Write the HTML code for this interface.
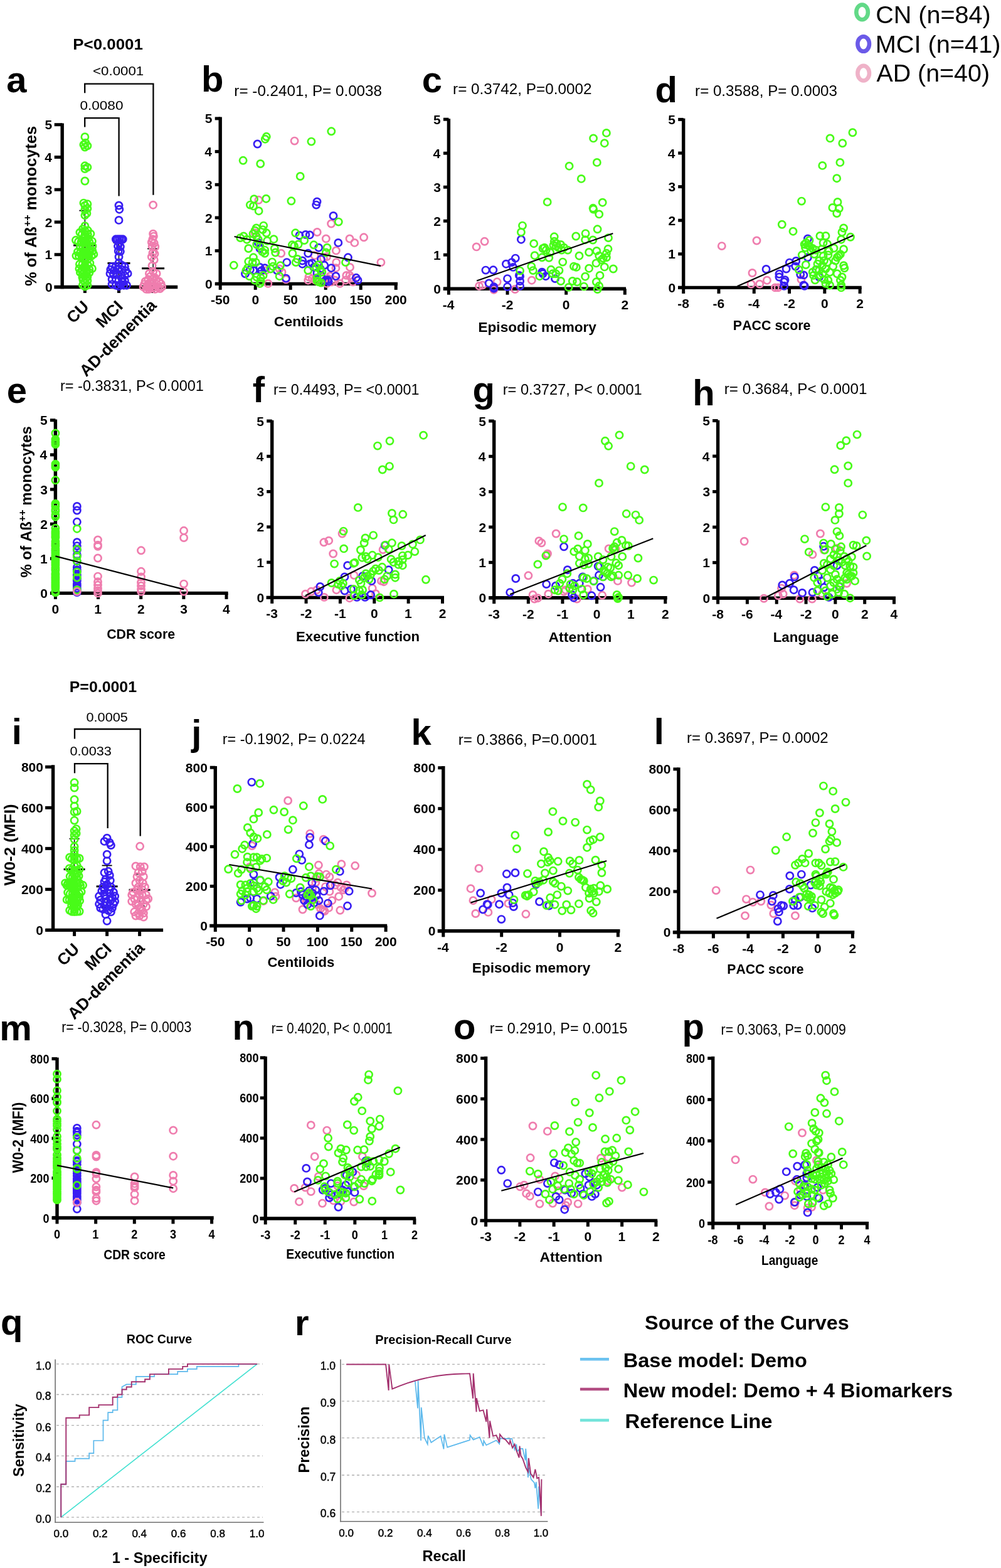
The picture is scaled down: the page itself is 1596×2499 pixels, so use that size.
<!DOCTYPE html>
<html><head><meta charset="utf-8"><style>
html,body{margin:0;padding:0;background:#fff;}
svg{display:block;font-family:"Liberation Sans",Arial,sans-serif;font-kerning:none;}
</style></head><body>
<svg width="1596" height="2499" viewBox="0 0 1596 2499">
<rect width="1596" height="2499" fill="#fff"/>
<line x1="351.20" y1="186.60" x2="351.20" y2="455.10" stroke="#000" stroke-width="5.40"/>
<line x1="343.00" y1="452.40" x2="634.00" y2="452.40" stroke="#000" stroke-width="5.40"/>
<line x1="351.20" y1="452.40" x2="351.20" y2="461.90" stroke="#000" stroke-width="5.00"/>
<text x="336.04" y="485.20" font-size="21.00" font-weight="bold" textLength="30.35" lengthAdjust="spacingAndGlyphs">-50</text>
<line x1="407.20" y1="452.40" x2="407.20" y2="461.90" stroke="#000" stroke-width="5.00"/>
<text x="401.38" y="485.20" font-size="21.00" font-weight="bold" textLength="11.68" lengthAdjust="spacingAndGlyphs">0</text>
<line x1="463.20" y1="452.40" x2="463.20" y2="461.90" stroke="#000" stroke-width="5.00"/>
<text x="451.63" y="485.20" font-size="21.00" font-weight="bold" textLength="23.36" lengthAdjust="spacingAndGlyphs">50</text>
<line x1="519.20" y1="452.40" x2="519.20" y2="461.90" stroke="#000" stroke-width="5.00"/>
<text x="501.45" y="485.20" font-size="21.00" font-weight="bold" textLength="35.04" lengthAdjust="spacingAndGlyphs">100</text>
<line x1="575.20" y1="452.40" x2="575.20" y2="461.90" stroke="#000" stroke-width="5.00"/>
<text x="557.45" y="485.20" font-size="21.00" font-weight="bold" textLength="35.04" lengthAdjust="spacingAndGlyphs">150</text>
<line x1="631.20" y1="452.40" x2="631.20" y2="461.90" stroke="#000" stroke-width="5.00"/>
<text x="613.75" y="485.20" font-size="21.00" font-weight="bold" textLength="35.04" lengthAdjust="spacingAndGlyphs">200</text>
<line x1="342.70" y1="452.40" x2="351.20" y2="452.40" stroke="#000" stroke-width="5.00"/>
<text x="327.08" y="459.92" font-size="21.00" font-weight="bold" textLength="11.68" lengthAdjust="spacingAndGlyphs">0</text>
<line x1="342.70" y1="399.70" x2="351.20" y2="399.70" stroke="#000" stroke-width="5.00"/>
<text x="326.81" y="407.22" font-size="21.00" font-weight="bold" textLength="11.68" lengthAdjust="spacingAndGlyphs">1</text>
<line x1="342.70" y1="347.00" x2="351.20" y2="347.00" stroke="#000" stroke-width="5.00"/>
<text x="327.06" y="354.52" font-size="21.00" font-weight="bold" textLength="11.68" lengthAdjust="spacingAndGlyphs">2</text>
<line x1="342.70" y1="294.30" x2="351.20" y2="294.30" stroke="#000" stroke-width="5.00"/>
<text x="326.98" y="301.82" font-size="21.00" font-weight="bold" textLength="11.68" lengthAdjust="spacingAndGlyphs">3</text>
<line x1="342.70" y1="241.60" x2="351.20" y2="241.60" stroke="#000" stroke-width="5.00"/>
<text x="326.33" y="249.12" font-size="21.00" font-weight="bold" textLength="11.68" lengthAdjust="spacingAndGlyphs">4</text>
<line x1="342.70" y1="188.90" x2="351.20" y2="188.90" stroke="#000" stroke-width="5.00"/>
<text x="326.81" y="196.42" font-size="21.00" font-weight="bold" textLength="11.68" lengthAdjust="spacingAndGlyphs">5</text>
<path d="M464.0 224.6a5.6 5.6 0 1 0 11.2 0a5.6 5.6 0 1 0 -11.2 0M406.8 318.8a5.6 5.6 0 1 0 11.2 0a5.6 5.6 0 1 0 -11.2 0M522.5 356.5a5.6 5.6 0 1 0 11.2 0a5.6 5.6 0 1 0 -11.2 0M500.1 370.0a5.6 5.6 0 1 0 11.2 0a5.6 5.6 0 1 0 -11.2 0M514.2 380.4a5.6 5.6 0 1 0 11.2 0a5.6 5.6 0 1 0 -11.2 0M551.9 380.4a5.6 5.6 0 1 0 11.2 0a5.6 5.6 0 1 0 -11.2 0M559.7 386.9a5.6 5.6 0 1 0 11.2 0a5.6 5.6 0 1 0 -11.2 0M574.5 378.3a5.6 5.6 0 1 0 11.2 0a5.6 5.6 0 1 0 -11.2 0M530.3 399.4a5.6 5.6 0 1 0 11.2 0a5.6 5.6 0 1 0 -11.2 0M442.6 403.8a5.6 5.6 0 1 0 11.2 0a5.6 5.6 0 1 0 -11.2 0M496.0 407.2a5.6 5.6 0 1 0 11.2 0a5.6 5.6 0 1 0 -11.2 0M515.5 409.0a5.6 5.6 0 1 0 11.2 0a5.6 5.6 0 1 0 -11.2 0M530.6 418.1a5.6 5.6 0 1 0 11.2 0a5.6 5.6 0 1 0 -11.2 0M552.4 425.9a5.6 5.6 0 1 0 11.2 0a5.6 5.6 0 1 0 -11.2 0M601.8 418.1a5.6 5.6 0 1 0 11.2 0a5.6 5.6 0 1 0 -11.2 0M443.9 433.7a5.6 5.6 0 1 0 11.2 0a5.6 5.6 0 1 0 -11.2 0M486.9 441.5a5.6 5.6 0 1 0 11.2 0a5.6 5.6 0 1 0 -11.2 0M492.1 444.1a5.6 5.6 0 1 0 11.2 0a5.6 5.6 0 1 0 -11.2 0M520.7 440.2a5.6 5.6 0 1 0 11.2 0a5.6 5.6 0 1 0 -11.2 0M546.7 438.9a5.6 5.6 0 1 0 11.2 0a5.6 5.6 0 1 0 -11.2 0M551.9 438.9a5.6 5.6 0 1 0 11.2 0a5.6 5.6 0 1 0 -11.2 0M421.8 451.9a5.6 5.6 0 1 0 11.2 0a5.6 5.6 0 1 0 -11.2 0M536.3 451.9a5.6 5.6 0 1 0 11.2 0a5.6 5.6 0 1 0 -11.2 0M515.5 451.9a5.6 5.6 0 1 0 11.2 0a5.6 5.6 0 1 0 -11.2 0M401.0 371.3a5.6 5.6 0 1 0 11.2 0a5.6 5.6 0 1 0 -11.2 0M485.6 446.7a5.6 5.6 0 1 0 11.2 0a5.6 5.6 0 1 0 -11.2 0M523.3 449.3a5.6 5.6 0 1 0 11.2 0a5.6 5.6 0 1 0 -11.2 0M545.4 446.7a5.6 5.6 0 1 0 11.2 0a5.6 5.6 0 1 0 -11.2 0M554.5 442.8a5.6 5.6 0 1 0 11.2 0a5.6 5.6 0 1 0 -11.2 0M497.3 446.7a5.6 5.6 0 1 0 11.2 0a5.6 5.6 0 1 0 -11.2 0M505.1 441.5a5.6 5.6 0 1 0 11.2 0a5.6 5.6 0 1 0 -11.2 0M518.1 444.1a5.6 5.6 0 1 0 11.2 0a5.6 5.6 0 1 0 -11.2 0M528.5 446.7a5.6 5.6 0 1 0 11.2 0a5.6 5.6 0 1 0 -11.2 0M450.4 445.4a5.6 5.6 0 1 0 11.2 0a5.6 5.6 0 1 0 -11.2 0M557.1 449.3a5.6 5.6 0 1 0 11.2 0a5.6 5.6 0 1 0 -11.2 0M440.0 428.5a5.6 5.6 0 1 0 11.2 0a5.6 5.6 0 1 0 -11.2 0M417.9 431.1a5.6 5.6 0 1 0 11.2 0a5.6 5.6 0 1 0 -11.2 0M510.3 411.6a5.6 5.6 0 1 0 11.2 0a5.6 5.6 0 1 0 -11.2 0M529.8 427.2a5.6 5.6 0 1 0 11.2 0a5.6 5.6 0 1 0 -11.2 0" fill="none" stroke="#ef7dae" stroke-width="2.70"/>
<path d="M404.9 229.5a5.6 5.6 0 1 0 11.2 0a5.6 5.6 0 1 0 -11.2 0M499.9 321.4a5.6 5.6 0 1 0 11.2 0a5.6 5.6 0 1 0 -11.2 0M498.6 326.6a5.6 5.6 0 1 0 11.2 0a5.6 5.6 0 1 0 -11.2 0M525.9 344.0a5.6 5.6 0 1 0 11.2 0a5.6 5.6 0 1 0 -11.2 0M533.7 386.9a5.6 5.6 0 1 0 11.2 0a5.6 5.6 0 1 0 -11.2 0M471.8 375.2a5.6 5.6 0 1 0 11.2 0a5.6 5.6 0 1 0 -11.2 0M481.7 373.9a5.6 5.6 0 1 0 11.2 0a5.6 5.6 0 1 0 -11.2 0M488.2 374.4a5.6 5.6 0 1 0 11.2 0a5.6 5.6 0 1 0 -11.2 0M502.5 394.7a5.6 5.6 0 1 0 11.2 0a5.6 5.6 0 1 0 -11.2 0M485.6 403.8a5.6 5.6 0 1 0 11.2 0a5.6 5.6 0 1 0 -11.2 0M506.4 412.9a5.6 5.6 0 1 0 11.2 0a5.6 5.6 0 1 0 -11.2 0M549.3 410.3a5.6 5.6 0 1 0 11.2 0a5.6 5.6 0 1 0 -11.2 0M451.7 418.1a5.6 5.6 0 1 0 11.2 0a5.6 5.6 0 1 0 -11.2 0M476.5 420.7a5.6 5.6 0 1 0 11.2 0a5.6 5.6 0 1 0 -11.2 0M488.2 420.7a5.6 5.6 0 1 0 11.2 0a5.6 5.6 0 1 0 -11.2 0M492.1 419.4a5.6 5.6 0 1 0 11.2 0a5.6 5.6 0 1 0 -11.2 0M511.6 422.8a5.6 5.6 0 1 0 11.2 0a5.6 5.6 0 1 0 -11.2 0M522.5 427.2a5.6 5.6 0 1 0 11.2 0a5.6 5.6 0 1 0 -11.2 0M408.8 425.9a5.6 5.6 0 1 0 11.2 0a5.6 5.6 0 1 0 -11.2 0M416.6 427.2a5.6 5.6 0 1 0 11.2 0a5.6 5.6 0 1 0 -11.2 0M398.4 431.1a5.6 5.6 0 1 0 11.2 0a5.6 5.6 0 1 0 -11.2 0M385.4 436.3a5.6 5.6 0 1 0 11.2 0a5.6 5.6 0 1 0 -11.2 0M411.4 431.1a5.6 5.6 0 1 0 11.2 0a5.6 5.6 0 1 0 -11.2 0M436.1 431.1a5.6 5.6 0 1 0 11.2 0a5.6 5.6 0 1 0 -11.2 0M450.4 443.6a5.6 5.6 0 1 0 11.2 0a5.6 5.6 0 1 0 -11.2 0M529.8 440.2a5.6 5.6 0 1 0 11.2 0a5.6 5.6 0 1 0 -11.2 0M562.3 442.8a5.6 5.6 0 1 0 11.2 0a5.6 5.6 0 1 0 -11.2 0M564.9 446.7a5.6 5.6 0 1 0 11.2 0a5.6 5.6 0 1 0 -11.2 0M512.9 447.5a5.6 5.6 0 1 0 11.2 0a5.6 5.6 0 1 0 -11.2 0M518.1 448.8a5.6 5.6 0 1 0 11.2 0a5.6 5.6 0 1 0 -11.2 0M406.2 386.9a5.6 5.6 0 1 0 11.2 0a5.6 5.6 0 1 0 -11.2 0M408.8 396.0a5.6 5.6 0 1 0 11.2 0a5.6 5.6 0 1 0 -11.2 0M499.9 435.0a5.6 5.6 0 1 0 11.2 0a5.6 5.6 0 1 0 -11.2 0M505.1 428.5a5.6 5.6 0 1 0 11.2 0a5.6 5.6 0 1 0 -11.2 0M516.8 446.2a5.6 5.6 0 1 0 11.2 0a5.6 5.6 0 1 0 -11.2 0M506.4 438.9a5.6 5.6 0 1 0 11.2 0a5.6 5.6 0 1 0 -11.2 0M410.1 432.4a5.6 5.6 0 1 0 11.2 0a5.6 5.6 0 1 0 -11.2 0M393.2 429.8a5.6 5.6 0 1 0 11.2 0a5.6 5.6 0 1 0 -11.2 0M476.5 415.5a5.6 5.6 0 1 0 11.2 0a5.6 5.6 0 1 0 -11.2 0M494.7 425.9a5.6 5.6 0 1 0 11.2 0a5.6 5.6 0 1 0 -11.2 0" fill="none" stroke="#381ef2" stroke-width="2.70"/>
<path d="M522.7 209.3a5.6 5.6 0 1 0 11.2 0a5.6 5.6 0 1 0 -11.2 0M417.2 221.7a5.6 5.6 0 1 0 11.2 0a5.6 5.6 0 1 0 -11.2 0M419.2 217.8a5.6 5.6 0 1 0 11.2 0a5.6 5.6 0 1 0 -11.2 0M490.8 225.6a5.6 5.6 0 1 0 11.2 0a5.6 5.6 0 1 0 -11.2 0M382.0 255.8a5.6 5.6 0 1 0 11.2 0a5.6 5.6 0 1 0 -11.2 0M409.6 261.0a5.6 5.6 0 1 0 11.2 0a5.6 5.6 0 1 0 -11.2 0M473.1 281.0a5.6 5.6 0 1 0 11.2 0a5.6 5.6 0 1 0 -11.2 0M399.5 317.2a5.6 5.6 0 1 0 11.2 0a5.6 5.6 0 1 0 -11.2 0M418.7 316.7a5.6 5.6 0 1 0 11.2 0a5.6 5.6 0 1 0 -11.2 0M458.8 320.3a5.6 5.6 0 1 0 11.2 0a5.6 5.6 0 1 0 -11.2 0M393.2 326.6a5.6 5.6 0 1 0 11.2 0a5.6 5.6 0 1 0 -11.2 0M398.4 328.4a5.6 5.6 0 1 0 11.2 0a5.6 5.6 0 1 0 -11.2 0M407.0 336.2a5.6 5.6 0 1 0 11.2 0a5.6 5.6 0 1 0 -11.2 0M534.2 353.6a5.6 5.6 0 1 0 11.2 0a5.6 5.6 0 1 0 -11.2 0M403.1 363.5a5.6 5.6 0 1 0 11.2 0a5.6 5.6 0 1 0 -11.2 0M414.6 359.6a5.6 5.6 0 1 0 11.2 0a5.6 5.6 0 1 0 -11.2 0M413.3 366.1a5.6 5.6 0 1 0 11.2 0a5.6 5.6 0 1 0 -11.2 0M419.2 371.3a5.6 5.6 0 1 0 11.2 0a5.6 5.6 0 1 0 -11.2 0M397.9 372.6a5.6 5.6 0 1 0 11.2 0a5.6 5.6 0 1 0 -11.2 0M403.1 376.5a5.6 5.6 0 1 0 11.2 0a5.6 5.6 0 1 0 -11.2 0M382.8 376.5a5.6 5.6 0 1 0 11.2 0a5.6 5.6 0 1 0 -11.2 0M377.6 379.1a5.6 5.6 0 1 0 11.2 0a5.6 5.6 0 1 0 -11.2 0M388.0 381.7a5.6 5.6 0 1 0 11.2 0a5.6 5.6 0 1 0 -11.2 0M465.5 371.3a5.6 5.6 0 1 0 11.2 0a5.6 5.6 0 1 0 -11.2 0M430.9 381.2a5.6 5.6 0 1 0 11.2 0a5.6 5.6 0 1 0 -11.2 0M420.5 383.8a5.6 5.6 0 1 0 11.2 0a5.6 5.6 0 1 0 -11.2 0M479.6 383.0a5.6 5.6 0 1 0 11.2 0a5.6 5.6 0 1 0 -11.2 0M470.0 389.5a5.6 5.6 0 1 0 11.2 0a5.6 5.6 0 1 0 -11.2 0M460.3 390.3a5.6 5.6 0 1 0 11.2 0a5.6 5.6 0 1 0 -11.2 0M463.5 392.1a5.6 5.6 0 1 0 11.2 0a5.6 5.6 0 1 0 -11.2 0M494.7 390.3a5.6 5.6 0 1 0 11.2 0a5.6 5.6 0 1 0 -11.2 0M516.0 394.7a5.6 5.6 0 1 0 11.2 0a5.6 5.6 0 1 0 -11.2 0M514.2 402.5a5.6 5.6 0 1 0 11.2 0a5.6 5.6 0 1 0 -11.2 0M403.6 389.5a5.6 5.6 0 1 0 11.2 0a5.6 5.6 0 1 0 -11.2 0M408.8 392.1a5.6 5.6 0 1 0 11.2 0a5.6 5.6 0 1 0 -11.2 0M390.6 396.0a5.6 5.6 0 1 0 11.2 0a5.6 5.6 0 1 0 -11.2 0M416.6 398.6a5.6 5.6 0 1 0 11.2 0a5.6 5.6 0 1 0 -11.2 0M432.2 396.0a5.6 5.6 0 1 0 11.2 0a5.6 5.6 0 1 0 -11.2 0M433.5 402.5a5.6 5.6 0 1 0 11.2 0a5.6 5.6 0 1 0 -11.2 0M416.6 403.8a5.6 5.6 0 1 0 11.2 0a5.6 5.6 0 1 0 -11.2 0M460.8 403.8a5.6 5.6 0 1 0 11.2 0a5.6 5.6 0 1 0 -11.2 0M398.4 410.3a5.6 5.6 0 1 0 11.2 0a5.6 5.6 0 1 0 -11.2 0M390.6 416.8a5.6 5.6 0 1 0 11.2 0a5.6 5.6 0 1 0 -11.2 0M397.1 418.1a5.6 5.6 0 1 0 11.2 0a5.6 5.6 0 1 0 -11.2 0M402.3 418.1a5.6 5.6 0 1 0 11.2 0a5.6 5.6 0 1 0 -11.2 0M367.2 422.8a5.6 5.6 0 1 0 11.2 0a5.6 5.6 0 1 0 -11.2 0M428.3 417.6a5.6 5.6 0 1 0 11.2 0a5.6 5.6 0 1 0 -11.2 0M429.6 424.6a5.6 5.6 0 1 0 11.2 0a5.6 5.6 0 1 0 -11.2 0M441.3 423.3a5.6 5.6 0 1 0 11.2 0a5.6 5.6 0 1 0 -11.2 0M468.7 412.9a5.6 5.6 0 1 0 11.2 0a5.6 5.6 0 1 0 -11.2 0M466.1 418.1a5.6 5.6 0 1 0 11.2 0a5.6 5.6 0 1 0 -11.2 0M545.4 418.1a5.6 5.6 0 1 0 11.2 0a5.6 5.6 0 1 0 -11.2 0M389.3 427.2a5.6 5.6 0 1 0 11.2 0a5.6 5.6 0 1 0 -11.2 0M386.7 431.1a5.6 5.6 0 1 0 11.2 0a5.6 5.6 0 1 0 -11.2 0M425.7 428.5a5.6 5.6 0 1 0 11.2 0a5.6 5.6 0 1 0 -11.2 0M485.6 431.1a5.6 5.6 0 1 0 11.2 0a5.6 5.6 0 1 0 -11.2 0M498.6 425.9a5.6 5.6 0 1 0 11.2 0a5.6 5.6 0 1 0 -11.2 0M502.5 422.0a5.6 5.6 0 1 0 11.2 0a5.6 5.6 0 1 0 -11.2 0M505.1 429.8a5.6 5.6 0 1 0 11.2 0a5.6 5.6 0 1 0 -11.2 0M507.7 433.7a5.6 5.6 0 1 0 11.2 0a5.6 5.6 0 1 0 -11.2 0M391.9 440.2a5.6 5.6 0 1 0 11.2 0a5.6 5.6 0 1 0 -11.2 0M403.6 441.5a5.6 5.6 0 1 0 11.2 0a5.6 5.6 0 1 0 -11.2 0M410.1 442.8a5.6 5.6 0 1 0 11.2 0a5.6 5.6 0 1 0 -11.2 0M440.0 440.2a5.6 5.6 0 1 0 11.2 0a5.6 5.6 0 1 0 -11.2 0M400.5 446.7a5.6 5.6 0 1 0 11.2 0a5.6 5.6 0 1 0 -11.2 0M410.1 448.0a5.6 5.6 0 1 0 11.2 0a5.6 5.6 0 1 0 -11.2 0M408.8 451.9a5.6 5.6 0 1 0 11.2 0a5.6 5.6 0 1 0 -11.2 0M499.9 447.5a5.6 5.6 0 1 0 11.2 0a5.6 5.6 0 1 0 -11.2 0M502.5 449.3a5.6 5.6 0 1 0 11.2 0a5.6 5.6 0 1 0 -11.2 0M506.4 450.6a5.6 5.6 0 1 0 11.2 0a5.6 5.6 0 1 0 -11.2 0M406.2 381.7a5.6 5.6 0 1 0 11.2 0a5.6 5.6 0 1 0 -11.2 0M412.7 401.2a5.6 5.6 0 1 0 11.2 0a5.6 5.6 0 1 0 -11.2 0M401.0 367.4a5.6 5.6 0 1 0 11.2 0a5.6 5.6 0 1 0 -11.2 0M499.9 442.8a5.6 5.6 0 1 0 11.2 0a5.6 5.6 0 1 0 -11.2 0M414.0 438.9a5.6 5.6 0 1 0 11.2 0a5.6 5.6 0 1 0 -11.2 0" fill="none" stroke="#48fb18" stroke-width="2.70"/>
<line x1="373.60" y1="377.00" x2="606.90" y2="423.80" stroke="#000" stroke-width="2.20"/>
<text x="373.39" y="153.00" font-size="23.50" font-weight="normal" textLength="235.66" lengthAdjust="spacingAndGlyphs" fill="#000">r= -0.2401, P= 0.0038</text>
<text x="436.86" y="519.50" font-size="22.50" font-weight="bold" textLength="110.68" lengthAdjust="spacingAndGlyphs" fill="#000">Centiloids</text>
<line x1="715.40" y1="189.20" x2="715.40" y2="462.90" stroke="#000" stroke-width="5.40"/>
<line x1="706.80" y1="460.20" x2="998.00" y2="460.20" stroke="#000" stroke-width="5.40"/>
<line x1="715.40" y1="460.20" x2="715.40" y2="469.70" stroke="#000" stroke-width="5.00"/>
<text x="705.71" y="493.00" font-size="21.00" font-weight="bold" textLength="18.67" lengthAdjust="spacingAndGlyphs">-4</text>
<line x1="809.03" y1="460.20" x2="809.03" y2="469.70" stroke="#000" stroke-width="5.00"/>
<text x="799.71" y="493.00" font-size="21.00" font-weight="bold" textLength="18.67" lengthAdjust="spacingAndGlyphs">-2</text>
<line x1="902.67" y1="460.20" x2="902.67" y2="469.70" stroke="#000" stroke-width="5.00"/>
<text x="896.84" y="493.00" font-size="21.00" font-weight="bold" textLength="11.68" lengthAdjust="spacingAndGlyphs">0</text>
<line x1="996.30" y1="460.20" x2="996.30" y2="469.70" stroke="#000" stroke-width="5.00"/>
<text x="990.52" y="493.00" font-size="21.00" font-weight="bold" textLength="11.68" lengthAdjust="spacingAndGlyphs">2</text>
<line x1="706.90" y1="460.20" x2="715.40" y2="460.20" stroke="#000" stroke-width="5.00"/>
<text x="691.28" y="467.72" font-size="21.00" font-weight="bold" textLength="11.68" lengthAdjust="spacingAndGlyphs">0</text>
<line x1="706.90" y1="406.20" x2="715.40" y2="406.20" stroke="#000" stroke-width="5.00"/>
<text x="691.01" y="413.72" font-size="21.00" font-weight="bold" textLength="11.68" lengthAdjust="spacingAndGlyphs">1</text>
<line x1="706.90" y1="352.20" x2="715.40" y2="352.20" stroke="#000" stroke-width="5.00"/>
<text x="691.26" y="359.72" font-size="21.00" font-weight="bold" textLength="11.68" lengthAdjust="spacingAndGlyphs">2</text>
<line x1="706.90" y1="298.20" x2="715.40" y2="298.20" stroke="#000" stroke-width="5.00"/>
<text x="691.18" y="305.72" font-size="21.00" font-weight="bold" textLength="11.68" lengthAdjust="spacingAndGlyphs">3</text>
<line x1="706.90" y1="244.20" x2="715.40" y2="244.20" stroke="#000" stroke-width="5.00"/>
<text x="690.53" y="251.72" font-size="21.00" font-weight="bold" textLength="11.68" lengthAdjust="spacingAndGlyphs">4</text>
<line x1="706.90" y1="190.20" x2="715.40" y2="190.20" stroke="#000" stroke-width="5.00"/>
<text x="691.01" y="197.72" font-size="21.00" font-weight="bold" textLength="11.68" lengthAdjust="spacingAndGlyphs">5</text>
<path d="M754.0 393.4a5.6 5.6 0 1 0 11.2 0a5.6 5.6 0 1 0 -11.2 0M767.0 384.8a5.6 5.6 0 1 0 11.2 0a5.6 5.6 0 1 0 -11.2 0M787.0 449.3a5.6 5.6 0 1 0 11.2 0a5.6 5.6 0 1 0 -11.2 0M842.2 446.7a5.6 5.6 0 1 0 11.2 0a5.6 5.6 0 1 0 -11.2 0M758.4 455.8a5.6 5.6 0 1 0 11.2 0a5.6 5.6 0 1 0 -11.2 0M763.6 454.5a5.6 5.6 0 1 0 11.2 0a5.6 5.6 0 1 0 -11.2 0M781.8 461.8a5.6 5.6 0 1 0 11.2 0a5.6 5.6 0 1 0 -11.2 0M815.6 461.0a5.6 5.6 0 1 0 11.2 0a5.6 5.6 0 1 0 -11.2 0" fill="none" stroke="#ef7dae" stroke-width="2.70"/>
<path d="M825.3 381.7a5.6 5.6 0 1 0 11.2 0a5.6 5.6 0 1 0 -11.2 0M816.2 411.6a5.6 5.6 0 1 0 11.2 0a5.6 5.6 0 1 0 -11.2 0M801.3 420.7a5.6 5.6 0 1 0 11.2 0a5.6 5.6 0 1 0 -11.2 0M810.4 418.1a5.6 5.6 0 1 0 11.2 0a5.6 5.6 0 1 0 -11.2 0M812.5 425.9a5.6 5.6 0 1 0 11.2 0a5.6 5.6 0 1 0 -11.2 0M768.8 430.6a5.6 5.6 0 1 0 11.2 0a5.6 5.6 0 1 0 -11.2 0M780.8 430.3a5.6 5.6 0 1 0 11.2 0a5.6 5.6 0 1 0 -11.2 0M822.2 438.9a5.6 5.6 0 1 0 11.2 0a5.6 5.6 0 1 0 -11.2 0M823.5 440.2a5.6 5.6 0 1 0 11.2 0a5.6 5.6 0 1 0 -11.2 0M858.6 433.7a5.6 5.6 0 1 0 11.2 0a5.6 5.6 0 1 0 -11.2 0M859.9 436.3a5.6 5.6 0 1 0 11.2 0a5.6 5.6 0 1 0 -11.2 0M864.5 440.2a5.6 5.6 0 1 0 11.2 0a5.6 5.6 0 1 0 -11.2 0M823.5 448.0a5.6 5.6 0 1 0 11.2 0a5.6 5.6 0 1 0 -11.2 0M803.4 444.1a5.6 5.6 0 1 0 11.2 0a5.6 5.6 0 1 0 -11.2 0M774.0 451.4a5.6 5.6 0 1 0 11.2 0a5.6 5.6 0 1 0 -11.2 0M781.8 457.1a5.6 5.6 0 1 0 11.2 0a5.6 5.6 0 1 0 -11.2 0M803.4 457.1a5.6 5.6 0 1 0 11.2 0a5.6 5.6 0 1 0 -11.2 0M823.5 455.8a5.6 5.6 0 1 0 11.2 0a5.6 5.6 0 1 0 -11.2 0M879.4 444.1a5.6 5.6 0 1 0 11.2 0a5.6 5.6 0 1 0 -11.2 0M781.8 459.7a5.6 5.6 0 1 0 11.2 0a5.6 5.6 0 1 0 -11.2 0" fill="none" stroke="#381ef2" stroke-width="2.70"/>
<path d="M961.3 211.9a5.6 5.6 0 1 0 11.2 0a5.6 5.6 0 1 0 -11.2 0M940.5 220.4a5.6 5.6 0 1 0 11.2 0a5.6 5.6 0 1 0 -11.2 0M958.2 228.2a5.6 5.6 0 1 0 11.2 0a5.6 5.6 0 1 0 -11.2 0M902.0 264.7a5.6 5.6 0 1 0 11.2 0a5.6 5.6 0 1 0 -11.2 0M946.2 258.9a5.6 5.6 0 1 0 11.2 0a5.6 5.6 0 1 0 -11.2 0M921.2 284.9a5.6 5.6 0 1 0 11.2 0a5.6 5.6 0 1 0 -11.2 0M867.1 321.9a5.6 5.6 0 1 0 11.2 0a5.6 5.6 0 1 0 -11.2 0M955.1 322.7a5.6 5.6 0 1 0 11.2 0a5.6 5.6 0 1 0 -11.2 0M940.0 331.8a5.6 5.6 0 1 0 11.2 0a5.6 5.6 0 1 0 -11.2 0M940.5 333.6a5.6 5.6 0 1 0 11.2 0a5.6 5.6 0 1 0 -11.2 0M949.6 341.4a5.6 5.6 0 1 0 11.2 0a5.6 5.6 0 1 0 -11.2 0M827.4 359.6a5.6 5.6 0 1 0 11.2 0a5.6 5.6 0 1 0 -11.2 0M825.3 370.0a5.6 5.6 0 1 0 11.2 0a5.6 5.6 0 1 0 -11.2 0M947.0 365.3a5.6 5.6 0 1 0 11.2 0a5.6 5.6 0 1 0 -11.2 0M878.1 377.3a5.6 5.6 0 1 0 11.2 0a5.6 5.6 0 1 0 -11.2 0M912.7 376.5a5.6 5.6 0 1 0 11.2 0a5.6 5.6 0 1 0 -11.2 0M928.0 372.1a5.6 5.6 0 1 0 11.2 0a5.6 5.6 0 1 0 -11.2 0M964.4 379.1a5.6 5.6 0 1 0 11.2 0a5.6 5.6 0 1 0 -11.2 0M845.6 388.2a5.6 5.6 0 1 0 11.2 0a5.6 5.6 0 1 0 -11.2 0M927.5 382.2a5.6 5.6 0 1 0 11.2 0a5.6 5.6 0 1 0 -11.2 0M939.7 382.5a5.6 5.6 0 1 0 11.2 0a5.6 5.6 0 1 0 -11.2 0M878.1 384.8a5.6 5.6 0 1 0 11.2 0a5.6 5.6 0 1 0 -11.2 0M882.0 388.2a5.6 5.6 0 1 0 11.2 0a5.6 5.6 0 1 0 -11.2 0M888.5 390.0a5.6 5.6 0 1 0 11.2 0a5.6 5.6 0 1 0 -11.2 0M876.8 390.8a5.6 5.6 0 1 0 11.2 0a5.6 5.6 0 1 0 -11.2 0M862.5 394.7a5.6 5.6 0 1 0 11.2 0a5.6 5.6 0 1 0 -11.2 0M859.9 396.0a5.6 5.6 0 1 0 11.2 0a5.6 5.6 0 1 0 -11.2 0M865.1 398.6a5.6 5.6 0 1 0 11.2 0a5.6 5.6 0 1 0 -11.2 0M884.6 394.7a5.6 5.6 0 1 0 11.2 0a5.6 5.6 0 1 0 -11.2 0M893.7 394.7a5.6 5.6 0 1 0 11.2 0a5.6 5.6 0 1 0 -11.2 0M899.7 398.6a5.6 5.6 0 1 0 11.2 0a5.6 5.6 0 1 0 -11.2 0M871.6 402.5a5.6 5.6 0 1 0 11.2 0a5.6 5.6 0 1 0 -11.2 0M945.7 399.9a5.6 5.6 0 1 0 11.2 0a5.6 5.6 0 1 0 -11.2 0M963.9 396.8a5.6 5.6 0 1 0 11.2 0a5.6 5.6 0 1 0 -11.2 0M961.3 403.8a5.6 5.6 0 1 0 11.2 0a5.6 5.6 0 1 0 -11.2 0M846.9 407.2a5.6 5.6 0 1 0 11.2 0a5.6 5.6 0 1 0 -11.2 0M917.9 407.7a5.6 5.6 0 1 0 11.2 0a5.6 5.6 0 1 0 -11.2 0M933.5 402.0a5.6 5.6 0 1 0 11.2 0a5.6 5.6 0 1 0 -11.2 0M949.6 407.7a5.6 5.6 0 1 0 11.2 0a5.6 5.6 0 1 0 -11.2 0M956.1 411.6a5.6 5.6 0 1 0 11.2 0a5.6 5.6 0 1 0 -11.2 0M961.3 410.3a5.6 5.6 0 1 0 11.2 0a5.6 5.6 0 1 0 -11.2 0M858.6 410.3a5.6 5.6 0 1 0 11.2 0a5.6 5.6 0 1 0 -11.2 0M869.7 410.8a5.6 5.6 0 1 0 11.2 0a5.6 5.6 0 1 0 -11.2 0M891.6 417.6a5.6 5.6 0 1 0 11.2 0a5.6 5.6 0 1 0 -11.2 0M944.9 419.4a5.6 5.6 0 1 0 11.2 0a5.6 5.6 0 1 0 -11.2 0M958.2 425.4a5.6 5.6 0 1 0 11.2 0a5.6 5.6 0 1 0 -11.2 0M841.7 424.6a5.6 5.6 0 1 0 11.2 0a5.6 5.6 0 1 0 -11.2 0M844.3 431.1a5.6 5.6 0 1 0 11.2 0a5.6 5.6 0 1 0 -11.2 0M823.5 431.6a5.6 5.6 0 1 0 11.2 0a5.6 5.6 0 1 0 -11.2 0M872.9 429.8a5.6 5.6 0 1 0 11.2 0a5.6 5.6 0 1 0 -11.2 0M885.9 431.1a5.6 5.6 0 1 0 11.2 0a5.6 5.6 0 1 0 -11.2 0M909.3 424.6a5.6 5.6 0 1 0 11.2 0a5.6 5.6 0 1 0 -11.2 0M913.2 425.9a5.6 5.6 0 1 0 11.2 0a5.6 5.6 0 1 0 -11.2 0M933.5 427.7a5.6 5.6 0 1 0 11.2 0a5.6 5.6 0 1 0 -11.2 0M972.2 428.5a5.6 5.6 0 1 0 11.2 0a5.6 5.6 0 1 0 -11.2 0M880.7 436.3a5.6 5.6 0 1 0 11.2 0a5.6 5.6 0 1 0 -11.2 0M875.5 436.3a5.6 5.6 0 1 0 11.2 0a5.6 5.6 0 1 0 -11.2 0M854.7 440.2a5.6 5.6 0 1 0 11.2 0a5.6 5.6 0 1 0 -11.2 0M927.5 440.7a5.6 5.6 0 1 0 11.2 0a5.6 5.6 0 1 0 -11.2 0M950.9 438.9a5.6 5.6 0 1 0 11.2 0a5.6 5.6 0 1 0 -11.2 0M888.5 448.0a5.6 5.6 0 1 0 11.2 0a5.6 5.6 0 1 0 -11.2 0M907.2 448.0a5.6 5.6 0 1 0 11.2 0a5.6 5.6 0 1 0 -11.2 0M914.5 449.3a5.6 5.6 0 1 0 11.2 0a5.6 5.6 0 1 0 -11.2 0M945.2 449.3a5.6 5.6 0 1 0 11.2 0a5.6 5.6 0 1 0 -11.2 0M901.0 457.9a5.6 5.6 0 1 0 11.2 0a5.6 5.6 0 1 0 -11.2 0M925.4 456.6a5.6 5.6 0 1 0 11.2 0a5.6 5.6 0 1 0 -11.2 0M949.6 455.8a5.6 5.6 0 1 0 11.2 0a5.6 5.6 0 1 0 -11.2 0M947.0 461.0a5.6 5.6 0 1 0 11.2 0a5.6 5.6 0 1 0 -11.2 0M880.7 392.1a5.6 5.6 0 1 0 11.2 0a5.6 5.6 0 1 0 -11.2 0M889.8 398.6a5.6 5.6 0 1 0 11.2 0a5.6 5.6 0 1 0 -11.2 0M953.5 414.2a5.6 5.6 0 1 0 11.2 0a5.6 5.6 0 1 0 -11.2 0" fill="none" stroke="#48fb18" stroke-width="2.70"/>
<line x1="760.10" y1="447.50" x2="977.30" y2="372.00" stroke="#000" stroke-width="2.20"/>
<text x="722.09" y="149.70" font-size="23.50" font-weight="normal" textLength="221.33" lengthAdjust="spacingAndGlyphs" fill="#000">r= 0.3742, P=0.0002</text>
<text x="762.49" y="528.60" font-size="22.50" font-weight="bold" textLength="188.43" lengthAdjust="spacingAndGlyphs" fill="#000">Episodic memory</text>
<line x1="1089.70" y1="188.70" x2="1089.70" y2="461.10" stroke="#000" stroke-width="5.40"/>
<line x1="1081.00" y1="458.40" x2="1373.70" y2="458.40" stroke="#000" stroke-width="5.40"/>
<line x1="1089.70" y1="458.40" x2="1089.70" y2="467.90" stroke="#000" stroke-width="5.00"/>
<text x="1080.28" y="491.20" font-size="21.00" font-weight="bold" textLength="18.67" lengthAdjust="spacingAndGlyphs">-8</text>
<line x1="1145.98" y1="458.40" x2="1145.98" y2="467.90" stroke="#000" stroke-width="5.00"/>
<text x="1136.61" y="491.20" font-size="21.00" font-weight="bold" textLength="18.67" lengthAdjust="spacingAndGlyphs">-6</text>
<line x1="1202.26" y1="458.40" x2="1202.26" y2="467.90" stroke="#000" stroke-width="5.00"/>
<text x="1192.57" y="491.20" font-size="21.00" font-weight="bold" textLength="18.67" lengthAdjust="spacingAndGlyphs">-4</text>
<line x1="1258.54" y1="458.40" x2="1258.54" y2="467.90" stroke="#000" stroke-width="5.00"/>
<text x="1249.21" y="491.20" font-size="21.00" font-weight="bold" textLength="18.67" lengthAdjust="spacingAndGlyphs">-2</text>
<line x1="1314.82" y1="458.40" x2="1314.82" y2="467.90" stroke="#000" stroke-width="5.00"/>
<text x="1309.00" y="491.20" font-size="21.00" font-weight="bold" textLength="11.68" lengthAdjust="spacingAndGlyphs">0</text>
<line x1="1371.10" y1="458.40" x2="1371.10" y2="467.90" stroke="#000" stroke-width="5.00"/>
<text x="1365.32" y="491.20" font-size="21.00" font-weight="bold" textLength="11.68" lengthAdjust="spacingAndGlyphs">2</text>
<line x1="1081.20" y1="458.40" x2="1089.70" y2="458.40" stroke="#000" stroke-width="5.00"/>
<text x="1065.58" y="465.92" font-size="21.00" font-weight="bold" textLength="11.68" lengthAdjust="spacingAndGlyphs">0</text>
<line x1="1081.20" y1="404.80" x2="1089.70" y2="404.80" stroke="#000" stroke-width="5.00"/>
<text x="1065.31" y="412.32" font-size="21.00" font-weight="bold" textLength="11.68" lengthAdjust="spacingAndGlyphs">1</text>
<line x1="1081.20" y1="351.20" x2="1089.70" y2="351.20" stroke="#000" stroke-width="5.00"/>
<text x="1065.56" y="358.72" font-size="21.00" font-weight="bold" textLength="11.68" lengthAdjust="spacingAndGlyphs">2</text>
<line x1="1081.20" y1="297.60" x2="1089.70" y2="297.60" stroke="#000" stroke-width="5.00"/>
<text x="1065.48" y="305.12" font-size="21.00" font-weight="bold" textLength="11.68" lengthAdjust="spacingAndGlyphs">3</text>
<line x1="1081.20" y1="244.00" x2="1089.70" y2="244.00" stroke="#000" stroke-width="5.00"/>
<text x="1064.83" y="251.52" font-size="21.00" font-weight="bold" textLength="11.68" lengthAdjust="spacingAndGlyphs">4</text>
<line x1="1081.20" y1="190.40" x2="1089.70" y2="190.40" stroke="#000" stroke-width="5.00"/>
<text x="1065.31" y="197.92" font-size="21.00" font-weight="bold" textLength="11.68" lengthAdjust="spacingAndGlyphs">5</text>
<path d="M1145.2 392.1a5.6 5.6 0 1 0 11.2 0a5.6 5.6 0 1 0 -11.2 0M1200.9 383.5a5.6 5.6 0 1 0 11.2 0a5.6 5.6 0 1 0 -11.2 0M1193.9 435.0a5.6 5.6 0 1 0 11.2 0a5.6 5.6 0 1 0 -11.2 0M1217.3 446.7a5.6 5.6 0 1 0 11.2 0a5.6 5.6 0 1 0 -11.2 0M1205.6 452.7a5.6 5.6 0 1 0 11.2 0a5.6 5.6 0 1 0 -11.2 0M1192.0 452.7a5.6 5.6 0 1 0 11.2 0a5.6 5.6 0 1 0 -11.2 0M1234.9 458.4a5.6 5.6 0 1 0 11.2 0a5.6 5.6 0 1 0 -11.2 0M1230.3 458.4a5.6 5.6 0 1 0 11.2 0a5.6 5.6 0 1 0 -11.2 0M1271.9 445.4a5.6 5.6 0 1 0 11.2 0a5.6 5.6 0 1 0 -11.2 0" fill="none" stroke="#ef7dae" stroke-width="2.70"/>
<path d="M1282.3 380.4a5.6 5.6 0 1 0 11.2 0a5.6 5.6 0 1 0 -11.2 0M1282.3 410.3a5.6 5.6 0 1 0 11.2 0a5.6 5.6 0 1 0 -11.2 0M1263.6 416.0a5.6 5.6 0 1 0 11.2 0a5.6 5.6 0 1 0 -11.2 0M1253.2 418.6a5.6 5.6 0 1 0 11.2 0a5.6 5.6 0 1 0 -11.2 0M1262.8 424.6a5.6 5.6 0 1 0 11.2 0a5.6 5.6 0 1 0 -11.2 0M1216.0 429.0a5.6 5.6 0 1 0 11.2 0a5.6 5.6 0 1 0 -11.2 0M1248.0 428.5a5.6 5.6 0 1 0 11.2 0a5.6 5.6 0 1 0 -11.2 0M1236.8 436.8a5.6 5.6 0 1 0 11.2 0a5.6 5.6 0 1 0 -11.2 0M1236.8 441.5a5.6 5.6 0 1 0 11.2 0a5.6 5.6 0 1 0 -11.2 0M1245.9 446.2a5.6 5.6 0 1 0 11.2 0a5.6 5.6 0 1 0 -11.2 0M1244.6 449.3a5.6 5.6 0 1 0 11.2 0a5.6 5.6 0 1 0 -11.2 0M1270.6 437.6a5.6 5.6 0 1 0 11.2 0a5.6 5.6 0 1 0 -11.2 0M1275.8 438.4a5.6 5.6 0 1 0 11.2 0a5.6 5.6 0 1 0 -11.2 0M1295.8 429.8a5.6 5.6 0 1 0 11.2 0a5.6 5.6 0 1 0 -11.2 0M1300.5 441.5a5.6 5.6 0 1 0 11.2 0a5.6 5.6 0 1 0 -11.2 0M1244.6 455.8a5.6 5.6 0 1 0 11.2 0a5.6 5.6 0 1 0 -11.2 0M1275.8 454.5a5.6 5.6 0 1 0 11.2 0a5.6 5.6 0 1 0 -11.2 0M1277.1 455.8a5.6 5.6 0 1 0 11.2 0a5.6 5.6 0 1 0 -11.2 0" fill="none" stroke="#381ef2" stroke-width="2.70"/>
<path d="M1353.8 211.3a5.6 5.6 0 1 0 11.2 0a5.6 5.6 0 1 0 -11.2 0M1317.9 220.4a5.6 5.6 0 1 0 11.2 0a5.6 5.6 0 1 0 -11.2 0M1337.7 228.2a5.6 5.6 0 1 0 11.2 0a5.6 5.6 0 1 0 -11.2 0M1305.7 263.9a5.6 5.6 0 1 0 11.2 0a5.6 5.6 0 1 0 -11.2 0M1333.8 258.9a5.6 5.6 0 1 0 11.2 0a5.6 5.6 0 1 0 -11.2 0M1328.6 284.2a5.6 5.6 0 1 0 11.2 0a5.6 5.6 0 1 0 -11.2 0M1272.4 320.6a5.6 5.6 0 1 0 11.2 0a5.6 5.6 0 1 0 -11.2 0M1329.9 321.9a5.6 5.6 0 1 0 11.2 0a5.6 5.6 0 1 0 -11.2 0M1321.8 331.0a5.6 5.6 0 1 0 11.2 0a5.6 5.6 0 1 0 -11.2 0M1332.2 332.3a5.6 5.6 0 1 0 11.2 0a5.6 5.6 0 1 0 -11.2 0M1328.6 340.1a5.6 5.6 0 1 0 11.2 0a5.6 5.6 0 1 0 -11.2 0M1241.2 357.8a5.6 5.6 0 1 0 11.2 0a5.6 5.6 0 1 0 -11.2 0M1258.9 368.7a5.6 5.6 0 1 0 11.2 0a5.6 5.6 0 1 0 -11.2 0M1339.5 363.5a5.6 5.6 0 1 0 11.2 0a5.6 5.6 0 1 0 -11.2 0M1336.9 370.0a5.6 5.6 0 1 0 11.2 0a5.6 5.6 0 1 0 -11.2 0M1301.8 376.0a5.6 5.6 0 1 0 11.2 0a5.6 5.6 0 1 0 -11.2 0M1310.9 376.0a5.6 5.6 0 1 0 11.2 0a5.6 5.6 0 1 0 -11.2 0M1350.4 377.8a5.6 5.6 0 1 0 11.2 0a5.6 5.6 0 1 0 -11.2 0M1335.6 381.7a5.6 5.6 0 1 0 11.2 0a5.6 5.6 0 1 0 -11.2 0M1284.9 383.0a5.6 5.6 0 1 0 11.2 0a5.6 5.6 0 1 0 -11.2 0M1279.7 386.9a5.6 5.6 0 1 0 11.2 0a5.6 5.6 0 1 0 -11.2 0M1277.1 389.5a5.6 5.6 0 1 0 11.2 0a5.6 5.6 0 1 0 -11.2 0M1282.3 390.8a5.6 5.6 0 1 0 11.2 0a5.6 5.6 0 1 0 -11.2 0M1290.1 396.0a5.6 5.6 0 1 0 11.2 0a5.6 5.6 0 1 0 -11.2 0M1278.4 394.7a5.6 5.6 0 1 0 11.2 0a5.6 5.6 0 1 0 -11.2 0M1307.0 386.9a5.6 5.6 0 1 0 11.2 0a5.6 5.6 0 1 0 -11.2 0M1313.5 389.0a5.6 5.6 0 1 0 11.2 0a5.6 5.6 0 1 0 -11.2 0M1323.9 395.5a5.6 5.6 0 1 0 11.2 0a5.6 5.6 0 1 0 -11.2 0M1339.5 397.3a5.6 5.6 0 1 0 11.2 0a5.6 5.6 0 1 0 -11.2 0M1304.4 397.3a5.6 5.6 0 1 0 11.2 0a5.6 5.6 0 1 0 -11.2 0M1295.3 398.6a5.6 5.6 0 1 0 11.2 0a5.6 5.6 0 1 0 -11.2 0M1273.2 406.4a5.6 5.6 0 1 0 11.2 0a5.6 5.6 0 1 0 -11.2 0M1292.7 405.1a5.6 5.6 0 1 0 11.2 0a5.6 5.6 0 1 0 -11.2 0M1314.8 406.4a5.6 5.6 0 1 0 11.2 0a5.6 5.6 0 1 0 -11.2 0M1307.0 408.2a5.6 5.6 0 1 0 11.2 0a5.6 5.6 0 1 0 -11.2 0M1331.7 407.7a5.6 5.6 0 1 0 11.2 0a5.6 5.6 0 1 0 -11.2 0M1334.3 405.1a5.6 5.6 0 1 0 11.2 0a5.6 5.6 0 1 0 -11.2 0M1329.1 410.3a5.6 5.6 0 1 0 11.2 0a5.6 5.6 0 1 0 -11.2 0M1300.5 415.5a5.6 5.6 0 1 0 11.2 0a5.6 5.6 0 1 0 -11.2 0M1313.5 418.1a5.6 5.6 0 1 0 11.2 0a5.6 5.6 0 1 0 -11.2 0M1279.2 422.0a5.6 5.6 0 1 0 11.2 0a5.6 5.6 0 1 0 -11.2 0M1305.7 423.3a5.6 5.6 0 1 0 11.2 0a5.6 5.6 0 1 0 -11.2 0M1322.6 424.6a5.6 5.6 0 1 0 11.2 0a5.6 5.6 0 1 0 -11.2 0M1339.5 423.3a5.6 5.6 0 1 0 11.2 0a5.6 5.6 0 1 0 -11.2 0M1340.8 427.2a5.6 5.6 0 1 0 11.2 0a5.6 5.6 0 1 0 -11.2 0M1268.0 429.8a5.6 5.6 0 1 0 11.2 0a5.6 5.6 0 1 0 -11.2 0M1295.3 429.8a5.6 5.6 0 1 0 11.2 0a5.6 5.6 0 1 0 -11.2 0M1310.9 428.5a5.6 5.6 0 1 0 11.2 0a5.6 5.6 0 1 0 -11.2 0M1290.1 433.7a5.6 5.6 0 1 0 11.2 0a5.6 5.6 0 1 0 -11.2 0M1300.5 431.1a5.6 5.6 0 1 0 11.2 0a5.6 5.6 0 1 0 -11.2 0M1317.4 433.7a5.6 5.6 0 1 0 11.2 0a5.6 5.6 0 1 0 -11.2 0M1329.1 436.3a5.6 5.6 0 1 0 11.2 0a5.6 5.6 0 1 0 -11.2 0M1294.0 446.2a5.6 5.6 0 1 0 11.2 0a5.6 5.6 0 1 0 -11.2 0M1308.3 445.4a5.6 5.6 0 1 0 11.2 0a5.6 5.6 0 1 0 -11.2 0M1314.8 446.7a5.6 5.6 0 1 0 11.2 0a5.6 5.6 0 1 0 -11.2 0M1334.3 446.7a5.6 5.6 0 1 0 11.2 0a5.6 5.6 0 1 0 -11.2 0M1317.4 454.5a5.6 5.6 0 1 0 11.2 0a5.6 5.6 0 1 0 -11.2 0M1335.6 454.5a5.6 5.6 0 1 0 11.2 0a5.6 5.6 0 1 0 -11.2 0M1335.6 458.4a5.6 5.6 0 1 0 11.2 0a5.6 5.6 0 1 0 -11.2 0M1300.5 438.9a5.6 5.6 0 1 0 11.2 0a5.6 5.6 0 1 0 -11.2 0M1287.5 399.9a5.6 5.6 0 1 0 11.2 0a5.6 5.6 0 1 0 -11.2 0M1284.9 392.1a5.6 5.6 0 1 0 11.2 0a5.6 5.6 0 1 0 -11.2 0M1308.3 415.5a5.6 5.6 0 1 0 11.2 0a5.6 5.6 0 1 0 -11.2 0M1316.1 399.9a5.6 5.6 0 1 0 11.2 0a5.6 5.6 0 1 0 -11.2 0M1297.9 420.7a5.6 5.6 0 1 0 11.2 0a5.6 5.6 0 1 0 -11.2 0M1326.5 415.5a5.6 5.6 0 1 0 11.2 0a5.6 5.6 0 1 0 -11.2 0M1305.7 436.3a5.6 5.6 0 1 0 11.2 0a5.6 5.6 0 1 0 -11.2 0M1336.9 441.5a5.6 5.6 0 1 0 11.2 0a5.6 5.6 0 1 0 -11.2 0M1310.9 451.9a5.6 5.6 0 1 0 11.2 0a5.6 5.6 0 1 0 -11.2 0M1291.4 438.9a5.6 5.6 0 1 0 11.2 0a5.6 5.6 0 1 0 -11.2 0" fill="none" stroke="#48fb18" stroke-width="2.70"/>
<line x1="1175.50" y1="456.30" x2="1360.20" y2="375.20" stroke="#000" stroke-width="2.20"/>
<text x="1108.10" y="153.30" font-size="23.50" font-weight="normal" textLength="226.86" lengthAdjust="spacingAndGlyphs" fill="#000">r= 0.3588, P= 0.0003</text>
<text x="1168.87" y="526.00" font-size="22.50" font-weight="bold" textLength="123.66" lengthAdjust="spacingAndGlyphs" fill="#000">PACC score</text>
<line x1="433.70" y1="669.70" x2="433.70" y2="955.10" stroke="#000" stroke-width="5.40"/>
<line x1="424.60" y1="952.40" x2="708.00" y2="952.40" stroke="#000" stroke-width="5.40"/>
<line x1="433.70" y1="952.40" x2="433.70" y2="961.90" stroke="#000" stroke-width="5.00"/>
<text x="424.33" y="985.20" font-size="21.00" font-weight="bold" textLength="18.67" lengthAdjust="spacingAndGlyphs">-3</text>
<line x1="488.06" y1="952.40" x2="488.06" y2="961.90" stroke="#000" stroke-width="5.00"/>
<text x="478.73" y="985.20" font-size="21.00" font-weight="bold" textLength="18.67" lengthAdjust="spacingAndGlyphs">-2</text>
<line x1="542.42" y1="952.40" x2="542.42" y2="961.90" stroke="#000" stroke-width="5.00"/>
<text x="532.97" y="985.20" font-size="21.00" font-weight="bold" textLength="18.67" lengthAdjust="spacingAndGlyphs">-1</text>
<line x1="596.78" y1="952.40" x2="596.78" y2="961.90" stroke="#000" stroke-width="5.00"/>
<text x="590.96" y="985.20" font-size="21.00" font-weight="bold" textLength="11.68" lengthAdjust="spacingAndGlyphs">0</text>
<line x1="651.14" y1="952.40" x2="651.14" y2="961.90" stroke="#000" stroke-width="5.00"/>
<text x="644.93" y="985.20" font-size="21.00" font-weight="bold" textLength="11.68" lengthAdjust="spacingAndGlyphs">1</text>
<line x1="705.50" y1="952.40" x2="705.50" y2="961.90" stroke="#000" stroke-width="5.00"/>
<text x="699.72" y="985.20" font-size="21.00" font-weight="bold" textLength="11.68" lengthAdjust="spacingAndGlyphs">2</text>
<line x1="425.20" y1="952.40" x2="433.70" y2="952.40" stroke="#000" stroke-width="5.00"/>
<text x="409.58" y="959.92" font-size="21.00" font-weight="bold" textLength="11.68" lengthAdjust="spacingAndGlyphs">0</text>
<line x1="425.20" y1="896.12" x2="433.70" y2="896.12" stroke="#000" stroke-width="5.00"/>
<text x="409.31" y="903.64" font-size="21.00" font-weight="bold" textLength="11.68" lengthAdjust="spacingAndGlyphs">1</text>
<line x1="425.20" y1="839.84" x2="433.70" y2="839.84" stroke="#000" stroke-width="5.00"/>
<text x="409.56" y="847.36" font-size="21.00" font-weight="bold" textLength="11.68" lengthAdjust="spacingAndGlyphs">2</text>
<line x1="425.20" y1="783.56" x2="433.70" y2="783.56" stroke="#000" stroke-width="5.00"/>
<text x="409.48" y="791.08" font-size="21.00" font-weight="bold" textLength="11.68" lengthAdjust="spacingAndGlyphs">3</text>
<line x1="425.20" y1="727.28" x2="433.70" y2="727.28" stroke="#000" stroke-width="5.00"/>
<text x="408.83" y="734.80" font-size="21.00" font-weight="bold" textLength="11.68" lengthAdjust="spacingAndGlyphs">4</text>
<line x1="425.20" y1="671.00" x2="433.70" y2="671.00" stroke="#000" stroke-width="5.00"/>
<text x="409.31" y="678.52" font-size="21.00" font-weight="bold" textLength="11.68" lengthAdjust="spacingAndGlyphs">5</text>
<path d="M540.0 850.5a5.6 5.6 0 1 0 11.2 0a5.6 5.6 0 1 0 -11.2 0M510.8 864.3a5.6 5.6 0 1 0 11.2 0a5.6 5.6 0 1 0 -11.2 0M518.6 861.7a5.6 5.6 0 1 0 11.2 0a5.6 5.6 0 1 0 -11.2 0M525.6 882.5a5.6 5.6 0 1 0 11.2 0a5.6 5.6 0 1 0 -11.2 0M605.0 876.0a5.6 5.6 0 1 0 11.2 0a5.6 5.6 0 1 0 -11.2 0M558.9 916.8a5.6 5.6 0 1 0 11.2 0a5.6 5.6 0 1 0 -11.2 0M530.8 940.2a5.6 5.6 0 1 0 11.2 0a5.6 5.6 0 1 0 -11.2 0M499.6 940.2a5.6 5.6 0 1 0 11.2 0a5.6 5.6 0 1 0 -11.2 0M490.5 942.8a5.6 5.6 0 1 0 11.2 0a5.6 5.6 0 1 0 -11.2 0M481.4 946.7a5.6 5.6 0 1 0 11.2 0a5.6 5.6 0 1 0 -11.2 0M511.3 951.9a5.6 5.6 0 1 0 11.2 0a5.6 5.6 0 1 0 -11.2 0M551.7 953.2a5.6 5.6 0 1 0 11.2 0a5.6 5.6 0 1 0 -11.2 0M588.1 937.6a5.6 5.6 0 1 0 11.2 0a5.6 5.6 0 1 0 -11.2 0M593.3 946.2a5.6 5.6 0 1 0 11.2 0a5.6 5.6 0 1 0 -11.2 0M606.3 927.2a5.6 5.6 0 1 0 11.2 0a5.6 5.6 0 1 0 -11.2 0M602.4 925.9a5.6 5.6 0 1 0 11.2 0a5.6 5.6 0 1 0 -11.2 0" fill="none" stroke="#ef7dae" stroke-width="2.70"/>
<path d="M608.1 869.2a5.6 5.6 0 1 0 11.2 0a5.6 5.6 0 1 0 -11.2 0M548.5 901.2a5.6 5.6 0 1 0 11.2 0a5.6 5.6 0 1 0 -11.2 0M614.1 908.2a5.6 5.6 0 1 0 11.2 0a5.6 5.6 0 1 0 -11.2 0M543.9 919.4a5.6 5.6 0 1 0 11.2 0a5.6 5.6 0 1 0 -11.2 0M572.5 918.1a5.6 5.6 0 1 0 11.2 0a5.6 5.6 0 1 0 -11.2 0M586.8 925.9a5.6 5.6 0 1 0 11.2 0a5.6 5.6 0 1 0 -11.2 0M504.8 935.0a5.6 5.6 0 1 0 11.2 0a5.6 5.6 0 1 0 -11.2 0M502.2 944.1a5.6 5.6 0 1 0 11.2 0a5.6 5.6 0 1 0 -11.2 0M543.9 941.5a5.6 5.6 0 1 0 11.2 0a5.6 5.6 0 1 0 -11.2 0M554.3 938.9a5.6 5.6 0 1 0 11.2 0a5.6 5.6 0 1 0 -11.2 0M585.5 948.0a5.6 5.6 0 1 0 11.2 0a5.6 5.6 0 1 0 -11.2 0M576.4 951.9a5.6 5.6 0 1 0 11.2 0a5.6 5.6 0 1 0 -11.2 0M563.4 951.9a5.6 5.6 0 1 0 11.2 0a5.6 5.6 0 1 0 -11.2 0" fill="none" stroke="#381ef2" stroke-width="2.70"/>
<path d="M669.5 693.7a5.6 5.6 0 1 0 11.2 0a5.6 5.6 0 1 0 -11.2 0M615.9 702.8a5.6 5.6 0 1 0 11.2 0a5.6 5.6 0 1 0 -11.2 0M596.4 710.6a5.6 5.6 0 1 0 11.2 0a5.6 5.6 0 1 0 -11.2 0M615.4 743.1a5.6 5.6 0 1 0 11.2 0a5.6 5.6 0 1 0 -11.2 0M604.2 748.5a5.6 5.6 0 1 0 11.2 0a5.6 5.6 0 1 0 -11.2 0M565.2 808.9a5.6 5.6 0 1 0 11.2 0a5.6 5.6 0 1 0 -11.2 0M619.3 818.0a5.6 5.6 0 1 0 11.2 0a5.6 5.6 0 1 0 -11.2 0M621.9 828.4a5.6 5.6 0 1 0 11.2 0a5.6 5.6 0 1 0 -11.2 0M636.7 819.8a5.6 5.6 0 1 0 11.2 0a5.6 5.6 0 1 0 -11.2 0M542.0 846.6a5.6 5.6 0 1 0 11.2 0a5.6 5.6 0 1 0 -11.2 0M589.6 853.1a5.6 5.6 0 1 0 11.2 0a5.6 5.6 0 1 0 -11.2 0M576.9 857.5a5.6 5.6 0 1 0 11.2 0a5.6 5.6 0 1 0 -11.2 0M575.1 865.3a5.6 5.6 0 1 0 11.2 0a5.6 5.6 0 1 0 -11.2 0M664.3 860.4a5.6 5.6 0 1 0 11.2 0a5.6 5.6 0 1 0 -11.2 0M652.3 867.4a5.6 5.6 0 1 0 11.2 0a5.6 5.6 0 1 0 -11.2 0M619.3 865.3a5.6 5.6 0 1 0 11.2 0a5.6 5.6 0 1 0 -11.2 0M608.9 868.7a5.6 5.6 0 1 0 11.2 0a5.6 5.6 0 1 0 -11.2 0M634.9 870.0a5.6 5.6 0 1 0 11.2 0a5.6 5.6 0 1 0 -11.2 0M542.6 874.4a5.6 5.6 0 1 0 11.2 0a5.6 5.6 0 1 0 -11.2 0M569.3 876.5a5.6 5.6 0 1 0 11.2 0a5.6 5.6 0 1 0 -11.2 0M655.7 879.1a5.6 5.6 0 1 0 11.2 0a5.6 5.6 0 1 0 -11.2 0M644.8 884.8a5.6 5.6 0 1 0 11.2 0a5.6 5.6 0 1 0 -11.2 0M636.2 885.6a5.6 5.6 0 1 0 11.2 0a5.6 5.6 0 1 0 -11.2 0M588.1 884.8a5.6 5.6 0 1 0 11.2 0a5.6 5.6 0 1 0 -11.2 0M597.2 888.2a5.6 5.6 0 1 0 11.2 0a5.6 5.6 0 1 0 -11.2 0M571.7 888.7a5.6 5.6 0 1 0 11.2 0a5.6 5.6 0 1 0 -11.2 0M580.3 890.8a5.6 5.6 0 1 0 11.2 0a5.6 5.6 0 1 0 -11.2 0M618.0 891.3a5.6 5.6 0 1 0 11.2 0a5.6 5.6 0 1 0 -11.2 0M621.9 896.0a5.6 5.6 0 1 0 11.2 0a5.6 5.6 0 1 0 -11.2 0M629.7 899.9a5.6 5.6 0 1 0 11.2 0a5.6 5.6 0 1 0 -11.2 0M636.2 892.1a5.6 5.6 0 1 0 11.2 0a5.6 5.6 0 1 0 -11.2 0M636.2 901.2a5.6 5.6 0 1 0 11.2 0a5.6 5.6 0 1 0 -11.2 0M527.5 898.6a5.6 5.6 0 1 0 11.2 0a5.6 5.6 0 1 0 -11.2 0M560.0 896.8a5.6 5.6 0 1 0 11.2 0a5.6 5.6 0 1 0 -11.2 0M558.2 897.8a5.6 5.6 0 1 0 11.2 0a5.6 5.6 0 1 0 -11.2 0M603.7 903.8a5.6 5.6 0 1 0 11.2 0a5.6 5.6 0 1 0 -11.2 0M593.3 906.4a5.6 5.6 0 1 0 11.2 0a5.6 5.6 0 1 0 -11.2 0M598.5 909.0a5.6 5.6 0 1 0 11.2 0a5.6 5.6 0 1 0 -11.2 0M589.4 910.3a5.6 5.6 0 1 0 11.2 0a5.6 5.6 0 1 0 -11.2 0M577.7 914.2a5.6 5.6 0 1 0 11.2 0a5.6 5.6 0 1 0 -11.2 0M624.5 915.5a5.6 5.6 0 1 0 11.2 0a5.6 5.6 0 1 0 -11.2 0M624.5 920.7a5.6 5.6 0 1 0 11.2 0a5.6 5.6 0 1 0 -11.2 0M611.5 918.1a5.6 5.6 0 1 0 11.2 0a5.6 5.6 0 1 0 -11.2 0M607.6 923.3a5.6 5.6 0 1 0 11.2 0a5.6 5.6 0 1 0 -11.2 0M580.3 918.1a5.6 5.6 0 1 0 11.2 0a5.6 5.6 0 1 0 -11.2 0M575.1 920.7a5.6 5.6 0 1 0 11.2 0a5.6 5.6 0 1 0 -11.2 0M567.3 924.6a5.6 5.6 0 1 0 11.2 0a5.6 5.6 0 1 0 -11.2 0M582.9 923.3a5.6 5.6 0 1 0 11.2 0a5.6 5.6 0 1 0 -11.2 0M523.0 929.0a5.6 5.6 0 1 0 11.2 0a5.6 5.6 0 1 0 -11.2 0M536.1 925.9a5.6 5.6 0 1 0 11.2 0a5.6 5.6 0 1 0 -11.2 0M533.5 931.1a5.6 5.6 0 1 0 11.2 0a5.6 5.6 0 1 0 -11.2 0M538.7 933.7a5.6 5.6 0 1 0 11.2 0a5.6 5.6 0 1 0 -11.2 0M569.9 929.8a5.6 5.6 0 1 0 11.2 0a5.6 5.6 0 1 0 -11.2 0M558.2 938.9a5.6 5.6 0 1 0 11.2 0a5.6 5.6 0 1 0 -11.2 0M572.5 940.2a5.6 5.6 0 1 0 11.2 0a5.6 5.6 0 1 0 -11.2 0M567.3 941.5a5.6 5.6 0 1 0 11.2 0a5.6 5.6 0 1 0 -11.2 0M673.4 923.8a5.6 5.6 0 1 0 11.2 0a5.6 5.6 0 1 0 -11.2 0M622.4 946.7a5.6 5.6 0 1 0 11.2 0a5.6 5.6 0 1 0 -11.2 0M558.9 949.3a5.6 5.6 0 1 0 11.2 0a5.6 5.6 0 1 0 -11.2 0M571.2 948.0a5.6 5.6 0 1 0 11.2 0a5.6 5.6 0 1 0 -11.2 0M599.8 952.4a5.6 5.6 0 1 0 11.2 0a5.6 5.6 0 1 0 -11.2 0M629.7 894.7a5.6 5.6 0 1 0 11.2 0a5.6 5.6 0 1 0 -11.2 0M585.5 915.5a5.6 5.6 0 1 0 11.2 0a5.6 5.6 0 1 0 -11.2 0M541.3 929.8a5.6 5.6 0 1 0 11.2 0a5.6 5.6 0 1 0 -11.2 0M614.1 875.2a5.6 5.6 0 1 0 11.2 0a5.6 5.6 0 1 0 -11.2 0M577.7 886.9a5.6 5.6 0 1 0 11.2 0a5.6 5.6 0 1 0 -11.2 0" fill="none" stroke="#48fb18" stroke-width="2.70"/>
<line x1="487.00" y1="949.30" x2="678.70" y2="853.00" stroke="#000" stroke-width="2.20"/>
<text x="436.05" y="628.90" font-size="23.50" font-weight="normal" textLength="232.38" lengthAdjust="spacingAndGlyphs" fill="#000">r= 0.4493, P= &lt;0.0001</text>
<text x="472.02" y="1022.00" font-size="22.50" font-weight="bold" textLength="197.16" lengthAdjust="spacingAndGlyphs" fill="#000">Executive function</text>
<line x1="787.70" y1="669.70" x2="787.70" y2="955.40" stroke="#000" stroke-width="5.40"/>
<line x1="779.40" y1="952.70" x2="1063.70" y2="952.70" stroke="#000" stroke-width="5.40"/>
<line x1="787.70" y1="952.70" x2="787.70" y2="962.20" stroke="#000" stroke-width="5.00"/>
<text x="778.33" y="985.50" font-size="21.00" font-weight="bold" textLength="18.67" lengthAdjust="spacingAndGlyphs">-3</text>
<line x1="842.32" y1="952.70" x2="842.32" y2="962.20" stroke="#000" stroke-width="5.00"/>
<text x="832.99" y="985.50" font-size="21.00" font-weight="bold" textLength="18.67" lengthAdjust="spacingAndGlyphs">-2</text>
<line x1="896.94" y1="952.70" x2="896.94" y2="962.20" stroke="#000" stroke-width="5.00"/>
<text x="887.49" y="985.50" font-size="21.00" font-weight="bold" textLength="18.67" lengthAdjust="spacingAndGlyphs">-1</text>
<line x1="951.56" y1="952.70" x2="951.56" y2="962.20" stroke="#000" stroke-width="5.00"/>
<text x="945.74" y="985.50" font-size="21.00" font-weight="bold" textLength="11.68" lengthAdjust="spacingAndGlyphs">0</text>
<line x1="1006.18" y1="952.70" x2="1006.18" y2="962.20" stroke="#000" stroke-width="5.00"/>
<text x="999.97" y="985.50" font-size="21.00" font-weight="bold" textLength="11.68" lengthAdjust="spacingAndGlyphs">1</text>
<line x1="1060.80" y1="952.70" x2="1060.80" y2="962.20" stroke="#000" stroke-width="5.00"/>
<text x="1055.02" y="985.50" font-size="21.00" font-weight="bold" textLength="11.68" lengthAdjust="spacingAndGlyphs">2</text>
<line x1="779.20" y1="952.70" x2="787.70" y2="952.70" stroke="#000" stroke-width="5.00"/>
<text x="763.58" y="960.22" font-size="21.00" font-weight="bold" textLength="11.68" lengthAdjust="spacingAndGlyphs">0</text>
<line x1="779.20" y1="896.36" x2="787.70" y2="896.36" stroke="#000" stroke-width="5.00"/>
<text x="763.31" y="903.88" font-size="21.00" font-weight="bold" textLength="11.68" lengthAdjust="spacingAndGlyphs">1</text>
<line x1="779.20" y1="840.02" x2="787.70" y2="840.02" stroke="#000" stroke-width="5.00"/>
<text x="763.56" y="847.54" font-size="21.00" font-weight="bold" textLength="11.68" lengthAdjust="spacingAndGlyphs">2</text>
<line x1="779.20" y1="783.68" x2="787.70" y2="783.68" stroke="#000" stroke-width="5.00"/>
<text x="763.48" y="791.20" font-size="21.00" font-weight="bold" textLength="11.68" lengthAdjust="spacingAndGlyphs">3</text>
<line x1="779.20" y1="727.34" x2="787.70" y2="727.34" stroke="#000" stroke-width="5.00"/>
<text x="762.83" y="734.86" font-size="21.00" font-weight="bold" textLength="11.68" lengthAdjust="spacingAndGlyphs">4</text>
<line x1="779.20" y1="671.00" x2="787.70" y2="671.00" stroke="#000" stroke-width="5.00"/>
<text x="763.31" y="678.52" font-size="21.00" font-weight="bold" textLength="11.68" lengthAdjust="spacingAndGlyphs">5</text>
<path d="M881.0 850.5a5.6 5.6 0 1 0 11.2 0a5.6 5.6 0 1 0 -11.2 0M853.7 862.2a5.6 5.6 0 1 0 11.2 0a5.6 5.6 0 1 0 -11.2 0M857.8 865.3a5.6 5.6 0 1 0 11.2 0a5.6 5.6 0 1 0 -11.2 0M867.4 882.5a5.6 5.6 0 1 0 11.2 0a5.6 5.6 0 1 0 -11.2 0M866.1 884.3a5.6 5.6 0 1 0 11.2 0a5.6 5.6 0 1 0 -11.2 0M836.8 917.3a5.6 5.6 0 1 0 11.2 0a5.6 5.6 0 1 0 -11.2 0M965.0 874.4a5.6 5.6 0 1 0 11.2 0a5.6 5.6 0 1 0 -11.2 0M979.3 925.9a5.6 5.6 0 1 0 11.2 0a5.6 5.6 0 1 0 -11.2 0M1001.4 928.5a5.6 5.6 0 1 0 11.2 0a5.6 5.6 0 1 0 -11.2 0M931.2 938.9a5.6 5.6 0 1 0 11.2 0a5.6 5.6 0 1 0 -11.2 0M896.1 940.2a5.6 5.6 0 1 0 11.2 0a5.6 5.6 0 1 0 -11.2 0M893.5 942.8a5.6 5.6 0 1 0 11.2 0a5.6 5.6 0 1 0 -11.2 0M844.0 948.0a5.6 5.6 0 1 0 11.2 0a5.6 5.6 0 1 0 -11.2 0M851.8 953.2a5.6 5.6 0 1 0 11.2 0a5.6 5.6 0 1 0 -11.2 0M868.7 946.7a5.6 5.6 0 1 0 11.2 0a5.6 5.6 0 1 0 -11.2 0M846.6 954.5a5.6 5.6 0 1 0 11.2 0a5.6 5.6 0 1 0 -11.2 0M914.3 954.5a5.6 5.6 0 1 0 11.2 0a5.6 5.6 0 1 0 -11.2 0M954.6 948.8a5.6 5.6 0 1 0 11.2 0a5.6 5.6 0 1 0 -11.2 0M976.2 875.2a5.6 5.6 0 1 0 11.2 0a5.6 5.6 0 1 0 -11.2 0" fill="none" stroke="#ef7dae" stroke-width="2.70"/>
<path d="M893.5 871.3a5.6 5.6 0 1 0 11.2 0a5.6 5.6 0 1 0 -11.2 0M816.7 922.0a5.6 5.6 0 1 0 11.2 0a5.6 5.6 0 1 0 -11.2 0M807.6 944.1a5.6 5.6 0 1 0 11.2 0a5.6 5.6 0 1 0 -11.2 0M865.6 931.1a5.6 5.6 0 1 0 11.2 0a5.6 5.6 0 1 0 -11.2 0M899.2 908.2a5.6 5.6 0 1 0 11.2 0a5.6 5.6 0 1 0 -11.2 0M923.4 919.4a5.6 5.6 0 1 0 11.2 0a5.6 5.6 0 1 0 -11.2 0M948.1 902.5a5.6 5.6 0 1 0 11.2 0a5.6 5.6 0 1 0 -11.2 0M949.4 916.8a5.6 5.6 0 1 0 11.2 0a5.6 5.6 0 1 0 -11.2 0M941.0 925.9a5.6 5.6 0 1 0 11.2 0a5.6 5.6 0 1 0 -11.2 0M952.0 935.8a5.6 5.6 0 1 0 11.2 0a5.6 5.6 0 1 0 -11.2 0M955.9 919.4a5.6 5.6 0 1 0 11.2 0a5.6 5.6 0 1 0 -11.2 0M880.4 933.7a5.6 5.6 0 1 0 11.2 0a5.6 5.6 0 1 0 -11.2 0M907.8 929.8a5.6 5.6 0 1 0 11.2 0a5.6 5.6 0 1 0 -11.2 0M918.2 929.8a5.6 5.6 0 1 0 11.2 0a5.6 5.6 0 1 0 -11.2 0M906.5 948.0a5.6 5.6 0 1 0 11.2 0a5.6 5.6 0 1 0 -11.2 0M937.7 949.3a5.6 5.6 0 1 0 11.2 0a5.6 5.6 0 1 0 -11.2 0M909.1 952.7a5.6 5.6 0 1 0 11.2 0a5.6 5.6 0 1 0 -11.2 0" fill="none" stroke="#381ef2" stroke-width="2.70"/>
<path d="M981.9 693.4a5.6 5.6 0 1 0 11.2 0a5.6 5.6 0 1 0 -11.2 0M959.3 702.8a5.6 5.6 0 1 0 11.2 0a5.6 5.6 0 1 0 -11.2 0M964.5 710.8a5.6 5.6 0 1 0 11.2 0a5.6 5.6 0 1 0 -11.2 0M1000.1 743.1a5.6 5.6 0 1 0 11.2 0a5.6 5.6 0 1 0 -11.2 0M1022.2 748.5a5.6 5.6 0 1 0 11.2 0a5.6 5.6 0 1 0 -11.2 0M949.4 769.9a5.6 5.6 0 1 0 11.2 0a5.6 5.6 0 1 0 -11.2 0M891.4 808.1a5.6 5.6 0 1 0 11.2 0a5.6 5.6 0 1 0 -11.2 0M924.1 809.4a5.6 5.6 0 1 0 11.2 0a5.6 5.6 0 1 0 -11.2 0M993.1 818.8a5.6 5.6 0 1 0 11.2 0a5.6 5.6 0 1 0 -11.2 0M1007.9 820.6a5.6 5.6 0 1 0 11.2 0a5.6 5.6 0 1 0 -11.2 0M1013.6 828.9a5.6 5.6 0 1 0 11.2 0a5.6 5.6 0 1 0 -11.2 0M974.1 847.1a5.6 5.6 0 1 0 11.2 0a5.6 5.6 0 1 0 -11.2 0M916.9 853.9a5.6 5.6 0 1 0 11.2 0a5.6 5.6 0 1 0 -11.2 0M893.5 859.1a5.6 5.6 0 1 0 11.2 0a5.6 5.6 0 1 0 -11.2 0M931.2 866.9a5.6 5.6 0 1 0 11.2 0a5.6 5.6 0 1 0 -11.2 0M985.8 860.9a5.6 5.6 0 1 0 11.2 0a5.6 5.6 0 1 0 -11.2 0M978.0 864.8a5.6 5.6 0 1 0 11.2 0a5.6 5.6 0 1 0 -11.2 0M992.3 869.2a5.6 5.6 0 1 0 11.2 0a5.6 5.6 0 1 0 -11.2 0M996.2 870.0a5.6 5.6 0 1 0 11.2 0a5.6 5.6 0 1 0 -11.2 0M974.1 871.3a5.6 5.6 0 1 0 11.2 0a5.6 5.6 0 1 0 -11.2 0M915.6 874.7a5.6 5.6 0 1 0 11.2 0a5.6 5.6 0 1 0 -11.2 0M927.3 877.3a5.6 5.6 0 1 0 11.2 0a5.6 5.6 0 1 0 -11.2 0M909.6 879.1a5.6 5.6 0 1 0 11.2 0a5.6 5.6 0 1 0 -11.2 0M918.2 886.4a5.6 5.6 0 1 0 11.2 0a5.6 5.6 0 1 0 -11.2 0M948.1 886.9a5.6 5.6 0 1 0 11.2 0a5.6 5.6 0 1 0 -11.2 0M968.9 886.9a5.6 5.6 0 1 0 11.2 0a5.6 5.6 0 1 0 -11.2 0M986.6 886.9a5.6 5.6 0 1 0 11.2 0a5.6 5.6 0 1 0 -11.2 0M1011.8 889.5a5.6 5.6 0 1 0 11.2 0a5.6 5.6 0 1 0 -11.2 0M864.8 885.6a5.6 5.6 0 1 0 11.2 0a5.6 5.6 0 1 0 -11.2 0M927.3 890.8a5.6 5.6 0 1 0 11.2 0a5.6 5.6 0 1 0 -11.2 0M932.5 889.5a5.6 5.6 0 1 0 11.2 0a5.6 5.6 0 1 0 -11.2 0M955.9 892.1a5.6 5.6 0 1 0 11.2 0a5.6 5.6 0 1 0 -11.2 0M918.2 897.8a5.6 5.6 0 1 0 11.2 0a5.6 5.6 0 1 0 -11.2 0M925.4 900.4a5.6 5.6 0 1 0 11.2 0a5.6 5.6 0 1 0 -11.2 0M932.5 898.6a5.6 5.6 0 1 0 11.2 0a5.6 5.6 0 1 0 -11.2 0M976.7 897.3a5.6 5.6 0 1 0 11.2 0a5.6 5.6 0 1 0 -11.2 0M980.6 901.2a5.6 5.6 0 1 0 11.2 0a5.6 5.6 0 1 0 -11.2 0M950.7 902.5a5.6 5.6 0 1 0 11.2 0a5.6 5.6 0 1 0 -11.2 0M963.7 903.8a5.6 5.6 0 1 0 11.2 0a5.6 5.6 0 1 0 -11.2 0M967.6 905.1a5.6 5.6 0 1 0 11.2 0a5.6 5.6 0 1 0 -11.2 0M957.2 909.0a5.6 5.6 0 1 0 11.2 0a5.6 5.6 0 1 0 -11.2 0M959.8 911.6a5.6 5.6 0 1 0 11.2 0a5.6 5.6 0 1 0 -11.2 0M898.7 914.2a5.6 5.6 0 1 0 11.2 0a5.6 5.6 0 1 0 -11.2 0M962.4 914.2a5.6 5.6 0 1 0 11.2 0a5.6 5.6 0 1 0 -11.2 0M980.6 916.8a5.6 5.6 0 1 0 11.2 0a5.6 5.6 0 1 0 -11.2 0M995.7 916.8a5.6 5.6 0 1 0 11.2 0a5.6 5.6 0 1 0 -11.2 0M1010.5 922.0a5.6 5.6 0 1 0 11.2 0a5.6 5.6 0 1 0 -11.2 0M1036.5 924.6a5.6 5.6 0 1 0 11.2 0a5.6 5.6 0 1 0 -11.2 0M971.5 917.6a5.6 5.6 0 1 0 11.2 0a5.6 5.6 0 1 0 -11.2 0M968.9 919.4a5.6 5.6 0 1 0 11.2 0a5.6 5.6 0 1 0 -11.2 0M955.9 919.4a5.6 5.6 0 1 0 11.2 0a5.6 5.6 0 1 0 -11.2 0M929.9 922.0a5.6 5.6 0 1 0 11.2 0a5.6 5.6 0 1 0 -11.2 0M924.7 920.7a5.6 5.6 0 1 0 11.2 0a5.6 5.6 0 1 0 -11.2 0M890.8 923.3a5.6 5.6 0 1 0 11.2 0a5.6 5.6 0 1 0 -11.2 0M886.9 929.8a5.6 5.6 0 1 0 11.2 0a5.6 5.6 0 1 0 -11.2 0M903.9 931.1a5.6 5.6 0 1 0 11.2 0a5.6 5.6 0 1 0 -11.2 0M910.4 933.7a5.6 5.6 0 1 0 11.2 0a5.6 5.6 0 1 0 -11.2 0M902.6 937.6a5.6 5.6 0 1 0 11.2 0a5.6 5.6 0 1 0 -11.2 0M907.8 940.2a5.6 5.6 0 1 0 11.2 0a5.6 5.6 0 1 0 -11.2 0M879.1 940.2a5.6 5.6 0 1 0 11.2 0a5.6 5.6 0 1 0 -11.2 0M884.3 941.5a5.6 5.6 0 1 0 11.2 0a5.6 5.6 0 1 0 -11.2 0M922.1 938.9a5.6 5.6 0 1 0 11.2 0a5.6 5.6 0 1 0 -11.2 0M924.7 948.0a5.6 5.6 0 1 0 11.2 0a5.6 5.6 0 1 0 -11.2 0M941.0 926.4a5.6 5.6 0 1 0 11.2 0a5.6 5.6 0 1 0 -11.2 0M978.0 948.0a5.6 5.6 0 1 0 11.2 0a5.6 5.6 0 1 0 -11.2 0M980.6 951.9a5.6 5.6 0 1 0 11.2 0a5.6 5.6 0 1 0 -11.2 0M979.3 954.0a5.6 5.6 0 1 0 11.2 0a5.6 5.6 0 1 0 -11.2 0M851.8 899.4a5.6 5.6 0 1 0 11.2 0a5.6 5.6 0 1 0 -11.2 0M974.1 876.5a5.6 5.6 0 1 0 11.2 0a5.6 5.6 0 1 0 -11.2 0M971.5 873.9a5.6 5.6 0 1 0 11.2 0a5.6 5.6 0 1 0 -11.2 0" fill="none" stroke="#48fb18" stroke-width="2.70"/>
<line x1="813.20" y1="947.20" x2="1041.30" y2="858.30" stroke="#000" stroke-width="2.20"/>
<text x="801.73" y="629.40" font-size="23.50" font-weight="normal" textLength="222.02" lengthAdjust="spacingAndGlyphs" fill="#000">r= 0.3727, P&lt; 0.0001</text>
<text x="874.53" y="1023.40" font-size="22.50" font-weight="bold" textLength="100.90" lengthAdjust="spacingAndGlyphs" fill="#000">Attention</text>
<line x1="1144.60" y1="669.70" x2="1144.60" y2="955.90" stroke="#000" stroke-width="5.40"/>
<line x1="1135.50" y1="953.20" x2="1428.00" y2="953.20" stroke="#000" stroke-width="5.40"/>
<line x1="1144.60" y1="953.20" x2="1144.60" y2="962.70" stroke="#000" stroke-width="5.00"/>
<text x="1135.18" y="986.00" font-size="21.00" font-weight="bold" textLength="18.67" lengthAdjust="spacingAndGlyphs">-8</text>
<line x1="1191.42" y1="953.20" x2="1191.42" y2="962.70" stroke="#000" stroke-width="5.00"/>
<text x="1182.05" y="986.00" font-size="21.00" font-weight="bold" textLength="18.67" lengthAdjust="spacingAndGlyphs">-6</text>
<line x1="1238.23" y1="953.20" x2="1238.23" y2="962.70" stroke="#000" stroke-width="5.00"/>
<text x="1228.54" y="986.00" font-size="21.00" font-weight="bold" textLength="18.67" lengthAdjust="spacingAndGlyphs">-4</text>
<line x1="1285.05" y1="953.20" x2="1285.05" y2="962.70" stroke="#000" stroke-width="5.00"/>
<text x="1275.72" y="986.00" font-size="21.00" font-weight="bold" textLength="18.67" lengthAdjust="spacingAndGlyphs">-2</text>
<line x1="1331.87" y1="953.20" x2="1331.87" y2="962.70" stroke="#000" stroke-width="5.00"/>
<text x="1326.04" y="986.00" font-size="21.00" font-weight="bold" textLength="11.68" lengthAdjust="spacingAndGlyphs">0</text>
<line x1="1378.68" y1="953.20" x2="1378.68" y2="962.70" stroke="#000" stroke-width="5.00"/>
<text x="1372.90" y="986.00" font-size="21.00" font-weight="bold" textLength="11.68" lengthAdjust="spacingAndGlyphs">2</text>
<line x1="1425.50" y1="953.20" x2="1425.50" y2="962.70" stroke="#000" stroke-width="5.00"/>
<text x="1419.56" y="986.00" font-size="21.00" font-weight="bold" textLength="11.68" lengthAdjust="spacingAndGlyphs">4</text>
<line x1="1136.10" y1="953.20" x2="1144.60" y2="953.20" stroke="#000" stroke-width="5.00"/>
<text x="1120.48" y="960.72" font-size="21.00" font-weight="bold" textLength="11.68" lengthAdjust="spacingAndGlyphs">0</text>
<line x1="1136.10" y1="896.66" x2="1144.60" y2="896.66" stroke="#000" stroke-width="5.00"/>
<text x="1120.21" y="904.18" font-size="21.00" font-weight="bold" textLength="11.68" lengthAdjust="spacingAndGlyphs">1</text>
<line x1="1136.10" y1="840.12" x2="1144.60" y2="840.12" stroke="#000" stroke-width="5.00"/>
<text x="1120.46" y="847.64" font-size="21.00" font-weight="bold" textLength="11.68" lengthAdjust="spacingAndGlyphs">2</text>
<line x1="1136.10" y1="783.58" x2="1144.60" y2="783.58" stroke="#000" stroke-width="5.00"/>
<text x="1120.38" y="791.10" font-size="21.00" font-weight="bold" textLength="11.68" lengthAdjust="spacingAndGlyphs">3</text>
<line x1="1136.10" y1="727.04" x2="1144.60" y2="727.04" stroke="#000" stroke-width="5.00"/>
<text x="1119.73" y="734.56" font-size="21.00" font-weight="bold" textLength="11.68" lengthAdjust="spacingAndGlyphs">4</text>
<line x1="1136.10" y1="670.50" x2="1144.60" y2="670.50" stroke="#000" stroke-width="5.00"/>
<text x="1120.21" y="678.02" font-size="21.00" font-weight="bold" textLength="11.68" lengthAdjust="spacingAndGlyphs">5</text>
<path d="M1181.1 862.7a5.6 5.6 0 1 0 11.2 0a5.6 5.6 0 1 0 -11.2 0M1302.3 850.5a5.6 5.6 0 1 0 11.2 0a5.6 5.6 0 1 0 -11.2 0M1289.9 883.8a5.6 5.6 0 1 0 11.2 0a5.6 5.6 0 1 0 -11.2 0M1260.7 916.8a5.6 5.6 0 1 0 11.2 0a5.6 5.6 0 1 0 -11.2 0M1240.4 937.6a5.6 5.6 0 1 0 11.2 0a5.6 5.6 0 1 0 -11.2 0M1243.0 946.7a5.6 5.6 0 1 0 11.2 0a5.6 5.6 0 1 0 -11.2 0M1235.2 949.3a5.6 5.6 0 1 0 11.2 0a5.6 5.6 0 1 0 -11.2 0M1212.4 953.7a5.6 5.6 0 1 0 11.2 0a5.6 5.6 0 1 0 -11.2 0M1269.6 954.5a5.6 5.6 0 1 0 11.2 0a5.6 5.6 0 1 0 -11.2 0M1289.3 954.5a5.6 5.6 0 1 0 11.2 0a5.6 5.6 0 1 0 -11.2 0M1344.5 929.8a5.6 5.6 0 1 0 11.2 0a5.6 5.6 0 1 0 -11.2 0M1328.9 873.9a5.6 5.6 0 1 0 11.2 0a5.6 5.6 0 1 0 -11.2 0M1308.1 876.5a5.6 5.6 0 1 0 11.2 0a5.6 5.6 0 1 0 -11.2 0M1305.5 946.7a5.6 5.6 0 1 0 11.2 0a5.6 5.6 0 1 0 -11.2 0" fill="none" stroke="#ef7dae" stroke-width="2.70"/>
<path d="M1307.5 870.8a5.6 5.6 0 1 0 11.2 0a5.6 5.6 0 1 0 -11.2 0M1293.2 909.0a5.6 5.6 0 1 0 11.2 0a5.6 5.6 0 1 0 -11.2 0M1299.0 918.1a5.6 5.6 0 1 0 11.2 0a5.6 5.6 0 1 0 -11.2 0M1304.2 925.9a5.6 5.6 0 1 0 11.2 0a5.6 5.6 0 1 0 -11.2 0M1261.3 919.4a5.6 5.6 0 1 0 11.2 0a5.6 5.6 0 1 0 -11.2 0M1253.5 929.8a5.6 5.6 0 1 0 11.2 0a5.6 5.6 0 1 0 -11.2 0M1241.7 932.4a5.6 5.6 0 1 0 11.2 0a5.6 5.6 0 1 0 -11.2 0M1260.0 940.2a5.6 5.6 0 1 0 11.2 0a5.6 5.6 0 1 0 -11.2 0M1273.5 944.9a5.6 5.6 0 1 0 11.2 0a5.6 5.6 0 1 0 -11.2 0M1289.9 944.1a5.6 5.6 0 1 0 11.2 0a5.6 5.6 0 1 0 -11.2 0M1308.1 936.3a5.6 5.6 0 1 0 11.2 0a5.6 5.6 0 1 0 -11.2 0M1332.8 935.0a5.6 5.6 0 1 0 11.2 0a5.6 5.6 0 1 0 -11.2 0M1328.9 901.2a5.6 5.6 0 1 0 11.2 0a5.6 5.6 0 1 0 -11.2 0M1315.9 951.9a5.6 5.6 0 1 0 11.2 0a5.6 5.6 0 1 0 -11.2 0" fill="none" stroke="#381ef2" stroke-width="2.70"/>
<path d="M1360.9 692.6a5.6 5.6 0 1 0 11.2 0a5.6 5.6 0 1 0 -11.2 0M1343.7 702.2a5.6 5.6 0 1 0 11.2 0a5.6 5.6 0 1 0 -11.2 0M1334.6 710.0a5.6 5.6 0 1 0 11.2 0a5.6 5.6 0 1 0 -11.2 0M1325.0 748.3a5.6 5.6 0 1 0 11.2 0a5.6 5.6 0 1 0 -11.2 0M1346.6 742.5a5.6 5.6 0 1 0 11.2 0a5.6 5.6 0 1 0 -11.2 0M1346.6 769.9a5.6 5.6 0 1 0 11.2 0a5.6 5.6 0 1 0 -11.2 0M1310.7 808.1a5.6 5.6 0 1 0 11.2 0a5.6 5.6 0 1 0 -11.2 0M1332.3 808.9a5.6 5.6 0 1 0 11.2 0a5.6 5.6 0 1 0 -11.2 0M1332.3 818.8a5.6 5.6 0 1 0 11.2 0a5.6 5.6 0 1 0 -11.2 0M1325.8 828.9a5.6 5.6 0 1 0 11.2 0a5.6 5.6 0 1 0 -11.2 0M1369.7 820.6a5.6 5.6 0 1 0 11.2 0a5.6 5.6 0 1 0 -11.2 0M1328.9 847.1a5.6 5.6 0 1 0 11.2 0a5.6 5.6 0 1 0 -11.2 0M1332.8 853.9a5.6 5.6 0 1 0 11.2 0a5.6 5.6 0 1 0 -11.2 0M1277.4 859.1a5.6 5.6 0 1 0 11.2 0a5.6 5.6 0 1 0 -11.2 0M1375.7 861.4a5.6 5.6 0 1 0 11.2 0a5.6 5.6 0 1 0 -11.2 0M1307.5 865.6a5.6 5.6 0 1 0 11.2 0a5.6 5.6 0 1 0 -11.2 0M1319.3 866.9a5.6 5.6 0 1 0 11.2 0a5.6 5.6 0 1 0 -11.2 0M1354.9 868.7a5.6 5.6 0 1 0 11.2 0a5.6 5.6 0 1 0 -11.2 0M1360.1 870.0a5.6 5.6 0 1 0 11.2 0a5.6 5.6 0 1 0 -11.2 0M1335.4 871.3a5.6 5.6 0 1 0 11.2 0a5.6 5.6 0 1 0 -11.2 0M1284.1 879.9a5.6 5.6 0 1 0 11.2 0a5.6 5.6 0 1 0 -11.2 0M1309.4 876.5a5.6 5.6 0 1 0 11.2 0a5.6 5.6 0 1 0 -11.2 0M1326.3 875.2a5.6 5.6 0 1 0 11.2 0a5.6 5.6 0 1 0 -11.2 0M1334.1 877.8a5.6 5.6 0 1 0 11.2 0a5.6 5.6 0 1 0 -11.2 0M1376.5 886.4a5.6 5.6 0 1 0 11.2 0a5.6 5.6 0 1 0 -11.2 0M1352.3 887.4a5.6 5.6 0 1 0 11.2 0a5.6 5.6 0 1 0 -11.2 0M1323.7 884.3a5.6 5.6 0 1 0 11.2 0a5.6 5.6 0 1 0 -11.2 0M1328.9 886.9a5.6 5.6 0 1 0 11.2 0a5.6 5.6 0 1 0 -11.2 0M1318.5 890.8a5.6 5.6 0 1 0 11.2 0a5.6 5.6 0 1 0 -11.2 0M1340.6 886.9a5.6 5.6 0 1 0 11.2 0a5.6 5.6 0 1 0 -11.2 0M1344.5 890.8a5.6 5.6 0 1 0 11.2 0a5.6 5.6 0 1 0 -11.2 0M1331.5 893.4a5.6 5.6 0 1 0 11.2 0a5.6 5.6 0 1 0 -11.2 0M1336.7 896.0a5.6 5.6 0 1 0 11.2 0a5.6 5.6 0 1 0 -11.2 0M1347.1 894.7a5.6 5.6 0 1 0 11.2 0a5.6 5.6 0 1 0 -11.2 0M1308.1 897.8a5.6 5.6 0 1 0 11.2 0a5.6 5.6 0 1 0 -11.2 0M1313.3 899.9a5.6 5.6 0 1 0 11.2 0a5.6 5.6 0 1 0 -11.2 0M1323.7 901.2a5.6 5.6 0 1 0 11.2 0a5.6 5.6 0 1 0 -11.2 0M1354.9 903.8a5.6 5.6 0 1 0 11.2 0a5.6 5.6 0 1 0 -11.2 0M1349.7 902.5a5.6 5.6 0 1 0 11.2 0a5.6 5.6 0 1 0 -11.2 0M1341.9 901.2a5.6 5.6 0 1 0 11.2 0a5.6 5.6 0 1 0 -11.2 0M1305.5 909.0a5.6 5.6 0 1 0 11.2 0a5.6 5.6 0 1 0 -11.2 0M1318.5 907.7a5.6 5.6 0 1 0 11.2 0a5.6 5.6 0 1 0 -11.2 0M1326.3 915.5a5.6 5.6 0 1 0 11.2 0a5.6 5.6 0 1 0 -11.2 0M1344.5 912.9a5.6 5.6 0 1 0 11.2 0a5.6 5.6 0 1 0 -11.2 0M1347.1 915.5a5.6 5.6 0 1 0 11.2 0a5.6 5.6 0 1 0 -11.2 0M1349.7 918.1a5.6 5.6 0 1 0 11.2 0a5.6 5.6 0 1 0 -11.2 0M1341.9 920.7a5.6 5.6 0 1 0 11.2 0a5.6 5.6 0 1 0 -11.2 0M1352.3 918.1a5.6 5.6 0 1 0 11.2 0a5.6 5.6 0 1 0 -11.2 0M1357.5 925.9a5.6 5.6 0 1 0 11.2 0a5.6 5.6 0 1 0 -11.2 0M1313.3 920.7a5.6 5.6 0 1 0 11.2 0a5.6 5.6 0 1 0 -11.2 0M1328.9 923.3a5.6 5.6 0 1 0 11.2 0a5.6 5.6 0 1 0 -11.2 0M1292.5 920.7a5.6 5.6 0 1 0 11.2 0a5.6 5.6 0 1 0 -11.2 0M1297.7 928.5a5.6 5.6 0 1 0 11.2 0a5.6 5.6 0 1 0 -11.2 0M1323.7 928.5a5.6 5.6 0 1 0 11.2 0a5.6 5.6 0 1 0 -11.2 0M1334.1 929.8a5.6 5.6 0 1 0 11.2 0a5.6 5.6 0 1 0 -11.2 0M1297.7 941.5a5.6 5.6 0 1 0 11.2 0a5.6 5.6 0 1 0 -11.2 0M1328.9 938.9a5.6 5.6 0 1 0 11.2 0a5.6 5.6 0 1 0 -11.2 0M1334.1 935.0a5.6 5.6 0 1 0 11.2 0a5.6 5.6 0 1 0 -11.2 0M1340.6 946.7a5.6 5.6 0 1 0 11.2 0a5.6 5.6 0 1 0 -11.2 0M1349.7 953.2a5.6 5.6 0 1 0 11.2 0a5.6 5.6 0 1 0 -11.2 0M1313.3 950.6a5.6 5.6 0 1 0 11.2 0a5.6 5.6 0 1 0 -11.2 0M1331.5 944.1a5.6 5.6 0 1 0 11.2 0a5.6 5.6 0 1 0 -11.2 0M1318.5 933.7a5.6 5.6 0 1 0 11.2 0a5.6 5.6 0 1 0 -11.2 0M1344.5 923.3a5.6 5.6 0 1 0 11.2 0a5.6 5.6 0 1 0 -11.2 0M1310.7 941.5a5.6 5.6 0 1 0 11.2 0a5.6 5.6 0 1 0 -11.2 0M1321.1 946.7a5.6 5.6 0 1 0 11.2 0a5.6 5.6 0 1 0 -11.2 0M1354.9 912.9a5.6 5.6 0 1 0 11.2 0a5.6 5.6 0 1 0 -11.2 0" fill="none" stroke="#48fb18" stroke-width="2.70"/>
<line x1="1221.30" y1="951.90" x2="1381.30" y2="869.20" stroke="#000" stroke-width="2.20"/>
<text x="1154.69" y="628.10" font-size="23.50" font-weight="normal" textLength="227.79" lengthAdjust="spacingAndGlyphs" fill="#000">r= 0.3684, P&lt; 0.0001</text>
<text x="1232.82" y="1023.40" font-size="22.50" font-weight="bold" textLength="104.54" lengthAdjust="spacingAndGlyphs" fill="#000">Language</text>
<line x1="343.30" y1="1221.10" x2="343.30" y2="1478.20" stroke="#000" stroke-width="5.40"/>
<line x1="334.20" y1="1475.50" x2="617.20" y2="1475.50" stroke="#000" stroke-width="5.40"/>
<line x1="343.30" y1="1475.50" x2="343.30" y2="1485.00" stroke="#000" stroke-width="5.00"/>
<text x="328.14" y="1508.30" font-size="21.00" font-weight="bold" textLength="30.35" lengthAdjust="spacingAndGlyphs">-50</text>
<line x1="397.66" y1="1475.50" x2="397.66" y2="1485.00" stroke="#000" stroke-width="5.00"/>
<text x="391.84" y="1508.30" font-size="21.00" font-weight="bold" textLength="11.68" lengthAdjust="spacingAndGlyphs">0</text>
<line x1="452.02" y1="1475.50" x2="452.02" y2="1485.00" stroke="#000" stroke-width="5.00"/>
<text x="440.45" y="1508.30" font-size="21.00" font-weight="bold" textLength="23.36" lengthAdjust="spacingAndGlyphs">50</text>
<line x1="506.38" y1="1475.50" x2="506.38" y2="1485.00" stroke="#000" stroke-width="5.00"/>
<text x="488.63" y="1508.30" font-size="21.00" font-weight="bold" textLength="35.04" lengthAdjust="spacingAndGlyphs">100</text>
<line x1="560.74" y1="1475.50" x2="560.74" y2="1485.00" stroke="#000" stroke-width="5.00"/>
<text x="542.99" y="1508.30" font-size="21.00" font-weight="bold" textLength="35.04" lengthAdjust="spacingAndGlyphs">150</text>
<line x1="615.10" y1="1475.50" x2="615.10" y2="1485.00" stroke="#000" stroke-width="5.00"/>
<text x="597.65" y="1508.30" font-size="21.00" font-weight="bold" textLength="35.04" lengthAdjust="spacingAndGlyphs">200</text>
<line x1="334.80" y1="1475.50" x2="343.30" y2="1475.50" stroke="#000" stroke-width="5.00"/>
<text x="319.18" y="1483.02" font-size="21.00" font-weight="bold" textLength="11.68" lengthAdjust="spacingAndGlyphs">0</text>
<line x1="334.80" y1="1412.42" x2="343.30" y2="1412.42" stroke="#000" stroke-width="5.00"/>
<text x="295.82" y="1419.94" font-size="21.00" font-weight="bold" textLength="35.04" lengthAdjust="spacingAndGlyphs">200</text>
<line x1="334.80" y1="1349.35" x2="343.30" y2="1349.35" stroke="#000" stroke-width="5.00"/>
<text x="295.82" y="1356.87" font-size="21.00" font-weight="bold" textLength="35.04" lengthAdjust="spacingAndGlyphs">400</text>
<line x1="334.80" y1="1286.28" x2="343.30" y2="1286.28" stroke="#000" stroke-width="5.00"/>
<text x="295.82" y="1293.79" font-size="21.00" font-weight="bold" textLength="35.04" lengthAdjust="spacingAndGlyphs">600</text>
<line x1="334.80" y1="1223.20" x2="343.30" y2="1223.20" stroke="#000" stroke-width="5.00"/>
<text x="295.82" y="1230.72" font-size="21.00" font-weight="bold" textLength="35.04" lengthAdjust="spacingAndGlyphs">800</text>
<path d="M453.5 1276.0a5.6 5.6 0 1 0 11.2 0a5.6 5.6 0 1 0 -11.2 0M488.6 1328.6a5.6 5.6 0 1 0 11.2 0a5.6 5.6 0 1 0 -11.2 0M510.1 1337.7a5.6 5.6 0 1 0 11.2 0a5.6 5.6 0 1 0 -11.2 0M396.2 1348.1a5.6 5.6 0 1 0 11.2 0a5.6 5.6 0 1 0 -11.2 0M502.3 1378.8a5.6 5.6 0 1 0 11.2 0a5.6 5.6 0 1 0 -11.2 0M538.8 1377.2a5.6 5.6 0 1 0 11.2 0a5.6 5.6 0 1 0 -11.2 0M560.6 1379.8a5.6 5.6 0 1 0 11.2 0a5.6 5.6 0 1 0 -11.2 0M514.6 1393.6a5.6 5.6 0 1 0 11.2 0a5.6 5.6 0 1 0 -11.2 0M519.8 1397.5a5.6 5.6 0 1 0 11.2 0a5.6 5.6 0 1 0 -11.2 0M502.9 1392.3a5.6 5.6 0 1 0 11.2 0a5.6 5.6 0 1 0 -11.2 0M532.8 1406.6a5.6 5.6 0 1 0 11.2 0a5.6 5.6 0 1 0 -11.2 0M547.1 1410.5a5.6 5.6 0 1 0 11.2 0a5.6 5.6 0 1 0 -11.2 0M538.0 1414.4a5.6 5.6 0 1 0 11.2 0a5.6 5.6 0 1 0 -11.2 0M541.9 1418.3a5.6 5.6 0 1 0 11.2 0a5.6 5.6 0 1 0 -11.2 0M519.8 1420.9a5.6 5.6 0 1 0 11.2 0a5.6 5.6 0 1 0 -11.2 0M497.7 1406.6a5.6 5.6 0 1 0 11.2 0a5.6 5.6 0 1 0 -11.2 0M432.6 1422.2a5.6 5.6 0 1 0 11.2 0a5.6 5.6 0 1 0 -11.2 0M433.9 1428.7a5.6 5.6 0 1 0 11.2 0a5.6 5.6 0 1 0 -11.2 0M534.6 1428.7a5.6 5.6 0 1 0 11.2 0a5.6 5.6 0 1 0 -11.2 0M523.7 1435.2a5.6 5.6 0 1 0 11.2 0a5.6 5.6 0 1 0 -11.2 0M587.4 1423.5a5.6 5.6 0 1 0 11.2 0a5.6 5.6 0 1 0 -11.2 0M476.9 1449.5a5.6 5.6 0 1 0 11.2 0a5.6 5.6 0 1 0 -11.2 0M536.7 1450.8a5.6 5.6 0 1 0 11.2 0a5.6 5.6 0 1 0 -11.2 0M505.5 1448.2a5.6 5.6 0 1 0 11.2 0a5.6 5.6 0 1 0 -11.2 0M512.0 1452.1a5.6 5.6 0 1 0 11.2 0a5.6 5.6 0 1 0 -11.2 0M509.4 1450.8a5.6 5.6 0 1 0 11.2 0a5.6 5.6 0 1 0 -11.2 0M414.4 1436.0a5.6 5.6 0 1 0 11.2 0a5.6 5.6 0 1 0 -11.2 0M482.1 1432.6a5.6 5.6 0 1 0 11.2 0a5.6 5.6 0 1 0 -11.2 0M489.9 1435.2a5.6 5.6 0 1 0 11.2 0a5.6 5.6 0 1 0 -11.2 0M392.3 1381.9a5.6 5.6 0 1 0 11.2 0a5.6 5.6 0 1 0 -11.2 0M492.5 1415.7a5.6 5.6 0 1 0 11.2 0a5.6 5.6 0 1 0 -11.2 0M482.1 1439.1a5.6 5.6 0 1 0 11.2 0a5.6 5.6 0 1 0 -11.2 0M544.5 1415.7a5.6 5.6 0 1 0 11.2 0a5.6 5.6 0 1 0 -11.2 0M518.5 1446.9a5.6 5.6 0 1 0 11.2 0a5.6 5.6 0 1 0 -11.2 0M487.3 1427.4a5.6 5.6 0 1 0 11.2 0a5.6 5.6 0 1 0 -11.2 0M500.3 1441.7a5.6 5.6 0 1 0 11.2 0a5.6 5.6 0 1 0 -11.2 0M513.3 1413.1a5.6 5.6 0 1 0 11.2 0a5.6 5.6 0 1 0 -11.2 0M528.9 1410.5a5.6 5.6 0 1 0 11.2 0a5.6 5.6 0 1 0 -11.2 0M466.5 1431.3a5.6 5.6 0 1 0 11.2 0a5.6 5.6 0 1 0 -11.2 0M497.7 1400.1a5.6 5.6 0 1 0 11.2 0a5.6 5.6 0 1 0 -11.2 0" fill="none" stroke="#ef7dae" stroke-width="2.70"/>
<path d="M395.7 1246.6a5.6 5.6 0 1 0 11.2 0a5.6 5.6 0 1 0 -11.2 0M488.6 1334.5a5.6 5.6 0 1 0 11.2 0a5.6 5.6 0 1 0 -11.2 0M487.3 1346.2a5.6 5.6 0 1 0 11.2 0a5.6 5.6 0 1 0 -11.2 0M513.3 1340.3a5.6 5.6 0 1 0 11.2 0a5.6 5.6 0 1 0 -11.2 0M397.5 1344.7a5.6 5.6 0 1 0 11.2 0a5.6 5.6 0 1 0 -11.2 0M471.7 1361.1a5.6 5.6 0 1 0 11.2 0a5.6 5.6 0 1 0 -11.2 0M475.6 1370.9a5.6 5.6 0 1 0 11.2 0a5.6 5.6 0 1 0 -11.2 0M461.3 1385.8a5.6 5.6 0 1 0 11.2 0a5.6 5.6 0 1 0 -11.2 0M398.8 1393.6a5.6 5.6 0 1 0 11.2 0a5.6 5.6 0 1 0 -11.2 0M536.2 1388.9a5.6 5.6 0 1 0 11.2 0a5.6 5.6 0 1 0 -11.2 0M439.9 1398.0a5.6 5.6 0 1 0 11.2 0a5.6 5.6 0 1 0 -11.2 0M441.7 1409.7a5.6 5.6 0 1 0 11.2 0a5.6 5.6 0 1 0 -11.2 0M409.2 1402.7a5.6 5.6 0 1 0 11.2 0a5.6 5.6 0 1 0 -11.2 0M491.7 1407.1a5.6 5.6 0 1 0 11.2 0a5.6 5.6 0 1 0 -11.2 0M521.1 1411.3a5.6 5.6 0 1 0 11.2 0a5.6 5.6 0 1 0 -11.2 0M466.5 1423.0a5.6 5.6 0 1 0 11.2 0a5.6 5.6 0 1 0 -11.2 0M474.3 1420.9a5.6 5.6 0 1 0 11.2 0a5.6 5.6 0 1 0 -11.2 0M487.3 1419.6a5.6 5.6 0 1 0 11.2 0a5.6 5.6 0 1 0 -11.2 0M497.7 1418.3a5.6 5.6 0 1 0 11.2 0a5.6 5.6 0 1 0 -11.2 0M510.7 1420.4a5.6 5.6 0 1 0 11.2 0a5.6 5.6 0 1 0 -11.2 0M551.0 1420.4a5.6 5.6 0 1 0 11.2 0a5.6 5.6 0 1 0 -11.2 0M499.0 1427.4a5.6 5.6 0 1 0 11.2 0a5.6 5.6 0 1 0 -11.2 0M502.9 1435.2a5.6 5.6 0 1 0 11.2 0a5.6 5.6 0 1 0 -11.2 0M479.5 1435.2a5.6 5.6 0 1 0 11.2 0a5.6 5.6 0 1 0 -11.2 0M484.7 1441.7a5.6 5.6 0 1 0 11.2 0a5.6 5.6 0 1 0 -11.2 0M517.2 1439.6a5.6 5.6 0 1 0 11.2 0a5.6 5.6 0 1 0 -11.2 0M426.1 1428.2a5.6 5.6 0 1 0 11.2 0a5.6 5.6 0 1 0 -11.2 0M548.4 1443.8a5.6 5.6 0 1 0 11.2 0a5.6 5.6 0 1 0 -11.2 0M504.2 1459.4a5.6 5.6 0 1 0 11.2 0a5.6 5.6 0 1 0 -11.2 0M378.0 1437.8a5.6 5.6 0 1 0 11.2 0a5.6 5.6 0 1 0 -11.2 0M388.4 1432.6a5.6 5.6 0 1 0 11.2 0a5.6 5.6 0 1 0 -11.2 0M393.6 1431.3a5.6 5.6 0 1 0 11.2 0a5.6 5.6 0 1 0 -11.2 0M404.0 1432.6a5.6 5.6 0 1 0 11.2 0a5.6 5.6 0 1 0 -11.2 0M398.8 1443.0a5.6 5.6 0 1 0 11.2 0a5.6 5.6 0 1 0 -11.2 0M492.5 1423.5a5.6 5.6 0 1 0 11.2 0a5.6 5.6 0 1 0 -11.2 0M482.1 1428.7a5.6 5.6 0 1 0 11.2 0a5.6 5.6 0 1 0 -11.2 0M398.8 1406.6a5.6 5.6 0 1 0 11.2 0a5.6 5.6 0 1 0 -11.2 0M495.1 1439.1a5.6 5.6 0 1 0 11.2 0a5.6 5.6 0 1 0 -11.2 0M476.9 1426.1a5.6 5.6 0 1 0 11.2 0a5.6 5.6 0 1 0 -11.2 0M489.9 1431.3a5.6 5.6 0 1 0 11.2 0a5.6 5.6 0 1 0 -11.2 0" fill="none" stroke="#381ef2" stroke-width="2.70"/>
<path d="M372.8 1257.0a5.6 5.6 0 1 0 11.2 0a5.6 5.6 0 1 0 -11.2 0M408.7 1248.7a5.6 5.6 0 1 0 11.2 0a5.6 5.6 0 1 0 -11.2 0M508.6 1273.9a5.6 5.6 0 1 0 11.2 0a5.6 5.6 0 1 0 -11.2 0M478.2 1284.3a5.6 5.6 0 1 0 11.2 0a5.6 5.6 0 1 0 -11.2 0M430.8 1290.8a5.6 5.6 0 1 0 11.2 0a5.6 5.6 0 1 0 -11.2 0M447.5 1294.0a5.6 5.6 0 1 0 11.2 0a5.6 5.6 0 1 0 -11.2 0M406.6 1295.0a5.6 5.6 0 1 0 11.2 0a5.6 5.6 0 1 0 -11.2 0M398.8 1305.4a5.6 5.6 0 1 0 11.2 0a5.6 5.6 0 1 0 -11.2 0M461.3 1307.2a5.6 5.6 0 1 0 11.2 0a5.6 5.6 0 1 0 -11.2 0M454.0 1322.1a5.6 5.6 0 1 0 11.2 0a5.6 5.6 0 1 0 -11.2 0M389.2 1318.9a5.6 5.6 0 1 0 11.2 0a5.6 5.6 0 1 0 -11.2 0M393.6 1327.3a5.6 5.6 0 1 0 11.2 0a5.6 5.6 0 1 0 -11.2 0M398.8 1333.8a5.6 5.6 0 1 0 11.2 0a5.6 5.6 0 1 0 -11.2 0M404.8 1336.4a5.6 5.6 0 1 0 11.2 0a5.6 5.6 0 1 0 -11.2 0M420.2 1329.9a5.6 5.6 0 1 0 11.2 0a5.6 5.6 0 1 0 -11.2 0M384.5 1346.8a5.6 5.6 0 1 0 11.2 0a5.6 5.6 0 1 0 -11.2 0M380.6 1352.7a5.6 5.6 0 1 0 11.2 0a5.6 5.6 0 1 0 -11.2 0M520.6 1348.1a5.6 5.6 0 1 0 11.2 0a5.6 5.6 0 1 0 -11.2 0M368.9 1361.8a5.6 5.6 0 1 0 11.2 0a5.6 5.6 0 1 0 -11.2 0M389.0 1365.7a5.6 5.6 0 1 0 11.2 0a5.6 5.6 0 1 0 -11.2 0M398.8 1366.3a5.6 5.6 0 1 0 11.2 0a5.6 5.6 0 1 0 -11.2 0M404.0 1366.3a5.6 5.6 0 1 0 11.2 0a5.6 5.6 0 1 0 -11.2 0M411.8 1368.9a5.6 5.6 0 1 0 11.2 0a5.6 5.6 0 1 0 -11.2 0M419.6 1367.6a5.6 5.6 0 1 0 11.2 0a5.6 5.6 0 1 0 -11.2 0M409.2 1371.5a5.6 5.6 0 1 0 11.2 0a5.6 5.6 0 1 0 -11.2 0M388.4 1374.1a5.6 5.6 0 1 0 11.2 0a5.6 5.6 0 1 0 -11.2 0M467.2 1368.3a5.6 5.6 0 1 0 11.2 0a5.6 5.6 0 1 0 -11.2 0M487.3 1381.4a5.6 5.6 0 1 0 11.2 0a5.6 5.6 0 1 0 -11.2 0M402.7 1381.9a5.6 5.6 0 1 0 11.2 0a5.6 5.6 0 1 0 -11.2 0M393.6 1384.5a5.6 5.6 0 1 0 11.2 0a5.6 5.6 0 1 0 -11.2 0M358.5 1385.3a5.6 5.6 0 1 0 11.2 0a5.6 5.6 0 1 0 -11.2 0M379.3 1385.8a5.6 5.6 0 1 0 11.2 0a5.6 5.6 0 1 0 -11.2 0M374.1 1391.8a5.6 5.6 0 1 0 11.2 0a5.6 5.6 0 1 0 -11.2 0M530.2 1385.8a5.6 5.6 0 1 0 11.2 0a5.6 5.6 0 1 0 -11.2 0M489.9 1396.2a5.6 5.6 0 1 0 11.2 0a5.6 5.6 0 1 0 -11.2 0M482.1 1398.8a5.6 5.6 0 1 0 11.2 0a5.6 5.6 0 1 0 -11.2 0M500.3 1397.0a5.6 5.6 0 1 0 11.2 0a5.6 5.6 0 1 0 -11.2 0M504.2 1397.5a5.6 5.6 0 1 0 11.2 0a5.6 5.6 0 1 0 -11.2 0M448.2 1396.2a5.6 5.6 0 1 0 11.2 0a5.6 5.6 0 1 0 -11.2 0M453.5 1398.8a5.6 5.6 0 1 0 11.2 0a5.6 5.6 0 1 0 -11.2 0M458.7 1400.1a5.6 5.6 0 1 0 11.2 0a5.6 5.6 0 1 0 -11.2 0M445.6 1404.0a5.6 5.6 0 1 0 11.2 0a5.6 5.6 0 1 0 -11.2 0M450.8 1406.6a5.6 5.6 0 1 0 11.2 0a5.6 5.6 0 1 0 -11.2 0M409.2 1402.7a5.6 5.6 0 1 0 11.2 0a5.6 5.6 0 1 0 -11.2 0M422.2 1405.3a5.6 5.6 0 1 0 11.2 0a5.6 5.6 0 1 0 -11.2 0M378.0 1410.0a5.6 5.6 0 1 0 11.2 0a5.6 5.6 0 1 0 -11.2 0M385.8 1410.5a5.6 5.6 0 1 0 11.2 0a5.6 5.6 0 1 0 -11.2 0M393.6 1407.9a5.6 5.6 0 1 0 11.2 0a5.6 5.6 0 1 0 -11.2 0M398.8 1411.8a5.6 5.6 0 1 0 11.2 0a5.6 5.6 0 1 0 -11.2 0M388.4 1415.7a5.6 5.6 0 1 0 11.2 0a5.6 5.6 0 1 0 -11.2 0M404.0 1415.7a5.6 5.6 0 1 0 11.2 0a5.6 5.6 0 1 0 -11.2 0M417.0 1413.1a5.6 5.6 0 1 0 11.2 0a5.6 5.6 0 1 0 -11.2 0M380.6 1419.6a5.6 5.6 0 1 0 11.2 0a5.6 5.6 0 1 0 -11.2 0M388.4 1420.9a5.6 5.6 0 1 0 11.2 0a5.6 5.6 0 1 0 -11.2 0M398.8 1420.9a5.6 5.6 0 1 0 11.2 0a5.6 5.6 0 1 0 -11.2 0M406.6 1419.6a5.6 5.6 0 1 0 11.2 0a5.6 5.6 0 1 0 -11.2 0M419.6 1418.3a5.6 5.6 0 1 0 11.2 0a5.6 5.6 0 1 0 -11.2 0M378.0 1424.8a5.6 5.6 0 1 0 11.2 0a5.6 5.6 0 1 0 -11.2 0M385.8 1426.1a5.6 5.6 0 1 0 11.2 0a5.6 5.6 0 1 0 -11.2 0M456.1 1424.8a5.6 5.6 0 1 0 11.2 0a5.6 5.6 0 1 0 -11.2 0M473.0 1414.4a5.6 5.6 0 1 0 11.2 0a5.6 5.6 0 1 0 -11.2 0M487.3 1423.5a5.6 5.6 0 1 0 11.2 0a5.6 5.6 0 1 0 -11.2 0M489.9 1427.4a5.6 5.6 0 1 0 11.2 0a5.6 5.6 0 1 0 -11.2 0M484.7 1426.1a5.6 5.6 0 1 0 11.2 0a5.6 5.6 0 1 0 -11.2 0M379.3 1435.2a5.6 5.6 0 1 0 11.2 0a5.6 5.6 0 1 0 -11.2 0M414.4 1435.2a5.6 5.6 0 1 0 11.2 0a5.6 5.6 0 1 0 -11.2 0M430.0 1433.9a5.6 5.6 0 1 0 11.2 0a5.6 5.6 0 1 0 -11.2 0M493.8 1433.9a5.6 5.6 0 1 0 11.2 0a5.6 5.6 0 1 0 -11.2 0M398.8 1443.0a5.6 5.6 0 1 0 11.2 0a5.6 5.6 0 1 0 -11.2 0M402.7 1448.2a5.6 5.6 0 1 0 11.2 0a5.6 5.6 0 1 0 -11.2 0M404.0 1444.3a5.6 5.6 0 1 0 11.2 0a5.6 5.6 0 1 0 -11.2 0M489.9 1444.3a5.6 5.6 0 1 0 11.2 0a5.6 5.6 0 1 0 -11.2 0M396.2 1444.3a5.6 5.6 0 1 0 11.2 0a5.6 5.6 0 1 0 -11.2 0" fill="none" stroke="#48fb18" stroke-width="2.70"/>
<line x1="365.40" y1="1378.00" x2="593.00" y2="1416.50" stroke="#000" stroke-width="2.20"/>
<text x="354.75" y="1185.50" font-size="23.50" font-weight="normal" textLength="227.74" lengthAdjust="spacingAndGlyphs" fill="#000">r= -0.1902, P= 0.0224</text>
<text x="426.39" y="1540.50" font-size="22.50" font-weight="bold" textLength="106.91" lengthAdjust="spacingAndGlyphs" fill="#000">Centiloids</text>
<line x1="706.80" y1="1221.10" x2="706.80" y2="1486.50" stroke="#000" stroke-width="5.40"/>
<line x1="697.70" y1="1483.80" x2="988.50" y2="1483.80" stroke="#000" stroke-width="5.40"/>
<line x1="706.80" y1="1483.80" x2="706.80" y2="1493.30" stroke="#000" stroke-width="5.00"/>
<text x="697.11" y="1516.60" font-size="21.00" font-weight="bold" textLength="18.67" lengthAdjust="spacingAndGlyphs">-4</text>
<line x1="799.67" y1="1483.80" x2="799.67" y2="1493.30" stroke="#000" stroke-width="5.00"/>
<text x="790.34" y="1516.60" font-size="21.00" font-weight="bold" textLength="18.67" lengthAdjust="spacingAndGlyphs">-2</text>
<line x1="892.53" y1="1483.80" x2="892.53" y2="1493.30" stroke="#000" stroke-width="5.00"/>
<text x="886.71" y="1516.60" font-size="21.00" font-weight="bold" textLength="11.68" lengthAdjust="spacingAndGlyphs">0</text>
<line x1="985.40" y1="1483.80" x2="985.40" y2="1493.30" stroke="#000" stroke-width="5.00"/>
<text x="979.62" y="1516.60" font-size="21.00" font-weight="bold" textLength="11.68" lengthAdjust="spacingAndGlyphs">2</text>
<line x1="698.30" y1="1483.80" x2="706.80" y2="1483.80" stroke="#000" stroke-width="5.00"/>
<text x="682.68" y="1491.32" font-size="21.00" font-weight="bold" textLength="11.68" lengthAdjust="spacingAndGlyphs">0</text>
<line x1="698.30" y1="1418.78" x2="706.80" y2="1418.78" stroke="#000" stroke-width="5.00"/>
<text x="659.32" y="1426.29" font-size="21.00" font-weight="bold" textLength="35.04" lengthAdjust="spacingAndGlyphs">200</text>
<line x1="698.30" y1="1353.75" x2="706.80" y2="1353.75" stroke="#000" stroke-width="5.00"/>
<text x="659.32" y="1361.27" font-size="21.00" font-weight="bold" textLength="35.04" lengthAdjust="spacingAndGlyphs">400</text>
<line x1="698.30" y1="1288.72" x2="706.80" y2="1288.72" stroke="#000" stroke-width="5.00"/>
<text x="659.32" y="1296.24" font-size="21.00" font-weight="bold" textLength="35.04" lengthAdjust="spacingAndGlyphs">600</text>
<line x1="698.30" y1="1223.70" x2="706.80" y2="1223.70" stroke="#000" stroke-width="5.00"/>
<text x="659.32" y="1231.22" font-size="21.00" font-weight="bold" textLength="35.04" lengthAdjust="spacingAndGlyphs">800</text>
<path d="M757.9 1384.0a5.6 5.6 0 1 0 11.2 0a5.6 5.6 0 1 0 -11.2 0M744.9 1416.2a5.6 5.6 0 1 0 11.2 0a5.6 5.6 0 1 0 -11.2 0M748.8 1435.2a5.6 5.6 0 1 0 11.2 0a5.6 5.6 0 1 0 -11.2 0M778.0 1433.4a5.6 5.6 0 1 0 11.2 0a5.6 5.6 0 1 0 -11.2 0M752.7 1456.0a5.6 5.6 0 1 0 11.2 0a5.6 5.6 0 1 0 -11.2 0M772.8 1453.9a5.6 5.6 0 1 0 11.2 0a5.6 5.6 0 1 0 -11.2 0M804.8 1439.9a5.6 5.6 0 1 0 11.2 0a5.6 5.6 0 1 0 -11.2 0M832.8 1456.8a5.6 5.6 0 1 0 11.2 0a5.6 5.6 0 1 0 -11.2 0" fill="none" stroke="#ef7dae" stroke-width="2.70"/>
<path d="M802.2 1392.8a5.6 5.6 0 1 0 11.2 0a5.6 5.6 0 1 0 -11.2 0M815.9 1391.0a5.6 5.6 0 1 0 11.2 0a5.6 5.6 0 1 0 -11.2 0M802.9 1414.4a5.6 5.6 0 1 0 11.2 0a5.6 5.6 0 1 0 -11.2 0M760.5 1423.5a5.6 5.6 0 1 0 11.2 0a5.6 5.6 0 1 0 -11.2 0M793.8 1423.5a5.6 5.6 0 1 0 11.2 0a5.6 5.6 0 1 0 -11.2 0M806.1 1426.1a5.6 5.6 0 1 0 11.2 0a5.6 5.6 0 1 0 -11.2 0M849.0 1409.7a5.6 5.6 0 1 0 11.2 0a5.6 5.6 0 1 0 -11.2 0M770.9 1441.2a5.6 5.6 0 1 0 11.2 0a5.6 5.6 0 1 0 -11.2 0M772.2 1441.7a5.6 5.6 0 1 0 11.2 0a5.6 5.6 0 1 0 -11.2 0M790.4 1441.2a5.6 5.6 0 1 0 11.2 0a5.6 5.6 0 1 0 -11.2 0M764.4 1449.5a5.6 5.6 0 1 0 11.2 0a5.6 5.6 0 1 0 -11.2 0M812.0 1439.1a5.6 5.6 0 1 0 11.2 0a5.6 5.6 0 1 0 -11.2 0M813.3 1445.1a5.6 5.6 0 1 0 11.2 0a5.6 5.6 0 1 0 -11.2 0M854.4 1437.0a5.6 5.6 0 1 0 11.2 0a5.6 5.6 0 1 0 -11.2 0M869.8 1443.5a5.6 5.6 0 1 0 11.2 0a5.6 5.6 0 1 0 -11.2 0M793.8 1465.1a5.6 5.6 0 1 0 11.2 0a5.6 5.6 0 1 0 -11.2 0" fill="none" stroke="#381ef2" stroke-width="2.70"/>
<path d="M930.4 1250.0a5.6 5.6 0 1 0 11.2 0a5.6 5.6 0 1 0 -11.2 0M936.1 1258.6a5.6 5.6 0 1 0 11.2 0a5.6 5.6 0 1 0 -11.2 0M951.2 1276.5a5.6 5.6 0 1 0 11.2 0a5.6 5.6 0 1 0 -11.2 0M948.6 1286.4a5.6 5.6 0 1 0 11.2 0a5.6 5.6 0 1 0 -11.2 0M875.8 1293.4a5.6 5.6 0 1 0 11.2 0a5.6 5.6 0 1 0 -11.2 0M891.9 1308.5a5.6 5.6 0 1 0 11.2 0a5.6 5.6 0 1 0 -11.2 0M911.6 1310.6a5.6 5.6 0 1 0 11.2 0a5.6 5.6 0 1 0 -11.2 0M930.4 1322.6a5.6 5.6 0 1 0 11.2 0a5.6 5.6 0 1 0 -11.2 0M868.5 1326.0a5.6 5.6 0 1 0 11.2 0a5.6 5.6 0 1 0 -11.2 0M815.7 1331.2a5.6 5.6 0 1 0 11.2 0a5.6 5.6 0 1 0 -11.2 0M951.2 1334.0a5.6 5.6 0 1 0 11.2 0a5.6 5.6 0 1 0 -11.2 0M935.3 1340.3a5.6 5.6 0 1 0 11.2 0a5.6 5.6 0 1 0 -11.2 0M940.0 1338.2a5.6 5.6 0 1 0 11.2 0a5.6 5.6 0 1 0 -11.2 0M930.4 1350.7a5.6 5.6 0 1 0 11.2 0a5.6 5.6 0 1 0 -11.2 0M818.3 1352.7a5.6 5.6 0 1 0 11.2 0a5.6 5.6 0 1 0 -11.2 0M861.4 1357.2a5.6 5.6 0 1 0 11.2 0a5.6 5.6 0 1 0 -11.2 0M868.5 1366.8a5.6 5.6 0 1 0 11.2 0a5.6 5.6 0 1 0 -11.2 0M871.1 1371.5a5.6 5.6 0 1 0 11.2 0a5.6 5.6 0 1 0 -11.2 0M884.1 1372.8a5.6 5.6 0 1 0 11.2 0a5.6 5.6 0 1 0 -11.2 0M867.7 1374.1a5.6 5.6 0 1 0 11.2 0a5.6 5.6 0 1 0 -11.2 0M857.3 1376.7a5.6 5.6 0 1 0 11.2 0a5.6 5.6 0 1 0 -11.2 0M903.1 1372.2a5.6 5.6 0 1 0 11.2 0a5.6 5.6 0 1 0 -11.2 0M917.9 1370.9a5.6 5.6 0 1 0 11.2 0a5.6 5.6 0 1 0 -11.2 0M943.9 1370.7a5.6 5.6 0 1 0 11.2 0a5.6 5.6 0 1 0 -11.2 0M907.5 1376.7a5.6 5.6 0 1 0 11.2 0a5.6 5.6 0 1 0 -11.2 0M953.8 1378.8a5.6 5.6 0 1 0 11.2 0a5.6 5.6 0 1 0 -11.2 0M876.3 1387.6a5.6 5.6 0 1 0 11.2 0a5.6 5.6 0 1 0 -11.2 0M915.3 1386.6a5.6 5.6 0 1 0 11.2 0a5.6 5.6 0 1 0 -11.2 0M835.4 1392.3a5.6 5.6 0 1 0 11.2 0a5.6 5.6 0 1 0 -11.2 0M863.3 1391.5a5.6 5.6 0 1 0 11.2 0a5.6 5.6 0 1 0 -11.2 0M902.3 1391.8a5.6 5.6 0 1 0 11.2 0a5.6 5.6 0 1 0 -11.2 0M953.8 1391.0a5.6 5.6 0 1 0 11.2 0a5.6 5.6 0 1 0 -11.2 0M917.4 1398.3a5.6 5.6 0 1 0 11.2 0a5.6 5.6 0 1 0 -11.2 0M923.1 1402.7a5.6 5.6 0 1 0 11.2 0a5.6 5.6 0 1 0 -11.2 0M925.2 1404.0a5.6 5.6 0 1 0 11.2 0a5.6 5.6 0 1 0 -11.2 0M847.7 1404.0a5.6 5.6 0 1 0 11.2 0a5.6 5.6 0 1 0 -11.2 0M854.2 1405.3a5.6 5.6 0 1 0 11.2 0a5.6 5.6 0 1 0 -11.2 0M860.7 1402.7a5.6 5.6 0 1 0 11.2 0a5.6 5.6 0 1 0 -11.2 0M876.3 1405.3a5.6 5.6 0 1 0 11.2 0a5.6 5.6 0 1 0 -11.2 0M879.4 1407.9a5.6 5.6 0 1 0 11.2 0a5.6 5.6 0 1 0 -11.2 0M889.3 1412.6a5.6 5.6 0 1 0 11.2 0a5.6 5.6 0 1 0 -11.2 0M928.3 1414.4a5.6 5.6 0 1 0 11.2 0a5.6 5.6 0 1 0 -11.2 0M936.1 1417.0a5.6 5.6 0 1 0 11.2 0a5.6 5.6 0 1 0 -11.2 0M951.7 1411.3a5.6 5.6 0 1 0 11.2 0a5.6 5.6 0 1 0 -11.2 0M962.6 1417.0a5.6 5.6 0 1 0 11.2 0a5.6 5.6 0 1 0 -11.2 0M899.7 1419.6a5.6 5.6 0 1 0 11.2 0a5.6 5.6 0 1 0 -11.2 0M941.3 1415.7a5.6 5.6 0 1 0 11.2 0a5.6 5.6 0 1 0 -11.2 0M949.1 1420.9a5.6 5.6 0 1 0 11.2 0a5.6 5.6 0 1 0 -11.2 0M845.1 1421.4a5.6 5.6 0 1 0 11.2 0a5.6 5.6 0 1 0 -11.2 0M832.1 1426.9a5.6 5.6 0 1 0 11.2 0a5.6 5.6 0 1 0 -11.2 0M837.3 1426.1a5.6 5.6 0 1 0 11.2 0a5.6 5.6 0 1 0 -11.2 0M834.7 1428.2a5.6 5.6 0 1 0 11.2 0a5.6 5.6 0 1 0 -11.2 0M882.8 1426.1a5.6 5.6 0 1 0 11.2 0a5.6 5.6 0 1 0 -11.2 0M933.5 1423.5a5.6 5.6 0 1 0 11.2 0a5.6 5.6 0 1 0 -11.2 0M941.3 1423.5a5.6 5.6 0 1 0 11.2 0a5.6 5.6 0 1 0 -11.2 0M934.0 1431.8a5.6 5.6 0 1 0 11.2 0a5.6 5.6 0 1 0 -11.2 0M871.6 1430.8a5.6 5.6 0 1 0 11.2 0a5.6 5.6 0 1 0 -11.2 0M813.9 1433.9a5.6 5.6 0 1 0 11.2 0a5.6 5.6 0 1 0 -11.2 0M945.2 1437.3a5.6 5.6 0 1 0 11.2 0a5.6 5.6 0 1 0 -11.2 0M878.9 1441.7a5.6 5.6 0 1 0 11.2 0a5.6 5.6 0 1 0 -11.2 0M897.6 1441.7a5.6 5.6 0 1 0 11.2 0a5.6 5.6 0 1 0 -11.2 0M917.4 1440.4a5.6 5.6 0 1 0 11.2 0a5.6 5.6 0 1 0 -11.2 0M865.9 1443.0a5.6 5.6 0 1 0 11.2 0a5.6 5.6 0 1 0 -11.2 0M890.6 1451.6a5.6 5.6 0 1 0 11.2 0a5.6 5.6 0 1 0 -11.2 0M904.9 1450.3a5.6 5.6 0 1 0 11.2 0a5.6 5.6 0 1 0 -11.2 0M936.6 1451.3a5.6 5.6 0 1 0 11.2 0a5.6 5.6 0 1 0 -11.2 0M940.0 1455.2a5.6 5.6 0 1 0 11.2 0a5.6 5.6 0 1 0 -11.2 0M850.3 1407.9a5.6 5.6 0 1 0 11.2 0a5.6 5.6 0 1 0 -11.2 0M938.7 1420.9a5.6 5.6 0 1 0 11.2 0a5.6 5.6 0 1 0 -11.2 0M920.5 1401.4a5.6 5.6 0 1 0 11.2 0a5.6 5.6 0 1 0 -11.2 0" fill="none" stroke="#48fb18" stroke-width="2.70"/>
<line x1="750.50" y1="1438.60" x2="967.20" y2="1372.00" stroke="#000" stroke-width="2.20"/>
<text x="730.69" y="1186.80" font-size="23.50" font-weight="normal" textLength="221.30" lengthAdjust="spacingAndGlyphs" fill="#000">r= 0.3866, P=0.0001</text>
<text x="752.89" y="1549.60" font-size="22.50" font-weight="bold" textLength="188.43" lengthAdjust="spacingAndGlyphs" fill="#000">Episodic memory</text>
<line x1="1081.90" y1="1223.20" x2="1081.90" y2="1488.60" stroke="#000" stroke-width="5.40"/>
<line x1="1072.80" y1="1485.90" x2="1362.30" y2="1485.90" stroke="#000" stroke-width="5.40"/>
<line x1="1081.90" y1="1485.90" x2="1081.90" y2="1495.40" stroke="#000" stroke-width="5.00"/>
<text x="1072.48" y="1518.70" font-size="21.00" font-weight="bold" textLength="18.67" lengthAdjust="spacingAndGlyphs">-8</text>
<line x1="1137.40" y1="1485.90" x2="1137.40" y2="1495.40" stroke="#000" stroke-width="5.00"/>
<text x="1128.03" y="1518.70" font-size="21.00" font-weight="bold" textLength="18.67" lengthAdjust="spacingAndGlyphs">-6</text>
<line x1="1192.90" y1="1485.90" x2="1192.90" y2="1495.40" stroke="#000" stroke-width="5.00"/>
<text x="1183.21" y="1518.70" font-size="21.00" font-weight="bold" textLength="18.67" lengthAdjust="spacingAndGlyphs">-4</text>
<line x1="1248.40" y1="1485.90" x2="1248.40" y2="1495.40" stroke="#000" stroke-width="5.00"/>
<text x="1239.07" y="1518.70" font-size="21.00" font-weight="bold" textLength="18.67" lengthAdjust="spacingAndGlyphs">-2</text>
<line x1="1303.90" y1="1485.90" x2="1303.90" y2="1495.40" stroke="#000" stroke-width="5.00"/>
<text x="1298.08" y="1518.70" font-size="21.00" font-weight="bold" textLength="11.68" lengthAdjust="spacingAndGlyphs">0</text>
<line x1="1359.40" y1="1485.90" x2="1359.40" y2="1495.40" stroke="#000" stroke-width="5.00"/>
<text x="1353.62" y="1518.70" font-size="21.00" font-weight="bold" textLength="11.68" lengthAdjust="spacingAndGlyphs">2</text>
<line x1="1073.40" y1="1485.90" x2="1081.90" y2="1485.90" stroke="#000" stroke-width="5.00"/>
<text x="1057.78" y="1493.42" font-size="21.00" font-weight="bold" textLength="11.68" lengthAdjust="spacingAndGlyphs">0</text>
<line x1="1073.40" y1="1420.88" x2="1081.90" y2="1420.88" stroke="#000" stroke-width="5.00"/>
<text x="1034.42" y="1428.39" font-size="21.00" font-weight="bold" textLength="35.04" lengthAdjust="spacingAndGlyphs">200</text>
<line x1="1073.40" y1="1355.85" x2="1081.90" y2="1355.85" stroke="#000" stroke-width="5.00"/>
<text x="1034.42" y="1363.37" font-size="21.00" font-weight="bold" textLength="35.04" lengthAdjust="spacingAndGlyphs">400</text>
<line x1="1073.40" y1="1290.83" x2="1081.90" y2="1290.83" stroke="#000" stroke-width="5.00"/>
<text x="1034.42" y="1298.34" font-size="21.00" font-weight="bold" textLength="35.04" lengthAdjust="spacingAndGlyphs">600</text>
<line x1="1073.40" y1="1225.80" x2="1081.90" y2="1225.80" stroke="#000" stroke-width="5.00"/>
<text x="1034.42" y="1233.32" font-size="21.00" font-weight="bold" textLength="35.04" lengthAdjust="spacingAndGlyphs">800</text>
<path d="M1190.8 1386.6a5.6 5.6 0 1 0 11.2 0a5.6 5.6 0 1 0 -11.2 0M1136.1 1419.1a5.6 5.6 0 1 0 11.2 0a5.6 5.6 0 1 0 -11.2 0M1184.3 1433.1a5.6 5.6 0 1 0 11.2 0a5.6 5.6 0 1 0 -11.2 0M1194.7 1437.8a5.6 5.6 0 1 0 11.2 0a5.6 5.6 0 1 0 -11.2 0M1207.7 1436.5a5.6 5.6 0 1 0 11.2 0a5.6 5.6 0 1 0 -11.2 0M1223.8 1442.5a5.6 5.6 0 1 0 11.2 0a5.6 5.6 0 1 0 -11.2 0M1227.7 1456.0a5.6 5.6 0 1 0 11.2 0a5.6 5.6 0 1 0 -11.2 0M1182.4 1459.4a5.6 5.6 0 1 0 11.2 0a5.6 5.6 0 1 0 -11.2 0M1262.3 1459.4a5.6 5.6 0 1 0 11.2 0a5.6 5.6 0 1 0 -11.2 0" fill="none" stroke="#ef7dae" stroke-width="2.70"/>
<path d="M1253.7 1395.7a5.6 5.6 0 1 0 11.2 0a5.6 5.6 0 1 0 -11.2 0M1272.2 1393.6a5.6 5.6 0 1 0 11.2 0a5.6 5.6 0 1 0 -11.2 0M1287.0 1410.5a5.6 5.6 0 1 0 11.2 0a5.6 5.6 0 1 0 -11.2 0M1253.2 1417.0a5.6 5.6 0 1 0 11.2 0a5.6 5.6 0 1 0 -11.2 0M1206.4 1426.1a5.6 5.6 0 1 0 11.2 0a5.6 5.6 0 1 0 -11.2 0M1227.2 1426.9a5.6 5.6 0 1 0 11.2 0a5.6 5.6 0 1 0 -11.2 0M1225.3 1436.5a5.6 5.6 0 1 0 11.2 0a5.6 5.6 0 1 0 -11.2 0M1240.2 1443.0a5.6 5.6 0 1 0 11.2 0a5.6 5.6 0 1 0 -11.2 0M1243.6 1443.8a5.6 5.6 0 1 0 11.2 0a5.6 5.6 0 1 0 -11.2 0M1235.0 1448.2a5.6 5.6 0 1 0 11.2 0a5.6 5.6 0 1 0 -11.2 0M1236.3 1453.4a5.6 5.6 0 1 0 11.2 0a5.6 5.6 0 1 0 -11.2 0M1259.7 1443.0a5.6 5.6 0 1 0 11.2 0a5.6 5.6 0 1 0 -11.2 0M1266.2 1443.0a5.6 5.6 0 1 0 11.2 0a5.6 5.6 0 1 0 -11.2 0M1270.1 1430.0a5.6 5.6 0 1 0 11.2 0a5.6 5.6 0 1 0 -11.2 0M1289.6 1447.4a5.6 5.6 0 1 0 11.2 0a5.6 5.6 0 1 0 -11.2 0M1234.2 1468.2a5.6 5.6 0 1 0 11.2 0a5.6 5.6 0 1 0 -11.2 0M1262.3 1433.9a5.6 5.6 0 1 0 11.2 0a5.6 5.6 0 1 0 -11.2 0" fill="none" stroke="#381ef2" stroke-width="2.70"/>
<path d="M1307.3 1252.6a5.6 5.6 0 1 0 11.2 0a5.6 5.6 0 1 0 -11.2 0M1322.6 1260.9a5.6 5.6 0 1 0 11.2 0a5.6 5.6 0 1 0 -11.2 0M1342.9 1278.6a5.6 5.6 0 1 0 11.2 0a5.6 5.6 0 1 0 -11.2 0M1326.0 1289.0a5.6 5.6 0 1 0 11.2 0a5.6 5.6 0 1 0 -11.2 0M1301.3 1295.5a5.6 5.6 0 1 0 11.2 0a5.6 5.6 0 1 0 -11.2 0M1294.8 1311.1a5.6 5.6 0 1 0 11.2 0a5.6 5.6 0 1 0 -11.2 0M1316.9 1313.0a5.6 5.6 0 1 0 11.2 0a5.6 5.6 0 1 0 -11.2 0M1320.8 1325.2a5.6 5.6 0 1 0 11.2 0a5.6 5.6 0 1 0 -11.2 0M1290.4 1327.8a5.6 5.6 0 1 0 11.2 0a5.6 5.6 0 1 0 -11.2 0M1248.5 1333.8a5.6 5.6 0 1 0 11.2 0a5.6 5.6 0 1 0 -11.2 0M1319.5 1337.1a5.6 5.6 0 1 0 11.2 0a5.6 5.6 0 1 0 -11.2 0M1316.9 1340.8a5.6 5.6 0 1 0 11.2 0a5.6 5.6 0 1 0 -11.2 0M1328.6 1342.9a5.6 5.6 0 1 0 11.2 0a5.6 5.6 0 1 0 -11.2 0M1310.4 1353.3a5.6 5.6 0 1 0 11.2 0a5.6 5.6 0 1 0 -11.2 0M1231.1 1355.3a5.6 5.6 0 1 0 11.2 0a5.6 5.6 0 1 0 -11.2 0M1283.6 1360.3a5.6 5.6 0 1 0 11.2 0a5.6 5.6 0 1 0 -11.2 0M1273.5 1368.9a5.6 5.6 0 1 0 11.2 0a5.6 5.6 0 1 0 -11.2 0M1267.5 1375.4a5.6 5.6 0 1 0 11.2 0a5.6 5.6 0 1 0 -11.2 0M1277.9 1375.4a5.6 5.6 0 1 0 11.2 0a5.6 5.6 0 1 0 -11.2 0M1262.3 1378.8a5.6 5.6 0 1 0 11.2 0a5.6 5.6 0 1 0 -11.2 0M1294.8 1375.4a5.6 5.6 0 1 0 11.2 0a5.6 5.6 0 1 0 -11.2 0M1300.0 1375.4a5.6 5.6 0 1 0 11.2 0a5.6 5.6 0 1 0 -11.2 0M1303.9 1379.3a5.6 5.6 0 1 0 11.2 0a5.6 5.6 0 1 0 -11.2 0M1318.2 1373.6a5.6 5.6 0 1 0 11.2 0a5.6 5.6 0 1 0 -11.2 0M1326.0 1373.3a5.6 5.6 0 1 0 11.2 0a5.6 5.6 0 1 0 -11.2 0M1339.0 1381.9a5.6 5.6 0 1 0 11.2 0a5.6 5.6 0 1 0 -11.2 0M1294.8 1393.6a5.6 5.6 0 1 0 11.2 0a5.6 5.6 0 1 0 -11.2 0M1296.1 1396.2a5.6 5.6 0 1 0 11.2 0a5.6 5.6 0 1 0 -11.2 0M1313.0 1391.0a5.6 5.6 0 1 0 11.2 0a5.6 5.6 0 1 0 -11.2 0M1311.7 1393.6a5.6 5.6 0 1 0 11.2 0a5.6 5.6 0 1 0 -11.2 0M1323.4 1401.4a5.6 5.6 0 1 0 11.2 0a5.6 5.6 0 1 0 -11.2 0M1263.6 1405.8a5.6 5.6 0 1 0 11.2 0a5.6 5.6 0 1 0 -11.2 0M1270.1 1407.9a5.6 5.6 0 1 0 11.2 0a5.6 5.6 0 1 0 -11.2 0M1274.0 1411.8a5.6 5.6 0 1 0 11.2 0a5.6 5.6 0 1 0 -11.2 0M1276.6 1415.7a5.6 5.6 0 1 0 11.2 0a5.6 5.6 0 1 0 -11.2 0M1293.5 1406.6a5.6 5.6 0 1 0 11.2 0a5.6 5.6 0 1 0 -11.2 0M1298.7 1407.9a5.6 5.6 0 1 0 11.2 0a5.6 5.6 0 1 0 -11.2 0M1302.6 1405.3a5.6 5.6 0 1 0 11.2 0a5.6 5.6 0 1 0 -11.2 0M1301.3 1411.8a5.6 5.6 0 1 0 11.2 0a5.6 5.6 0 1 0 -11.2 0M1318.2 1414.4a5.6 5.6 0 1 0 11.2 0a5.6 5.6 0 1 0 -11.2 0M1322.1 1415.7a5.6 5.6 0 1 0 11.2 0a5.6 5.6 0 1 0 -11.2 0M1324.7 1419.6a5.6 5.6 0 1 0 11.2 0a5.6 5.6 0 1 0 -11.2 0M1329.9 1420.9a5.6 5.6 0 1 0 11.2 0a5.6 5.6 0 1 0 -11.2 0M1331.2 1418.3a5.6 5.6 0 1 0 11.2 0a5.6 5.6 0 1 0 -11.2 0M1311.7 1420.9a5.6 5.6 0 1 0 11.2 0a5.6 5.6 0 1 0 -11.2 0M1322.1 1426.1a5.6 5.6 0 1 0 11.2 0a5.6 5.6 0 1 0 -11.2 0M1280.5 1424.8a5.6 5.6 0 1 0 11.2 0a5.6 5.6 0 1 0 -11.2 0M1284.4 1426.1a5.6 5.6 0 1 0 11.2 0a5.6 5.6 0 1 0 -11.2 0M1288.3 1428.7a5.6 5.6 0 1 0 11.2 0a5.6 5.6 0 1 0 -11.2 0M1281.8 1430.0a5.6 5.6 0 1 0 11.2 0a5.6 5.6 0 1 0 -11.2 0M1287.0 1433.9a5.6 5.6 0 1 0 11.2 0a5.6 5.6 0 1 0 -11.2 0M1268.8 1430.0a5.6 5.6 0 1 0 11.2 0a5.6 5.6 0 1 0 -11.2 0M1258.4 1436.5a5.6 5.6 0 1 0 11.2 0a5.6 5.6 0 1 0 -11.2 0M1303.9 1433.9a5.6 5.6 0 1 0 11.2 0a5.6 5.6 0 1 0 -11.2 0M1318.2 1439.6a5.6 5.6 0 1 0 11.2 0a5.6 5.6 0 1 0 -11.2 0M1283.1 1444.3a5.6 5.6 0 1 0 11.2 0a5.6 5.6 0 1 0 -11.2 0M1293.5 1443.0a5.6 5.6 0 1 0 11.2 0a5.6 5.6 0 1 0 -11.2 0M1309.1 1445.6a5.6 5.6 0 1 0 11.2 0a5.6 5.6 0 1 0 -11.2 0M1303.9 1453.4a5.6 5.6 0 1 0 11.2 0a5.6 5.6 0 1 0 -11.2 0M1306.5 1456.0a5.6 5.6 0 1 0 11.2 0a5.6 5.6 0 1 0 -11.2 0M1323.4 1456.0a5.6 5.6 0 1 0 11.2 0a5.6 5.6 0 1 0 -11.2 0M1324.7 1458.6a5.6 5.6 0 1 0 11.2 0a5.6 5.6 0 1 0 -11.2 0M1296.1 1410.5a5.6 5.6 0 1 0 11.2 0a5.6 5.6 0 1 0 -11.2 0M1316.9 1423.5a5.6 5.6 0 1 0 11.2 0a5.6 5.6 0 1 0 -11.2 0M1326.0 1423.5a5.6 5.6 0 1 0 11.2 0a5.6 5.6 0 1 0 -11.2 0M1285.7 1431.3a5.6 5.6 0 1 0 11.2 0a5.6 5.6 0 1 0 -11.2 0M1301.3 1400.1a5.6 5.6 0 1 0 11.2 0a5.6 5.6 0 1 0 -11.2 0M1314.3 1389.7a5.6 5.6 0 1 0 11.2 0a5.6 5.6 0 1 0 -11.2 0" fill="none" stroke="#48fb18" stroke-width="2.70"/>
<line x1="1142.50" y1="1463.80" x2="1347.20" y2="1378.00" stroke="#000" stroke-width="2.20"/>
<text x="1095.11" y="1184.20" font-size="23.50" font-weight="normal" textLength="225.50" lengthAdjust="spacingAndGlyphs" fill="#000">r= 0.3697, P= 0.0002</text>
<text x="1159.28" y="1552.20" font-size="22.50" font-weight="bold" textLength="122.34" lengthAdjust="spacingAndGlyphs" fill="#000">PACC score</text>
<line x1="423.20" y1="1683.70" x2="423.20" y2="1944.70" stroke="#000" stroke-width="5.40"/>
<line x1="414.60" y1="1942.00" x2="663.00" y2="1942.00" stroke="#000" stroke-width="5.40"/>
<line x1="423.20" y1="1942.00" x2="423.20" y2="1951.50" stroke="#000" stroke-width="5.00"/>
<text x="415.14" y="1974.80" font-size="21.00" font-weight="bold" textLength="16.06" lengthAdjust="spacingAndGlyphs">-3</text>
<line x1="470.74" y1="1942.00" x2="470.74" y2="1951.50" stroke="#000" stroke-width="5.00"/>
<text x="462.72" y="1974.80" font-size="21.00" font-weight="bold" textLength="16.06" lengthAdjust="spacingAndGlyphs">-2</text>
<line x1="518.28" y1="1942.00" x2="518.28" y2="1951.50" stroke="#000" stroke-width="5.00"/>
<text x="510.15" y="1974.80" font-size="21.00" font-weight="bold" textLength="16.06" lengthAdjust="spacingAndGlyphs">-1</text>
<line x1="565.82" y1="1942.00" x2="565.82" y2="1951.50" stroke="#000" stroke-width="5.00"/>
<text x="560.81" y="1974.80" font-size="21.00" font-weight="bold" textLength="10.04" lengthAdjust="spacingAndGlyphs">0</text>
<line x1="613.36" y1="1942.00" x2="613.36" y2="1951.50" stroke="#000" stroke-width="5.00"/>
<text x="608.02" y="1974.80" font-size="21.00" font-weight="bold" textLength="10.04" lengthAdjust="spacingAndGlyphs">1</text>
<line x1="660.90" y1="1942.00" x2="660.90" y2="1951.50" stroke="#000" stroke-width="5.00"/>
<text x="655.93" y="1974.80" font-size="21.00" font-weight="bold" textLength="10.04" lengthAdjust="spacingAndGlyphs">2</text>
<line x1="414.70" y1="1942.00" x2="423.20" y2="1942.00" stroke="#000" stroke-width="5.00"/>
<text x="402.40" y="1949.52" font-size="21.00" font-weight="bold" textLength="10.04" lengthAdjust="spacingAndGlyphs">0</text>
<line x1="414.70" y1="1877.95" x2="423.20" y2="1877.95" stroke="#000" stroke-width="5.00"/>
<text x="382.31" y="1885.47" font-size="21.00" font-weight="bold" textLength="30.13" lengthAdjust="spacingAndGlyphs">200</text>
<line x1="414.70" y1="1813.90" x2="423.20" y2="1813.90" stroke="#000" stroke-width="5.00"/>
<text x="382.31" y="1821.42" font-size="21.00" font-weight="bold" textLength="30.13" lengthAdjust="spacingAndGlyphs">400</text>
<line x1="414.70" y1="1749.85" x2="423.20" y2="1749.85" stroke="#000" stroke-width="5.00"/>
<text x="382.31" y="1757.37" font-size="21.00" font-weight="bold" textLength="30.13" lengthAdjust="spacingAndGlyphs">600</text>
<line x1="414.70" y1="1685.80" x2="423.20" y2="1685.80" stroke="#000" stroke-width="5.00"/>
<text x="382.31" y="1693.32" font-size="21.00" font-weight="bold" textLength="30.13" lengthAdjust="spacingAndGlyphs">800</text>
<path d="M490.2 1793.2a5.6 5.6 0 1 0 11.2 0a5.6 5.6 0 1 0 -11.2 0M515.6 1801.6a5.6 5.6 0 1 0 11.2 0a5.6 5.6 0 1 0 -11.2 0M496.1 1843.2a5.6 5.6 0 1 0 11.2 0a5.6 5.6 0 1 0 -11.2 0M572.3 1843.2a5.6 5.6 0 1 0 11.2 0a5.6 5.6 0 1 0 -11.2 0M502.1 1875.2a5.6 5.6 0 1 0 11.2 0a5.6 5.6 0 1 0 -11.2 0M562.5 1872.6a5.6 5.6 0 1 0 11.2 0a5.6 5.6 0 1 0 -11.2 0M463.6 1893.9a5.6 5.6 0 1 0 11.2 0a5.6 5.6 0 1 0 -11.2 0M481.1 1892.6a5.6 5.6 0 1 0 11.2 0a5.6 5.6 0 1 0 -11.2 0M490.2 1899.1a5.6 5.6 0 1 0 11.2 0a5.6 5.6 0 1 0 -11.2 0M471.4 1915.2a5.6 5.6 0 1 0 11.2 0a5.6 5.6 0 1 0 -11.2 0M508.4 1917.8a5.6 5.6 0 1 0 11.2 0a5.6 5.6 0 1 0 -11.2 0M526.1 1913.4a5.6 5.6 0 1 0 11.2 0a5.6 5.6 0 1 0 -11.2 0M537.8 1914.7a5.6 5.6 0 1 0 11.2 0a5.6 5.6 0 1 0 -11.2 0M558.6 1915.5a5.6 5.6 0 1 0 11.2 0a5.6 5.6 0 1 0 -11.2 0M574.2 1890.0a5.6 5.6 0 1 0 11.2 0a5.6 5.6 0 1 0 -11.2 0M532.6 1890.0a5.6 5.6 0 1 0 11.2 0a5.6 5.6 0 1 0 -11.2 0" fill="none" stroke="#ef7dae" stroke-width="2.70"/>
<path d="M577.5 1850.2a5.6 5.6 0 1 0 11.2 0a5.6 5.6 0 1 0 -11.2 0M579.4 1853.6a5.6 5.6 0 1 0 11.2 0a5.6 5.6 0 1 0 -11.2 0M482.6 1861.9a5.6 5.6 0 1 0 11.2 0a5.6 5.6 0 1 0 -11.2 0M484.4 1883.5a5.6 5.6 0 1 0 11.2 0a5.6 5.6 0 1 0 -11.2 0M556.7 1867.9a5.6 5.6 0 1 0 11.2 0a5.6 5.6 0 1 0 -11.2 0M546.9 1873.1a5.6 5.6 0 1 0 11.2 0a5.6 5.6 0 1 0 -11.2 0M522.2 1886.1a5.6 5.6 0 1 0 11.2 0a5.6 5.6 0 1 0 -11.2 0M545.6 1888.7a5.6 5.6 0 1 0 11.2 0a5.6 5.6 0 1 0 -11.2 0M509.1 1896.5a5.6 5.6 0 1 0 11.2 0a5.6 5.6 0 1 0 -11.2 0M513.0 1893.9a5.6 5.6 0 1 0 11.2 0a5.6 5.6 0 1 0 -11.2 0M519.0 1900.4a5.6 5.6 0 1 0 11.2 0a5.6 5.6 0 1 0 -11.2 0M522.2 1904.3a5.6 5.6 0 1 0 11.2 0a5.6 5.6 0 1 0 -11.2 0M533.9 1902.2a5.6 5.6 0 1 0 11.2 0a5.6 5.6 0 1 0 -11.2 0M540.4 1896.5a5.6 5.6 0 1 0 11.2 0a5.6 5.6 0 1 0 -11.2 0M548.2 1899.1a5.6 5.6 0 1 0 11.2 0a5.6 5.6 0 1 0 -11.2 0M559.9 1900.4a5.6 5.6 0 1 0 11.2 0a5.6 5.6 0 1 0 -11.2 0M558.6 1891.3a5.6 5.6 0 1 0 11.2 0a5.6 5.6 0 1 0 -11.2 0M519.5 1909.0a5.6 5.6 0 1 0 11.2 0a5.6 5.6 0 1 0 -11.2 0M533.9 1923.8a5.6 5.6 0 1 0 11.2 0a5.6 5.6 0 1 0 -11.2 0" fill="none" stroke="#381ef2" stroke-width="2.70"/>
<path d="M582.5 1712.6a5.6 5.6 0 1 0 11.2 0a5.6 5.6 0 1 0 -11.2 0M581.4 1721.2a5.6 5.6 0 1 0 11.2 0a5.6 5.6 0 1 0 -11.2 0M628.8 1738.4a5.6 5.6 0 1 0 11.2 0a5.6 5.6 0 1 0 -11.2 0M565.1 1748.8a5.6 5.6 0 1 0 11.2 0a5.6 5.6 0 1 0 -11.2 0M559.3 1755.3a5.6 5.6 0 1 0 11.2 0a5.6 5.6 0 1 0 -11.2 0M571.6 1770.4a5.6 5.6 0 1 0 11.2 0a5.6 5.6 0 1 0 -11.2 0M584.6 1786.7a5.6 5.6 0 1 0 11.2 0a5.6 5.6 0 1 0 -11.2 0M600.2 1783.6a5.6 5.6 0 1 0 11.2 0a5.6 5.6 0 1 0 -11.2 0M548.2 1792.5a5.6 5.6 0 1 0 11.2 0a5.6 5.6 0 1 0 -11.2 0M558.6 1801.6a5.6 5.6 0 1 0 11.2 0a5.6 5.6 0 1 0 -11.2 0M598.9 1795.1a5.6 5.6 0 1 0 11.2 0a5.6 5.6 0 1 0 -11.2 0M587.2 1799.0a5.6 5.6 0 1 0 11.2 0a5.6 5.6 0 1 0 -11.2 0M517.5 1813.8a5.6 5.6 0 1 0 11.2 0a5.6 5.6 0 1 0 -11.2 0M584.6 1811.4a5.6 5.6 0 1 0 11.2 0a5.6 5.6 0 1 0 -11.2 0M583.3 1818.5a5.6 5.6 0 1 0 11.2 0a5.6 5.6 0 1 0 -11.2 0M518.2 1827.6a5.6 5.6 0 1 0 11.2 0a5.6 5.6 0 1 0 -11.2 0M537.8 1830.7a5.6 5.6 0 1 0 11.2 0a5.6 5.6 0 1 0 -11.2 0M546.3 1832.8a5.6 5.6 0 1 0 11.2 0a5.6 5.6 0 1 0 -11.2 0M533.9 1837.5a5.6 5.6 0 1 0 11.2 0a5.6 5.6 0 1 0 -11.2 0M564.5 1832.8a5.6 5.6 0 1 0 11.2 0a5.6 5.6 0 1 0 -11.2 0M574.9 1832.2a5.6 5.6 0 1 0 11.2 0a5.6 5.6 0 1 0 -11.2 0M624.9 1830.7a5.6 5.6 0 1 0 11.2 0a5.6 5.6 0 1 0 -11.2 0M614.5 1838.8a5.6 5.6 0 1 0 11.2 0a5.6 5.6 0 1 0 -11.2 0M541.7 1845.8a5.6 5.6 0 1 0 11.2 0a5.6 5.6 0 1 0 -11.2 0M540.4 1851.8a5.6 5.6 0 1 0 11.2 0a5.6 5.6 0 1 0 -11.2 0M510.4 1854.4a5.6 5.6 0 1 0 11.2 0a5.6 5.6 0 1 0 -11.2 0M504.7 1863.2a5.6 5.6 0 1 0 11.2 0a5.6 5.6 0 1 0 -11.2 0M548.9 1860.9a5.6 5.6 0 1 0 11.2 0a5.6 5.6 0 1 0 -11.2 0M551.5 1864.0a5.6 5.6 0 1 0 11.2 0a5.6 5.6 0 1 0 -11.2 0M589.8 1851.0a5.6 5.6 0 1 0 11.2 0a5.6 5.6 0 1 0 -11.2 0M598.9 1848.4a5.6 5.6 0 1 0 11.2 0a5.6 5.6 0 1 0 -11.2 0M607.2 1851.0a5.6 5.6 0 1 0 11.2 0a5.6 5.6 0 1 0 -11.2 0M570.3 1859.6a5.6 5.6 0 1 0 11.2 0a5.6 5.6 0 1 0 -11.2 0M578.1 1859.6a5.6 5.6 0 1 0 11.2 0a5.6 5.6 0 1 0 -11.2 0M584.6 1858.8a5.6 5.6 0 1 0 11.2 0a5.6 5.6 0 1 0 -11.2 0M577.3 1852.3a5.6 5.6 0 1 0 11.2 0a5.6 5.6 0 1 0 -11.2 0M599.4 1861.4a5.6 5.6 0 1 0 11.2 0a5.6 5.6 0 1 0 -11.2 0M598.9 1866.6a5.6 5.6 0 1 0 11.2 0a5.6 5.6 0 1 0 -11.2 0M617.1 1867.9a5.6 5.6 0 1 0 11.2 0a5.6 5.6 0 1 0 -11.2 0M513.6 1874.4a5.6 5.6 0 1 0 11.2 0a5.6 5.6 0 1 0 -11.2 0M501.3 1880.9a5.6 5.6 0 1 0 11.2 0a5.6 5.6 0 1 0 -11.2 0M544.3 1872.6a5.6 5.6 0 1 0 11.2 0a5.6 5.6 0 1 0 -11.2 0M552.1 1875.7a5.6 5.6 0 1 0 11.2 0a5.6 5.6 0 1 0 -11.2 0M593.7 1871.8a5.6 5.6 0 1 0 11.2 0a5.6 5.6 0 1 0 -11.2 0M598.9 1873.1a5.6 5.6 0 1 0 11.2 0a5.6 5.6 0 1 0 -11.2 0M588.5 1879.6a5.6 5.6 0 1 0 11.2 0a5.6 5.6 0 1 0 -11.2 0M587.2 1882.2a5.6 5.6 0 1 0 11.2 0a5.6 5.6 0 1 0 -11.2 0M575.5 1886.1a5.6 5.6 0 1 0 11.2 0a5.6 5.6 0 1 0 -11.2 0M570.3 1879.6a5.6 5.6 0 1 0 11.2 0a5.6 5.6 0 1 0 -11.2 0M566.4 1886.1a5.6 5.6 0 1 0 11.2 0a5.6 5.6 0 1 0 -11.2 0M532.6 1882.7a5.6 5.6 0 1 0 11.2 0a5.6 5.6 0 1 0 -11.2 0M532.6 1886.1a5.6 5.6 0 1 0 11.2 0a5.6 5.6 0 1 0 -11.2 0M549.5 1884.8a5.6 5.6 0 1 0 11.2 0a5.6 5.6 0 1 0 -11.2 0M559.9 1891.3a5.6 5.6 0 1 0 11.2 0a5.6 5.6 0 1 0 -11.2 0M511.7 1891.3a5.6 5.6 0 1 0 11.2 0a5.6 5.6 0 1 0 -11.2 0M513.0 1896.5a5.6 5.6 0 1 0 11.2 0a5.6 5.6 0 1 0 -11.2 0M518.2 1899.6a5.6 5.6 0 1 0 11.2 0a5.6 5.6 0 1 0 -11.2 0M528.7 1903.8a5.6 5.6 0 1 0 11.2 0a5.6 5.6 0 1 0 -11.2 0M536.5 1899.1a5.6 5.6 0 1 0 11.2 0a5.6 5.6 0 1 0 -11.2 0M541.7 1900.4a5.6 5.6 0 1 0 11.2 0a5.6 5.6 0 1 0 -11.2 0M545.6 1901.7a5.6 5.6 0 1 0 11.2 0a5.6 5.6 0 1 0 -11.2 0M545.6 1909.0a5.6 5.6 0 1 0 11.2 0a5.6 5.6 0 1 0 -11.2 0M532.6 1910.8a5.6 5.6 0 1 0 11.2 0a5.6 5.6 0 1 0 -11.2 0M567.7 1911.3a5.6 5.6 0 1 0 11.2 0a5.6 5.6 0 1 0 -11.2 0M587.7 1914.2a5.6 5.6 0 1 0 11.2 0a5.6 5.6 0 1 0 -11.2 0M632.7 1896.5a5.6 5.6 0 1 0 11.2 0a5.6 5.6 0 1 0 -11.2 0M598.9 1870.5a5.6 5.6 0 1 0 11.2 0a5.6 5.6 0 1 0 -11.2 0M552.1 1867.9a5.6 5.6 0 1 0 11.2 0a5.6 5.6 0 1 0 -11.2 0M580.7 1849.7a5.6 5.6 0 1 0 11.2 0a5.6 5.6 0 1 0 -11.2 0" fill="none" stroke="#48fb18" stroke-width="2.70"/>
<line x1="469.20" y1="1899.60" x2="637.80" y2="1828.40" stroke="#000" stroke-width="2.20"/>
<text x="432.74" y="1647.30" font-size="23.50" font-weight="normal" textLength="193.07" lengthAdjust="spacingAndGlyphs" fill="#000">r= 0.4020, P&lt; 0.0001</text>
<text x="456.20" y="2005.70" font-size="22.50" font-weight="bold" textLength="172.91" lengthAdjust="spacingAndGlyphs" fill="#000">Executive function</text>
<line x1="774.60" y1="1683.70" x2="774.60" y2="1948.10" stroke="#000" stroke-width="5.40"/>
<line x1="765.50" y1="1945.40" x2="1048.20" y2="1945.40" stroke="#000" stroke-width="5.40"/>
<line x1="774.60" y1="1945.40" x2="774.60" y2="1954.90" stroke="#000" stroke-width="5.00"/>
<text x="765.23" y="1978.20" font-size="21.00" font-weight="bold" textLength="18.67" lengthAdjust="spacingAndGlyphs">-3</text>
<line x1="828.86" y1="1945.40" x2="828.86" y2="1954.90" stroke="#000" stroke-width="5.00"/>
<text x="819.53" y="1978.20" font-size="21.00" font-weight="bold" textLength="18.67" lengthAdjust="spacingAndGlyphs">-2</text>
<line x1="883.12" y1="1945.40" x2="883.12" y2="1954.90" stroke="#000" stroke-width="5.00"/>
<text x="873.67" y="1978.20" font-size="21.00" font-weight="bold" textLength="18.67" lengthAdjust="spacingAndGlyphs">-1</text>
<line x1="937.38" y1="1945.40" x2="937.38" y2="1954.90" stroke="#000" stroke-width="5.00"/>
<text x="931.56" y="1978.20" font-size="21.00" font-weight="bold" textLength="11.68" lengthAdjust="spacingAndGlyphs">0</text>
<line x1="991.64" y1="1945.40" x2="991.64" y2="1954.90" stroke="#000" stroke-width="5.00"/>
<text x="985.43" y="1978.20" font-size="21.00" font-weight="bold" textLength="11.68" lengthAdjust="spacingAndGlyphs">1</text>
<line x1="1045.90" y1="1945.40" x2="1045.90" y2="1954.90" stroke="#000" stroke-width="5.00"/>
<text x="1040.12" y="1978.20" font-size="21.00" font-weight="bold" textLength="11.68" lengthAdjust="spacingAndGlyphs">2</text>
<line x1="766.10" y1="1945.40" x2="774.60" y2="1945.40" stroke="#000" stroke-width="5.00"/>
<text x="750.48" y="1952.92" font-size="21.00" font-weight="bold" textLength="11.68" lengthAdjust="spacingAndGlyphs">0</text>
<line x1="766.10" y1="1880.70" x2="774.60" y2="1880.70" stroke="#000" stroke-width="5.00"/>
<text x="727.12" y="1888.22" font-size="21.00" font-weight="bold" textLength="35.04" lengthAdjust="spacingAndGlyphs">200</text>
<line x1="766.10" y1="1816.00" x2="774.60" y2="1816.00" stroke="#000" stroke-width="5.00"/>
<text x="727.12" y="1823.52" font-size="21.00" font-weight="bold" textLength="35.04" lengthAdjust="spacingAndGlyphs">400</text>
<line x1="766.10" y1="1751.30" x2="774.60" y2="1751.30" stroke="#000" stroke-width="5.00"/>
<text x="727.12" y="1758.82" font-size="21.00" font-weight="bold" textLength="35.04" lengthAdjust="spacingAndGlyphs">600</text>
<line x1="766.10" y1="1686.60" x2="774.60" y2="1686.60" stroke="#000" stroke-width="5.00"/>
<text x="727.12" y="1694.12" font-size="21.00" font-weight="bold" textLength="35.04" lengthAdjust="spacingAndGlyphs">800</text>
<path d="M843.9 1794.5a5.6 5.6 0 1 0 11.2 0a5.6 5.6 0 1 0 -11.2 0M867.3 1802.9a5.6 5.6 0 1 0 11.2 0a5.6 5.6 0 1 0 -11.2 0M840.0 1845.3a5.6 5.6 0 1 0 11.2 0a5.6 5.6 0 1 0 -11.2 0M952.4 1845.8a5.6 5.6 0 1 0 11.2 0a5.6 5.6 0 1 0 -11.2 0M964.1 1844.5a5.6 5.6 0 1 0 11.2 0a5.6 5.6 0 1 0 -11.2 0M854.8 1879.6a5.6 5.6 0 1 0 11.2 0a5.6 5.6 0 1 0 -11.2 0M879.5 1874.4a5.6 5.6 0 1 0 11.2 0a5.6 5.6 0 1 0 -11.2 0M823.6 1891.3a5.6 5.6 0 1 0 11.2 0a5.6 5.6 0 1 0 -11.2 0M830.1 1888.7a5.6 5.6 0 1 0 11.2 0a5.6 5.6 0 1 0 -11.2 0M833.5 1902.2a5.6 5.6 0 1 0 11.2 0a5.6 5.6 0 1 0 -11.2 0M839.2 1906.4a5.6 5.6 0 1 0 11.2 0a5.6 5.6 0 1 0 -11.2 0M854.8 1918.6a5.6 5.6 0 1 0 11.2 0a5.6 5.6 0 1 0 -11.2 0M875.6 1917.8a5.6 5.6 0 1 0 11.2 0a5.6 5.6 0 1 0 -11.2 0M896.5 1921.2a5.6 5.6 0 1 0 11.2 0a5.6 5.6 0 1 0 -11.2 0M899.6 1916.0a5.6 5.6 0 1 0 11.2 0a5.6 5.6 0 1 0 -11.2 0M916.0 1918.6a5.6 5.6 0 1 0 11.2 0a5.6 5.6 0 1 0 -11.2 0M986.2 1892.6a5.6 5.6 0 1 0 11.2 0a5.6 5.6 0 1 0 -11.2 0M964.1 1882.2a5.6 5.6 0 1 0 11.2 0a5.6 5.6 0 1 0 -11.2 0M884.8 1897.8a5.6 5.6 0 1 0 11.2 0a5.6 5.6 0 1 0 -11.2 0M940.7 1884.8a5.6 5.6 0 1 0 11.2 0a5.6 5.6 0 1 0 -11.2 0" fill="none" stroke="#ef7dae" stroke-width="2.70"/>
<path d="M793.7 1864.8a5.6 5.6 0 1 0 11.2 0a5.6 5.6 0 1 0 -11.2 0M803.6 1886.1a5.6 5.6 0 1 0 11.2 0a5.6 5.6 0 1 0 -11.2 0M878.2 1853.1a5.6 5.6 0 1 0 11.2 0a5.6 5.6 0 1 0 -11.2 0M886.1 1856.2a5.6 5.6 0 1 0 11.2 0a5.6 5.6 0 1 0 -11.2 0M927.7 1870.5a5.6 5.6 0 1 0 11.2 0a5.6 5.6 0 1 0 -11.2 0M934.2 1875.7a5.6 5.6 0 1 0 11.2 0a5.6 5.6 0 1 0 -11.2 0M867.3 1886.1a5.6 5.6 0 1 0 11.2 0a5.6 5.6 0 1 0 -11.2 0M852.2 1899.6a5.6 5.6 0 1 0 11.2 0a5.6 5.6 0 1 0 -11.2 0M880.8 1906.9a5.6 5.6 0 1 0 11.2 0a5.6 5.6 0 1 0 -11.2 0M886.1 1912.1a5.6 5.6 0 1 0 11.2 0a5.6 5.6 0 1 0 -11.2 0M895.2 1896.5a5.6 5.6 0 1 0 11.2 0a5.6 5.6 0 1 0 -11.2 0M905.6 1901.7a5.6 5.6 0 1 0 11.2 0a5.6 5.6 0 1 0 -11.2 0M919.9 1893.9a5.6 5.6 0 1 0 11.2 0a5.6 5.6 0 1 0 -11.2 0M932.9 1888.7a5.6 5.6 0 1 0 11.2 0a5.6 5.6 0 1 0 -11.2 0M945.9 1888.7a5.6 5.6 0 1 0 11.2 0a5.6 5.6 0 1 0 -11.2 0M943.3 1903.0a5.6 5.6 0 1 0 11.2 0a5.6 5.6 0 1 0 -11.2 0M938.1 1906.9a5.6 5.6 0 1 0 11.2 0a5.6 5.6 0 1 0 -11.2 0M923.8 1903.0a5.6 5.6 0 1 0 11.2 0a5.6 5.6 0 1 0 -11.2 0M894.6 1927.7a5.6 5.6 0 1 0 11.2 0a5.6 5.6 0 1 0 -11.2 0" fill="none" stroke="#381ef2" stroke-width="2.70"/>
<path d="M944.6 1713.7a5.6 5.6 0 1 0 11.2 0a5.6 5.6 0 1 0 -11.2 0M984.9 1721.7a5.6 5.6 0 1 0 11.2 0a5.6 5.6 0 1 0 -11.2 0M966.2 1739.4a5.6 5.6 0 1 0 11.2 0a5.6 5.6 0 1 0 -11.2 0M949.8 1749.8a5.6 5.6 0 1 0 11.2 0a5.6 5.6 0 1 0 -11.2 0M911.5 1756.6a5.6 5.6 0 1 0 11.2 0a5.6 5.6 0 1 0 -11.2 0M934.2 1773.5a5.6 5.6 0 1 0 11.2 0a5.6 5.6 0 1 0 -11.2 0M1007.0 1771.7a5.6 5.6 0 1 0 11.2 0a5.6 5.6 0 1 0 -11.2 0M992.7 1785.4a5.6 5.6 0 1 0 11.2 0a5.6 5.6 0 1 0 -11.2 0M916.0 1788.6a5.6 5.6 0 1 0 11.2 0a5.6 5.6 0 1 0 -11.2 0M939.4 1796.9a5.6 5.6 0 1 0 11.2 0a5.6 5.6 0 1 0 -11.2 0M878.8 1794.0a5.6 5.6 0 1 0 11.2 0a5.6 5.6 0 1 0 -11.2 0M902.4 1803.4a5.6 5.6 0 1 0 11.2 0a5.6 5.6 0 1 0 -11.2 0M998.7 1801.0a5.6 5.6 0 1 0 11.2 0a5.6 5.6 0 1 0 -11.2 0M959.4 1815.3a5.6 5.6 0 1 0 11.2 0a5.6 5.6 0 1 0 -11.2 0M977.6 1813.8a5.6 5.6 0 1 0 11.2 0a5.6 5.6 0 1 0 -11.2 0M912.6 1820.3a5.6 5.6 0 1 0 11.2 0a5.6 5.6 0 1 0 -11.2 0M900.4 1829.4a5.6 5.6 0 1 0 11.2 0a5.6 5.6 0 1 0 -11.2 0M895.9 1836.7a5.6 5.6 0 1 0 11.2 0a5.6 5.6 0 1 0 -11.2 0M910.8 1833.6a5.6 5.6 0 1 0 11.2 0a5.6 5.6 0 1 0 -11.2 0M905.6 1839.3a5.6 5.6 0 1 0 11.2 0a5.6 5.6 0 1 0 -11.2 0M876.9 1838.8a5.6 5.6 0 1 0 11.2 0a5.6 5.6 0 1 0 -11.2 0M958.9 1835.4a5.6 5.6 0 1 0 11.2 0a5.6 5.6 0 1 0 -11.2 0M965.4 1835.4a5.6 5.6 0 1 0 11.2 0a5.6 5.6 0 1 0 -11.2 0M970.6 1833.3a5.6 5.6 0 1 0 11.2 0a5.6 5.6 0 1 0 -11.2 0M975.8 1841.9a5.6 5.6 0 1 0 11.2 0a5.6 5.6 0 1 0 -11.2 0M996.6 1835.4a5.6 5.6 0 1 0 11.2 0a5.6 5.6 0 1 0 -11.2 0M909.5 1849.7a5.6 5.6 0 1 0 11.2 0a5.6 5.6 0 1 0 -11.2 0M914.7 1853.6a5.6 5.6 0 1 0 11.2 0a5.6 5.6 0 1 0 -11.2 0M918.6 1853.6a5.6 5.6 0 1 0 11.2 0a5.6 5.6 0 1 0 -11.2 0M892.6 1857.5a5.6 5.6 0 1 0 11.2 0a5.6 5.6 0 1 0 -11.2 0M953.7 1852.3a5.6 5.6 0 1 0 11.2 0a5.6 5.6 0 1 0 -11.2 0M965.4 1856.2a5.6 5.6 0 1 0 11.2 0a5.6 5.6 0 1 0 -11.2 0M971.9 1851.0a5.6 5.6 0 1 0 11.2 0a5.6 5.6 0 1 0 -11.2 0M951.1 1862.7a5.6 5.6 0 1 0 11.2 0a5.6 5.6 0 1 0 -11.2 0M960.2 1861.4a5.6 5.6 0 1 0 11.2 0a5.6 5.6 0 1 0 -11.2 0M964.1 1865.3a5.6 5.6 0 1 0 11.2 0a5.6 5.6 0 1 0 -11.2 0M980.5 1863.2a5.6 5.6 0 1 0 11.2 0a5.6 5.6 0 1 0 -11.2 0M940.7 1865.3a5.6 5.6 0 1 0 11.2 0a5.6 5.6 0 1 0 -11.2 0M932.9 1867.9a5.6 5.6 0 1 0 11.2 0a5.6 5.6 0 1 0 -11.2 0M903.0 1867.9a5.6 5.6 0 1 0 11.2 0a5.6 5.6 0 1 0 -11.2 0M911.3 1873.1a5.6 5.6 0 1 0 11.2 0a5.6 5.6 0 1 0 -11.2 0M918.6 1879.6a5.6 5.6 0 1 0 11.2 0a5.6 5.6 0 1 0 -11.2 0M886.1 1878.8a5.6 5.6 0 1 0 11.2 0a5.6 5.6 0 1 0 -11.2 0M873.0 1883.5a5.6 5.6 0 1 0 11.2 0a5.6 5.6 0 1 0 -11.2 0M839.2 1866.6a5.6 5.6 0 1 0 11.2 0a5.6 5.6 0 1 0 -11.2 0M852.2 1871.0a5.6 5.6 0 1 0 11.2 0a5.6 5.6 0 1 0 -11.2 0M956.3 1873.1a5.6 5.6 0 1 0 11.2 0a5.6 5.6 0 1 0 -11.2 0M951.1 1878.3a5.6 5.6 0 1 0 11.2 0a5.6 5.6 0 1 0 -11.2 0M961.5 1875.7a5.6 5.6 0 1 0 11.2 0a5.6 5.6 0 1 0 -11.2 0M953.7 1883.5a5.6 5.6 0 1 0 11.2 0a5.6 5.6 0 1 0 -11.2 0M962.8 1884.8a5.6 5.6 0 1 0 11.2 0a5.6 5.6 0 1 0 -11.2 0M980.2 1881.4a5.6 5.6 0 1 0 11.2 0a5.6 5.6 0 1 0 -11.2 0M995.3 1888.2a5.6 5.6 0 1 0 11.2 0a5.6 5.6 0 1 0 -11.2 0M901.7 1886.1a5.6 5.6 0 1 0 11.2 0a5.6 5.6 0 1 0 -11.2 0M917.3 1888.7a5.6 5.6 0 1 0 11.2 0a5.6 5.6 0 1 0 -11.2 0M883.5 1890.0a5.6 5.6 0 1 0 11.2 0a5.6 5.6 0 1 0 -11.2 0M875.6 1895.2a5.6 5.6 0 1 0 11.2 0a5.6 5.6 0 1 0 -11.2 0M893.9 1895.2a5.6 5.6 0 1 0 11.2 0a5.6 5.6 0 1 0 -11.2 0M904.3 1895.2a5.6 5.6 0 1 0 11.2 0a5.6 5.6 0 1 0 -11.2 0M948.5 1892.6a5.6 5.6 0 1 0 11.2 0a5.6 5.6 0 1 0 -11.2 0M940.7 1887.4a5.6 5.6 0 1 0 11.2 0a5.6 5.6 0 1 0 -11.2 0M935.5 1899.1a5.6 5.6 0 1 0 11.2 0a5.6 5.6 0 1 0 -11.2 0M863.9 1903.0a5.6 5.6 0 1 0 11.2 0a5.6 5.6 0 1 0 -11.2 0M870.4 1912.1a5.6 5.6 0 1 0 11.2 0a5.6 5.6 0 1 0 -11.2 0M909.5 1903.0a5.6 5.6 0 1 0 11.2 0a5.6 5.6 0 1 0 -11.2 0M925.1 1904.8a5.6 5.6 0 1 0 11.2 0a5.6 5.6 0 1 0 -11.2 0M1020.8 1899.6a5.6 5.6 0 1 0 11.2 0a5.6 5.6 0 1 0 -11.2 0M961.5 1917.3a5.6 5.6 0 1 0 11.2 0a5.6 5.6 0 1 0 -11.2 0M965.4 1914.7a5.6 5.6 0 1 0 11.2 0a5.6 5.6 0 1 0 -11.2 0M958.9 1870.5a5.6 5.6 0 1 0 11.2 0a5.6 5.6 0 1 0 -11.2 0M968.0 1879.6a5.6 5.6 0 1 0 11.2 0a5.6 5.6 0 1 0 -11.2 0M945.9 1883.5a5.6 5.6 0 1 0 11.2 0a5.6 5.6 0 1 0 -11.2 0M938.1 1870.5a5.6 5.6 0 1 0 11.2 0a5.6 5.6 0 1 0 -11.2 0" fill="none" stroke="#48fb18" stroke-width="2.70"/>
<line x1="799.30" y1="1897.80" x2="1026.10" y2="1838.00" stroke="#000" stroke-width="2.20"/>
<text x="780.85" y="1646.80" font-size="23.50" font-weight="normal" textLength="219.73" lengthAdjust="spacingAndGlyphs" fill="#000">r= 0.2910, P= 0.0015</text>
<text x="860.63" y="2011.40" font-size="22.50" font-weight="bold" textLength="100.08" lengthAdjust="spacingAndGlyphs" fill="#000">Attention</text>
<line x1="1136.70" y1="1683.70" x2="1136.70" y2="1952.50" stroke="#000" stroke-width="5.40"/>
<line x1="1128.10" y1="1949.80" x2="1385.10" y2="1949.80" stroke="#000" stroke-width="5.40"/>
<line x1="1136.70" y1="1949.80" x2="1136.70" y2="1959.30" stroke="#000" stroke-width="5.00"/>
<text x="1128.60" y="1982.60" font-size="21.00" font-weight="bold" textLength="16.06" lengthAdjust="spacingAndGlyphs">-8</text>
<line x1="1177.67" y1="1949.80" x2="1177.67" y2="1959.30" stroke="#000" stroke-width="5.00"/>
<text x="1169.61" y="1982.60" font-size="21.00" font-weight="bold" textLength="16.06" lengthAdjust="spacingAndGlyphs">-6</text>
<line x1="1218.63" y1="1949.80" x2="1218.63" y2="1959.30" stroke="#000" stroke-width="5.00"/>
<text x="1210.30" y="1982.60" font-size="21.00" font-weight="bold" textLength="16.06" lengthAdjust="spacingAndGlyphs">-4</text>
<line x1="1259.60" y1="1949.80" x2="1259.60" y2="1959.30" stroke="#000" stroke-width="5.00"/>
<text x="1251.58" y="1982.60" font-size="21.00" font-weight="bold" textLength="16.06" lengthAdjust="spacingAndGlyphs">-2</text>
<line x1="1300.57" y1="1949.80" x2="1300.57" y2="1959.30" stroke="#000" stroke-width="5.00"/>
<text x="1295.56" y="1982.60" font-size="21.00" font-weight="bold" textLength="10.04" lengthAdjust="spacingAndGlyphs">0</text>
<line x1="1341.53" y1="1949.80" x2="1341.53" y2="1959.30" stroke="#000" stroke-width="5.00"/>
<text x="1336.56" y="1982.60" font-size="21.00" font-weight="bold" textLength="10.04" lengthAdjust="spacingAndGlyphs">2</text>
<line x1="1382.50" y1="1949.80" x2="1382.50" y2="1959.30" stroke="#000" stroke-width="5.00"/>
<text x="1377.39" y="1982.60" font-size="21.00" font-weight="bold" textLength="10.04" lengthAdjust="spacingAndGlyphs">4</text>
<line x1="1128.20" y1="1949.80" x2="1136.70" y2="1949.80" stroke="#000" stroke-width="5.00"/>
<text x="1114.10" y="1957.32" font-size="21.00" font-weight="bold" textLength="10.04" lengthAdjust="spacingAndGlyphs">0</text>
<line x1="1128.20" y1="1884.00" x2="1136.70" y2="1884.00" stroke="#000" stroke-width="5.00"/>
<text x="1094.01" y="1891.52" font-size="21.00" font-weight="bold" textLength="30.13" lengthAdjust="spacingAndGlyphs">200</text>
<line x1="1128.20" y1="1818.20" x2="1136.70" y2="1818.20" stroke="#000" stroke-width="5.00"/>
<text x="1094.01" y="1825.72" font-size="21.00" font-weight="bold" textLength="30.13" lengthAdjust="spacingAndGlyphs">400</text>
<line x1="1128.20" y1="1752.40" x2="1136.70" y2="1752.40" stroke="#000" stroke-width="5.00"/>
<text x="1094.01" y="1759.92" font-size="21.00" font-weight="bold" textLength="30.13" lengthAdjust="spacingAndGlyphs">600</text>
<line x1="1128.20" y1="1686.60" x2="1136.70" y2="1686.60" stroke="#000" stroke-width="5.00"/>
<text x="1094.01" y="1694.12" font-size="21.00" font-weight="bold" textLength="30.13" lengthAdjust="spacingAndGlyphs">800</text>
<path d="M1167.0 1848.4a5.6 5.6 0 1 0 11.2 0a5.6 5.6 0 1 0 -11.2 0M1273.4 1805.5a5.6 5.6 0 1 0 11.2 0a5.6 5.6 0 1 0 -11.2 0M1296.3 1849.2a5.6 5.6 0 1 0 11.2 0a5.6 5.6 0 1 0 -11.2 0M1194.8 1879.6a5.6 5.6 0 1 0 11.2 0a5.6 5.6 0 1 0 -11.2 0M1262.5 1882.2a5.6 5.6 0 1 0 11.2 0a5.6 5.6 0 1 0 -11.2 0M1214.3 1900.4a5.6 5.6 0 1 0 11.2 0a5.6 5.6 0 1 0 -11.2 0M1245.6 1905.6a5.6 5.6 0 1 0 11.2 0a5.6 5.6 0 1 0 -11.2 0M1220.8 1922.5a5.6 5.6 0 1 0 11.2 0a5.6 5.6 0 1 0 -11.2 0M1261.2 1921.2a5.6 5.6 0 1 0 11.2 0a5.6 5.6 0 1 0 -11.2 0M1262.5 1916.0a5.6 5.6 0 1 0 11.2 0a5.6 5.6 0 1 0 -11.2 0M1282.0 1925.1a5.6 5.6 0 1 0 11.2 0a5.6 5.6 0 1 0 -11.2 0M1288.5 1923.8a5.6 5.6 0 1 0 11.2 0a5.6 5.6 0 1 0 -11.2 0M1278.1 1891.3a5.6 5.6 0 1 0 11.2 0a5.6 5.6 0 1 0 -11.2 0M1270.3 1895.2a5.6 5.6 0 1 0 11.2 0a5.6 5.6 0 1 0 -11.2 0M1306.7 1896.5a5.6 5.6 0 1 0 11.2 0a5.6 5.6 0 1 0 -11.2 0" fill="none" stroke="#ef7dae" stroke-width="2.70"/>
<path d="M1265.6 1858.8a5.6 5.6 0 1 0 11.2 0a5.6 5.6 0 1 0 -11.2 0M1277.5 1856.7a5.6 5.6 0 1 0 11.2 0a5.6 5.6 0 1 0 -11.2 0M1248.2 1867.4a5.6 5.6 0 1 0 11.2 0a5.6 5.6 0 1 0 -11.2 0M1265.1 1879.6a5.6 5.6 0 1 0 11.2 0a5.6 5.6 0 1 0 -11.2 0M1280.7 1870.5a5.6 5.6 0 1 0 11.2 0a5.6 5.6 0 1 0 -11.2 0M1280.7 1877.0a5.6 5.6 0 1 0 11.2 0a5.6 5.6 0 1 0 -11.2 0M1276.8 1888.7a5.6 5.6 0 1 0 11.2 0a5.6 5.6 0 1 0 -11.2 0M1297.6 1892.6a5.6 5.6 0 1 0 11.2 0a5.6 5.6 0 1 0 -11.2 0M1237.8 1895.2a5.6 5.6 0 1 0 11.2 0a5.6 5.6 0 1 0 -11.2 0M1231.3 1900.4a5.6 5.6 0 1 0 11.2 0a5.6 5.6 0 1 0 -11.2 0M1222.2 1903.0a5.6 5.6 0 1 0 11.2 0a5.6 5.6 0 1 0 -11.2 0M1236.5 1911.6a5.6 5.6 0 1 0 11.2 0a5.6 5.6 0 1 0 -11.2 0M1270.3 1904.3a5.6 5.6 0 1 0 11.2 0a5.6 5.6 0 1 0 -11.2 0M1280.7 1906.9a5.6 5.6 0 1 0 11.2 0a5.6 5.6 0 1 0 -11.2 0M1300.2 1909.5a5.6 5.6 0 1 0 11.2 0a5.6 5.6 0 1 0 -11.2 0M1261.2 1916.0a5.6 5.6 0 1 0 11.2 0a5.6 5.6 0 1 0 -11.2 0M1282.0 1932.4a5.6 5.6 0 1 0 11.2 0a5.6 5.6 0 1 0 -11.2 0" fill="none" stroke="#381ef2" stroke-width="2.70"/>
<path d="M1310.6 1713.7a5.6 5.6 0 1 0 11.2 0a5.6 5.6 0 1 0 -11.2 0M1312.4 1722.2a5.6 5.6 0 1 0 11.2 0a5.6 5.6 0 1 0 -11.2 0M1324.9 1739.9a5.6 5.6 0 1 0 11.2 0a5.6 5.6 0 1 0 -11.2 0M1302.8 1750.3a5.6 5.6 0 1 0 11.2 0a5.6 5.6 0 1 0 -11.2 0M1308.8 1757.3a5.6 5.6 0 1 0 11.2 0a5.6 5.6 0 1 0 -11.2 0M1293.7 1773.0a5.6 5.6 0 1 0 11.2 0a5.6 5.6 0 1 0 -11.2 0M1312.4 1774.8a5.6 5.6 0 1 0 11.2 0a5.6 5.6 0 1 0 -11.2 0M1332.2 1786.7a5.6 5.6 0 1 0 11.2 0a5.6 5.6 0 1 0 -11.2 0M1289.0 1789.9a5.6 5.6 0 1 0 11.2 0a5.6 5.6 0 1 0 -11.2 0M1252.1 1795.6a5.6 5.6 0 1 0 11.2 0a5.6 5.6 0 1 0 -11.2 0M1291.6 1799.0a5.6 5.6 0 1 0 11.2 0a5.6 5.6 0 1 0 -11.2 0M1295.0 1802.9a5.6 5.6 0 1 0 11.2 0a5.6 5.6 0 1 0 -11.2 0M1300.2 1805.5a5.6 5.6 0 1 0 11.2 0a5.6 5.6 0 1 0 -11.2 0M1298.9 1815.9a5.6 5.6 0 1 0 11.2 0a5.6 5.6 0 1 0 -11.2 0M1296.3 1818.5a5.6 5.6 0 1 0 11.2 0a5.6 5.6 0 1 0 -11.2 0M1288.5 1822.4a5.6 5.6 0 1 0 11.2 0a5.6 5.6 0 1 0 -11.2 0M1293.7 1831.5a5.6 5.6 0 1 0 11.2 0a5.6 5.6 0 1 0 -11.2 0M1298.9 1836.7a5.6 5.6 0 1 0 11.2 0a5.6 5.6 0 1 0 -11.2 0M1300.2 1837.2a5.6 5.6 0 1 0 11.2 0a5.6 5.6 0 1 0 -11.2 0M1258.6 1838.8a5.6 5.6 0 1 0 11.2 0a5.6 5.6 0 1 0 -11.2 0M1279.4 1838.0a5.6 5.6 0 1 0 11.2 0a5.6 5.6 0 1 0 -11.2 0M1278.1 1843.2a5.6 5.6 0 1 0 11.2 0a5.6 5.6 0 1 0 -11.2 0M1282.0 1841.9a5.6 5.6 0 1 0 11.2 0a5.6 5.6 0 1 0 -11.2 0M1319.7 1844.0a5.6 5.6 0 1 0 11.2 0a5.6 5.6 0 1 0 -11.2 0M1337.1 1835.9a5.6 5.6 0 1 0 11.2 0a5.6 5.6 0 1 0 -11.2 0M1298.9 1851.0a5.6 5.6 0 1 0 11.2 0a5.6 5.6 0 1 0 -11.2 0M1308.0 1852.3a5.6 5.6 0 1 0 11.2 0a5.6 5.6 0 1 0 -11.2 0M1314.5 1856.2a5.6 5.6 0 1 0 11.2 0a5.6 5.6 0 1 0 -11.2 0M1339.2 1856.2a5.6 5.6 0 1 0 11.2 0a5.6 5.6 0 1 0 -11.2 0M1280.7 1856.2a5.6 5.6 0 1 0 11.2 0a5.6 5.6 0 1 0 -11.2 0M1298.9 1856.2a5.6 5.6 0 1 0 11.2 0a5.6 5.6 0 1 0 -11.2 0M1304.1 1860.1a5.6 5.6 0 1 0 11.2 0a5.6 5.6 0 1 0 -11.2 0M1310.6 1862.7a5.6 5.6 0 1 0 11.2 0a5.6 5.6 0 1 0 -11.2 0M1317.1 1865.3a5.6 5.6 0 1 0 11.2 0a5.6 5.6 0 1 0 -11.2 0M1282.0 1865.3a5.6 5.6 0 1 0 11.2 0a5.6 5.6 0 1 0 -11.2 0M1283.3 1870.5a5.6 5.6 0 1 0 11.2 0a5.6 5.6 0 1 0 -11.2 0M1291.1 1873.1a5.6 5.6 0 1 0 11.2 0a5.6 5.6 0 1 0 -11.2 0M1296.3 1873.1a5.6 5.6 0 1 0 11.2 0a5.6 5.6 0 1 0 -11.2 0M1301.5 1870.5a5.6 5.6 0 1 0 11.2 0a5.6 5.6 0 1 0 -11.2 0M1306.7 1869.2a5.6 5.6 0 1 0 11.2 0a5.6 5.6 0 1 0 -11.2 0M1311.9 1870.5a5.6 5.6 0 1 0 11.2 0a5.6 5.6 0 1 0 -11.2 0M1315.8 1873.1a5.6 5.6 0 1 0 11.2 0a5.6 5.6 0 1 0 -11.2 0M1319.7 1870.5a5.6 5.6 0 1 0 11.2 0a5.6 5.6 0 1 0 -11.2 0M1288.5 1878.3a5.6 5.6 0 1 0 11.2 0a5.6 5.6 0 1 0 -11.2 0M1293.7 1879.6a5.6 5.6 0 1 0 11.2 0a5.6 5.6 0 1 0 -11.2 0M1301.5 1879.6a5.6 5.6 0 1 0 11.2 0a5.6 5.6 0 1 0 -11.2 0M1308.0 1880.9a5.6 5.6 0 1 0 11.2 0a5.6 5.6 0 1 0 -11.2 0M1314.5 1882.2a5.6 5.6 0 1 0 11.2 0a5.6 5.6 0 1 0 -11.2 0M1323.6 1880.1a5.6 5.6 0 1 0 11.2 0a5.6 5.6 0 1 0 -11.2 0M1309.3 1886.1a5.6 5.6 0 1 0 11.2 0a5.6 5.6 0 1 0 -11.2 0M1304.1 1888.7a5.6 5.6 0 1 0 11.2 0a5.6 5.6 0 1 0 -11.2 0M1269.0 1886.1a5.6 5.6 0 1 0 11.2 0a5.6 5.6 0 1 0 -11.2 0M1275.5 1891.3a5.6 5.6 0 1 0 11.2 0a5.6 5.6 0 1 0 -11.2 0M1282.0 1891.3a5.6 5.6 0 1 0 11.2 0a5.6 5.6 0 1 0 -11.2 0M1288.5 1895.2a5.6 5.6 0 1 0 11.2 0a5.6 5.6 0 1 0 -11.2 0M1293.7 1896.5a5.6 5.6 0 1 0 11.2 0a5.6 5.6 0 1 0 -11.2 0M1280.7 1901.7a5.6 5.6 0 1 0 11.2 0a5.6 5.6 0 1 0 -11.2 0M1266.4 1899.1a5.6 5.6 0 1 0 11.2 0a5.6 5.6 0 1 0 -11.2 0M1269.0 1908.2a5.6 5.6 0 1 0 11.2 0a5.6 5.6 0 1 0 -11.2 0M1274.2 1904.3a5.6 5.6 0 1 0 11.2 0a5.6 5.6 0 1 0 -11.2 0M1288.5 1904.3a5.6 5.6 0 1 0 11.2 0a5.6 5.6 0 1 0 -11.2 0M1297.6 1908.2a5.6 5.6 0 1 0 11.2 0a5.6 5.6 0 1 0 -11.2 0M1317.1 1896.5a5.6 5.6 0 1 0 11.2 0a5.6 5.6 0 1 0 -11.2 0M1318.4 1901.7a5.6 5.6 0 1 0 11.2 0a5.6 5.6 0 1 0 -11.2 0M1322.3 1909.5a5.6 5.6 0 1 0 11.2 0a5.6 5.6 0 1 0 -11.2 0M1283.3 1918.6a5.6 5.6 0 1 0 11.2 0a5.6 5.6 0 1 0 -11.2 0M1289.8 1917.3a5.6 5.6 0 1 0 11.2 0a5.6 5.6 0 1 0 -11.2 0M1308.0 1921.7a5.6 5.6 0 1 0 11.2 0a5.6 5.6 0 1 0 -11.2 0M1314.5 1918.6a5.6 5.6 0 1 0 11.2 0a5.6 5.6 0 1 0 -11.2 0M1304.1 1875.7a5.6 5.6 0 1 0 11.2 0a5.6 5.6 0 1 0 -11.2 0M1296.3 1862.7a5.6 5.6 0 1 0 11.2 0a5.6 5.6 0 1 0 -11.2 0M1311.9 1878.3a5.6 5.6 0 1 0 11.2 0a5.6 5.6 0 1 0 -11.2 0" fill="none" stroke="#48fb18" stroke-width="2.70"/>
<line x1="1173.10" y1="1919.90" x2="1343.50" y2="1845.80" stroke="#000" stroke-width="2.20"/>
<text x="1149.59" y="1649.40" font-size="23.50" font-weight="normal" textLength="199.31" lengthAdjust="spacingAndGlyphs" fill="#000">r= 0.3063, P= 0.0009</text>
<text x="1214.02" y="2016.10" font-size="22.50" font-weight="bold" textLength="90.33" lengthAdjust="spacingAndGlyphs" fill="#000">Language</text>
<line x1="99.20" y1="196.40" x2="99.20" y2="460.20" stroke="#000" stroke-width="5.40"/>
<line x1="86.50" y1="457.50" x2="283.20" y2="457.50" stroke="#000" stroke-width="5.40"/>
<line x1="135.40" y1="457.50" x2="135.40" y2="467.00" stroke="#000" stroke-width="5.00"/>
<line x1="189.50" y1="457.50" x2="189.50" y2="467.00" stroke="#000" stroke-width="5.00"/>
<line x1="244.10" y1="457.50" x2="244.10" y2="467.00" stroke="#000" stroke-width="5.00"/>
<line x1="86.70" y1="457.50" x2="99.20" y2="457.50" stroke="#000" stroke-width="5.00"/>
<text x="71.88" y="465.02" font-size="21.00" font-weight="bold" textLength="11.68" lengthAdjust="spacingAndGlyphs">0</text>
<line x1="86.70" y1="405.74" x2="99.20" y2="405.74" stroke="#000" stroke-width="5.00"/>
<text x="71.61" y="413.26" font-size="21.00" font-weight="bold" textLength="11.68" lengthAdjust="spacingAndGlyphs">1</text>
<line x1="86.70" y1="353.98" x2="99.20" y2="353.98" stroke="#000" stroke-width="5.00"/>
<text x="71.86" y="361.50" font-size="21.00" font-weight="bold" textLength="11.68" lengthAdjust="spacingAndGlyphs">2</text>
<line x1="86.70" y1="302.22" x2="99.20" y2="302.22" stroke="#000" stroke-width="5.00"/>
<text x="71.78" y="309.74" font-size="21.00" font-weight="bold" textLength="11.68" lengthAdjust="spacingAndGlyphs">3</text>
<line x1="86.70" y1="250.46" x2="99.20" y2="250.46" stroke="#000" stroke-width="5.00"/>
<text x="71.13" y="257.98" font-size="21.00" font-weight="bold" textLength="11.68" lengthAdjust="spacingAndGlyphs">4</text>
<line x1="86.70" y1="198.70" x2="99.20" y2="198.70" stroke="#000" stroke-width="5.00"/>
<text x="71.61" y="206.22" font-size="21.00" font-weight="bold" textLength="11.68" lengthAdjust="spacingAndGlyphs">5</text>
<line x1="117.10" y1="391.00" x2="153.70" y2="391.00" stroke="#000" stroke-width="3.00"/>
<line x1="126.40" y1="335.60" x2="144.40" y2="335.60" stroke="#000" stroke-width="1.80"/>
<line x1="135.40" y1="335.60" x2="135.40" y2="446.40" stroke="#000" stroke-width="1.50"/>
<line x1="171.50" y1="419.50" x2="207.50" y2="419.50" stroke="#000" stroke-width="3.00"/>
<line x1="180.50" y1="386.80" x2="198.50" y2="386.80" stroke="#000" stroke-width="1.80"/>
<line x1="189.50" y1="386.80" x2="189.50" y2="452.20" stroke="#000" stroke-width="1.50"/>
<line x1="226.10" y1="427.80" x2="262.10" y2="427.80" stroke="#000" stroke-width="3.00"/>
<line x1="235.10" y1="396.40" x2="253.10" y2="396.40" stroke="#000" stroke-width="1.80"/>
<line x1="244.10" y1="396.40" x2="244.10" y2="457.00" stroke="#000" stroke-width="1.50"/>
<path d="M129.8 456.6a5.6 5.6 0 1 0 11.2 0a5.6 5.6 0 1 0 -11.2 0M133.8 454.7a5.6 5.6 0 1 0 11.2 0a5.6 5.6 0 1 0 -11.2 0M126.3 454.1a5.6 5.6 0 1 0 11.2 0a5.6 5.6 0 1 0 -11.2 0M129.8 449.7a5.6 5.6 0 1 0 11.2 0a5.6 5.6 0 1 0 -11.2 0M133.8 447.5a5.6 5.6 0 1 0 11.2 0a5.6 5.6 0 1 0 -11.2 0M126.8 446.2a5.6 5.6 0 1 0 11.2 0a5.6 5.6 0 1 0 -11.2 0M130.8 444.4a5.6 5.6 0 1 0 11.2 0a5.6 5.6 0 1 0 -11.2 0M125.8 442.0a5.6 5.6 0 1 0 11.2 0a5.6 5.6 0 1 0 -11.2 0M133.8 441.1a5.6 5.6 0 1 0 11.2 0a5.6 5.6 0 1 0 -11.2 0M129.8 439.0a5.6 5.6 0 1 0 11.2 0a5.6 5.6 0 1 0 -11.2 0M125.8 437.1a5.6 5.6 0 1 0 11.2 0a5.6 5.6 0 1 0 -11.2 0M132.3 435.4a5.6 5.6 0 1 0 11.2 0a5.6 5.6 0 1 0 -11.2 0M136.8 434.5a5.6 5.6 0 1 0 11.2 0a5.6 5.6 0 1 0 -11.2 0M122.3 434.2a5.6 5.6 0 1 0 11.2 0a5.6 5.6 0 1 0 -11.2 0M128.3 433.1a5.6 5.6 0 1 0 11.2 0a5.6 5.6 0 1 0 -11.2 0M132.3 430.6a5.6 5.6 0 1 0 11.2 0a5.6 5.6 0 1 0 -11.2 0M125.3 429.7a5.6 5.6 0 1 0 11.2 0a5.6 5.6 0 1 0 -11.2 0M136.8 429.3a5.6 5.6 0 1 0 11.2 0a5.6 5.6 0 1 0 -11.2 0M120.8 428.2a5.6 5.6 0 1 0 11.2 0a5.6 5.6 0 1 0 -11.2 0M141.3 428.0a5.6 5.6 0 1 0 11.2 0a5.6 5.6 0 1 0 -11.2 0M129.8 423.2a5.6 5.6 0 1 0 11.2 0a5.6 5.6 0 1 0 -11.2 0M134.3 422.3a5.6 5.6 0 1 0 11.2 0a5.6 5.6 0 1 0 -11.2 0M125.8 421.1a5.6 5.6 0 1 0 11.2 0a5.6 5.6 0 1 0 -11.2 0M121.3 421.1a5.6 5.6 0 1 0 11.2 0a5.6 5.6 0 1 0 -11.2 0M137.8 419.3a5.6 5.6 0 1 0 11.2 0a5.6 5.6 0 1 0 -11.2 0M129.8 415.8a5.6 5.6 0 1 0 11.2 0a5.6 5.6 0 1 0 -11.2 0M133.8 413.9a5.6 5.6 0 1 0 11.2 0a5.6 5.6 0 1 0 -11.2 0M127.8 411.8a5.6 5.6 0 1 0 11.2 0a5.6 5.6 0 1 0 -11.2 0M131.8 410.0a5.6 5.6 0 1 0 11.2 0a5.6 5.6 0 1 0 -11.2 0M124.8 408.4a5.6 5.6 0 1 0 11.2 0a5.6 5.6 0 1 0 -11.2 0M135.8 408.4a5.6 5.6 0 1 0 11.2 0a5.6 5.6 0 1 0 -11.2 0M120.3 408.1a5.6 5.6 0 1 0 11.2 0a5.6 5.6 0 1 0 -11.2 0M140.3 407.9a5.6 5.6 0 1 0 11.2 0a5.6 5.6 0 1 0 -11.2 0M115.8 407.6a5.6 5.6 0 1 0 11.2 0a5.6 5.6 0 1 0 -11.2 0M129.8 405.9a5.6 5.6 0 1 0 11.2 0a5.6 5.6 0 1 0 -11.2 0M143.8 405.2a5.6 5.6 0 1 0 11.2 0a5.6 5.6 0 1 0 -11.2 0M132.8 402.6a5.6 5.6 0 1 0 11.2 0a5.6 5.6 0 1 0 -11.2 0M127.3 402.3a5.6 5.6 0 1 0 11.2 0a5.6 5.6 0 1 0 -11.2 0M122.8 401.9a5.6 5.6 0 1 0 11.2 0a5.6 5.6 0 1 0 -11.2 0M137.3 401.6a5.6 5.6 0 1 0 11.2 0a5.6 5.6 0 1 0 -11.2 0M118.3 401.5a5.6 5.6 0 1 0 11.2 0a5.6 5.6 0 1 0 -11.2 0M141.8 400.0a5.6 5.6 0 1 0 11.2 0a5.6 5.6 0 1 0 -11.2 0M129.8 397.4a5.6 5.6 0 1 0 11.2 0a5.6 5.6 0 1 0 -11.2 0M133.3 394.7a5.6 5.6 0 1 0 11.2 0a5.6 5.6 0 1 0 -11.2 0M126.8 394.0a5.6 5.6 0 1 0 11.2 0a5.6 5.6 0 1 0 -11.2 0M122.3 393.9a5.6 5.6 0 1 0 11.2 0a5.6 5.6 0 1 0 -11.2 0M137.3 392.9a5.6 5.6 0 1 0 11.2 0a5.6 5.6 0 1 0 -11.2 0M141.8 392.5a5.6 5.6 0 1 0 11.2 0a5.6 5.6 0 1 0 -11.2 0M129.8 390.7a5.6 5.6 0 1 0 11.2 0a5.6 5.6 0 1 0 -11.2 0M132.8 387.4a5.6 5.6 0 1 0 11.2 0a5.6 5.6 0 1 0 -11.2 0M128.3 386.3a5.6 5.6 0 1 0 11.2 0a5.6 5.6 0 1 0 -11.2 0M123.8 385.8a5.6 5.6 0 1 0 11.2 0a5.6 5.6 0 1 0 -11.2 0M136.8 385.6a5.6 5.6 0 1 0 11.2 0a5.6 5.6 0 1 0 -11.2 0M119.3 385.2a5.6 5.6 0 1 0 11.2 0a5.6 5.6 0 1 0 -11.2 0M141.3 384.6a5.6 5.6 0 1 0 11.2 0a5.6 5.6 0 1 0 -11.2 0M131.3 383.1a5.6 5.6 0 1 0 11.2 0a5.6 5.6 0 1 0 -11.2 0M115.3 382.8a5.6 5.6 0 1 0 11.2 0a5.6 5.6 0 1 0 -11.2 0M127.8 380.4a5.6 5.6 0 1 0 11.2 0a5.6 5.6 0 1 0 -11.2 0M134.8 380.1a5.6 5.6 0 1 0 11.2 0a5.6 5.6 0 1 0 -11.2 0M129.8 374.0a5.6 5.6 0 1 0 11.2 0a5.6 5.6 0 1 0 -11.2 0M134.3 373.8a5.6 5.6 0 1 0 11.2 0a5.6 5.6 0 1 0 -11.2 0M125.3 373.3a5.6 5.6 0 1 0 11.2 0a5.6 5.6 0 1 0 -11.2 0M138.8 372.6a5.6 5.6 0 1 0 11.2 0a5.6 5.6 0 1 0 -11.2 0M121.8 370.4a5.6 5.6 0 1 0 11.2 0a5.6 5.6 0 1 0 -11.2 0M129.8 367.9a5.6 5.6 0 1 0 11.2 0a5.6 5.6 0 1 0 -11.2 0M134.3 367.3a5.6 5.6 0 1 0 11.2 0a5.6 5.6 0 1 0 -11.2 0M126.3 364.9a5.6 5.6 0 1 0 11.2 0a5.6 5.6 0 1 0 -11.2 0M129.8 360.2a5.6 5.6 0 1 0 11.2 0a5.6 5.6 0 1 0 -11.2 0M129.8 343.1a5.6 5.6 0 1 0 11.2 0a5.6 5.6 0 1 0 -11.2 0M132.8 340.0a5.6 5.6 0 1 0 11.2 0a5.6 5.6 0 1 0 -11.2 0M129.8 334.5a5.6 5.6 0 1 0 11.2 0a5.6 5.6 0 1 0 -11.2 0M133.8 332.2a5.6 5.6 0 1 0 11.2 0a5.6 5.6 0 1 0 -11.2 0M129.8 327.5a5.6 5.6 0 1 0 11.2 0a5.6 5.6 0 1 0 -11.2 0M133.8 325.1a5.6 5.6 0 1 0 11.2 0a5.6 5.6 0 1 0 -11.2 0M127.8 323.6a5.6 5.6 0 1 0 11.2 0a5.6 5.6 0 1 0 -11.2 0M129.8 288.5a5.6 5.6 0 1 0 11.2 0a5.6 5.6 0 1 0 -11.2 0M129.8 269.0a5.6 5.6 0 1 0 11.2 0a5.6 5.6 0 1 0 -11.2 0M133.8 266.6a5.6 5.6 0 1 0 11.2 0a5.6 5.6 0 1 0 -11.2 0M129.8 264.3a5.6 5.6 0 1 0 11.2 0a5.6 5.6 0 1 0 -11.2 0M129.8 234.6a5.6 5.6 0 1 0 11.2 0a5.6 5.6 0 1 0 -11.2 0M133.8 232.3a5.6 5.6 0 1 0 11.2 0a5.6 5.6 0 1 0 -11.2 0M127.8 230.7a5.6 5.6 0 1 0 11.2 0a5.6 5.6 0 1 0 -11.2 0M130.8 227.6a5.6 5.6 0 1 0 11.2 0a5.6 5.6 0 1 0 -11.2 0M129.8 218.2a5.6 5.6 0 1 0 11.2 0a5.6 5.6 0 1 0 -11.2 0" fill="none" stroke="#48fb18" stroke-width="2.70"/>
<path d="M183.9 327.5a5.6 5.6 0 1 0 11.2 0a5.6 5.6 0 1 0 -11.2 0M184.7 333.7a5.6 5.6 0 1 0 11.2 0a5.6 5.6 0 1 0 -11.2 0M183.9 350.9a5.6 5.6 0 1 0 11.2 0a5.6 5.6 0 1 0 -11.2 0M179.2 381.3a5.6 5.6 0 1 0 11.2 0a5.6 5.6 0 1 0 -11.2 0M181.6 381.3a5.6 5.6 0 1 0 11.2 0a5.6 5.6 0 1 0 -11.2 0M184.7 381.3a5.6 5.6 0 1 0 11.2 0a5.6 5.6 0 1 0 -11.2 0M187.8 381.3a5.6 5.6 0 1 0 11.2 0a5.6 5.6 0 1 0 -11.2 0M190.2 381.3a5.6 5.6 0 1 0 11.2 0a5.6 5.6 0 1 0 -11.2 0M184.7 386.8a5.6 5.6 0 1 0 11.2 0a5.6 5.6 0 1 0 -11.2 0M182.4 392.2a5.6 5.6 0 1 0 11.2 0a5.6 5.6 0 1 0 -11.2 0M186.3 393.0a5.6 5.6 0 1 0 11.2 0a5.6 5.6 0 1 0 -11.2 0M183.1 400.0a5.6 5.6 0 1 0 11.2 0a5.6 5.6 0 1 0 -11.2 0M186.3 400.8a5.6 5.6 0 1 0 11.2 0a5.6 5.6 0 1 0 -11.2 0M183.9 409.4a5.6 5.6 0 1 0 11.2 0a5.6 5.6 0 1 0 -11.2 0M183.9 418.8a5.6 5.6 0 1 0 11.2 0a5.6 5.6 0 1 0 -11.2 0M173.0 425.0a5.6 5.6 0 1 0 11.2 0a5.6 5.6 0 1 0 -11.2 0M179.2 424.2a5.6 5.6 0 1 0 11.2 0a5.6 5.6 0 1 0 -11.2 0M188.6 422.7a5.6 5.6 0 1 0 11.2 0a5.6 5.6 0 1 0 -11.2 0M193.3 425.0a5.6 5.6 0 1 0 11.2 0a5.6 5.6 0 1 0 -11.2 0M170.7 429.7a5.6 5.6 0 1 0 11.2 0a5.6 5.6 0 1 0 -11.2 0M176.1 431.2a5.6 5.6 0 1 0 11.2 0a5.6 5.6 0 1 0 -11.2 0M182.4 429.7a5.6 5.6 0 1 0 11.2 0a5.6 5.6 0 1 0 -11.2 0M188.6 429.7a5.6 5.6 0 1 0 11.2 0a5.6 5.6 0 1 0 -11.2 0M194.8 431.2a5.6 5.6 0 1 0 11.2 0a5.6 5.6 0 1 0 -11.2 0M169.9 435.9a5.6 5.6 0 1 0 11.2 0a5.6 5.6 0 1 0 -11.2 0M198.0 435.9a5.6 5.6 0 1 0 11.2 0a5.6 5.6 0 1 0 -11.2 0M175.3 437.5a5.6 5.6 0 1 0 11.2 0a5.6 5.6 0 1 0 -11.2 0M180.8 437.5a5.6 5.6 0 1 0 11.2 0a5.6 5.6 0 1 0 -11.2 0M187.0 437.5a5.6 5.6 0 1 0 11.2 0a5.6 5.6 0 1 0 -11.2 0M193.3 439.1a5.6 5.6 0 1 0 11.2 0a5.6 5.6 0 1 0 -11.2 0M173.0 445.3a5.6 5.6 0 1 0 11.2 0a5.6 5.6 0 1 0 -11.2 0M179.2 445.3a5.6 5.6 0 1 0 11.2 0a5.6 5.6 0 1 0 -11.2 0M188.6 443.7a5.6 5.6 0 1 0 11.2 0a5.6 5.6 0 1 0 -11.2 0M193.3 446.9a5.6 5.6 0 1 0 11.2 0a5.6 5.6 0 1 0 -11.2 0M173.0 453.1a5.6 5.6 0 1 0 11.2 0a5.6 5.6 0 1 0 -11.2 0M179.2 454.7a5.6 5.6 0 1 0 11.2 0a5.6 5.6 0 1 0 -11.2 0M187.0 453.1a5.6 5.6 0 1 0 11.2 0a5.6 5.6 0 1 0 -11.2 0M191.7 454.7a5.6 5.6 0 1 0 11.2 0a5.6 5.6 0 1 0 -11.2 0M196.4 454.7a5.6 5.6 0 1 0 11.2 0a5.6 5.6 0 1 0 -11.2 0M183.9 456.2a5.6 5.6 0 1 0 11.2 0a5.6 5.6 0 1 0 -11.2 0M190.2 450.0a5.6 5.6 0 1 0 11.2 0a5.6 5.6 0 1 0 -11.2 0" fill="none" stroke="#381ef2" stroke-width="2.70"/>
<path d="M238.5 326.7a5.6 5.6 0 1 0 11.2 0a5.6 5.6 0 1 0 -11.2 0M238.5 372.7a5.6 5.6 0 1 0 11.2 0a5.6 5.6 0 1 0 -11.2 0M239.3 376.6a5.6 5.6 0 1 0 11.2 0a5.6 5.6 0 1 0 -11.2 0M237.8 381.3a5.6 5.6 0 1 0 11.2 0a5.6 5.6 0 1 0 -11.2 0M236.2 386.0a5.6 5.6 0 1 0 11.2 0a5.6 5.6 0 1 0 -11.2 0M240.1 387.6a5.6 5.6 0 1 0 11.2 0a5.6 5.6 0 1 0 -11.2 0M237.0 392.2a5.6 5.6 0 1 0 11.2 0a5.6 5.6 0 1 0 -11.2 0M241.7 393.0a5.6 5.6 0 1 0 11.2 0a5.6 5.6 0 1 0 -11.2 0M237.8 403.2a5.6 5.6 0 1 0 11.2 0a5.6 5.6 0 1 0 -11.2 0M240.9 404.7a5.6 5.6 0 1 0 11.2 0a5.6 5.6 0 1 0 -11.2 0M236.2 409.4a5.6 5.6 0 1 0 11.2 0a5.6 5.6 0 1 0 -11.2 0M240.1 414.1a5.6 5.6 0 1 0 11.2 0a5.6 5.6 0 1 0 -11.2 0M237.0 423.4a5.6 5.6 0 1 0 11.2 0a5.6 5.6 0 1 0 -11.2 0M238.5 432.8a5.6 5.6 0 1 0 11.2 0a5.6 5.6 0 1 0 -11.2 0M233.9 440.6a5.6 5.6 0 1 0 11.2 0a5.6 5.6 0 1 0 -11.2 0M240.9 442.2a5.6 5.6 0 1 0 11.2 0a5.6 5.6 0 1 0 -11.2 0M230.7 445.3a5.6 5.6 0 1 0 11.2 0a5.6 5.6 0 1 0 -11.2 0M243.2 445.3a5.6 5.6 0 1 0 11.2 0a5.6 5.6 0 1 0 -11.2 0M226.1 448.4a5.6 5.6 0 1 0 11.2 0a5.6 5.6 0 1 0 -11.2 0M235.4 448.4a5.6 5.6 0 1 0 11.2 0a5.6 5.6 0 1 0 -11.2 0M247.9 448.4a5.6 5.6 0 1 0 11.2 0a5.6 5.6 0 1 0 -11.2 0M224.5 453.1a5.6 5.6 0 1 0 11.2 0a5.6 5.6 0 1 0 -11.2 0M230.7 452.3a5.6 5.6 0 1 0 11.2 0a5.6 5.6 0 1 0 -11.2 0M237.0 453.1a5.6 5.6 0 1 0 11.2 0a5.6 5.6 0 1 0 -11.2 0M244.8 453.1a5.6 5.6 0 1 0 11.2 0a5.6 5.6 0 1 0 -11.2 0M251.0 452.3a5.6 5.6 0 1 0 11.2 0a5.6 5.6 0 1 0 -11.2 0M222.9 457.0a5.6 5.6 0 1 0 11.2 0a5.6 5.6 0 1 0 -11.2 0M229.2 457.0a5.6 5.6 0 1 0 11.2 0a5.6 5.6 0 1 0 -11.2 0M233.9 457.8a5.6 5.6 0 1 0 11.2 0a5.6 5.6 0 1 0 -11.2 0M240.1 457.8a5.6 5.6 0 1 0 11.2 0a5.6 5.6 0 1 0 -11.2 0M246.3 457.8a5.6 5.6 0 1 0 11.2 0a5.6 5.6 0 1 0 -11.2 0M252.6 457.0a5.6 5.6 0 1 0 11.2 0a5.6 5.6 0 1 0 -11.2 0M232.3 460.9a5.6 5.6 0 1 0 11.2 0a5.6 5.6 0 1 0 -11.2 0M241.7 460.9a5.6 5.6 0 1 0 11.2 0a5.6 5.6 0 1 0 -11.2 0M249.5 460.1a5.6 5.6 0 1 0 11.2 0a5.6 5.6 0 1 0 -11.2 0M227.6 460.9a5.6 5.6 0 1 0 11.2 0a5.6 5.6 0 1 0 -11.2 0M237.0 445.3a5.6 5.6 0 1 0 11.2 0a5.6 5.6 0 1 0 -11.2 0M244.0 435.9a5.6 5.6 0 1 0 11.2 0a5.6 5.6 0 1 0 -11.2 0M232.3 435.9a5.6 5.6 0 1 0 11.2 0a5.6 5.6 0 1 0 -11.2 0M235.4 456.2a5.6 5.6 0 1 0 11.2 0a5.6 5.6 0 1 0 -11.2 0" fill="none" stroke="#ef7dae" stroke-width="2.70"/>
<polyline points="135.20,148.20 135.20,133.60 244.40,133.60 244.40,310.80" fill="none" stroke="#000" stroke-width="2.30"/>
<polyline points="135.20,202.60 135.20,188.20 189.60,188.20 189.60,312.60" fill="none" stroke="#000" stroke-width="2.30"/>
<text x="116.27" y="79.00" font-size="24.00" font-weight="bold" textLength="111.65" lengthAdjust="spacingAndGlyphs" fill="#000">P&lt;0.0001</text>
<text x="148.10" y="120.40" font-size="20.50" font-weight="normal" textLength="81.19" lengthAdjust="spacingAndGlyphs" fill="#000">&lt;0.0001</text>
<text x="127.42" y="174.60" font-size="20.50" font-weight="normal" textLength="69.06" lengthAdjust="spacingAndGlyphs" fill="#000">0.0080</text>
<text transform="translate(143.40 490.10) rotate(-45)" x="0" y="0" font-size="26" font-weight="bold" text-anchor="end">CU</text>
<text transform="translate(197.30 490.00) rotate(-45)" x="0" y="0" font-size="26" font-weight="bold" text-anchor="end">MCI</text>
<text transform="translate(251.00 488.20) rotate(-45)" x="0" y="0" font-size="26" font-weight="bold" text-anchor="end">AD-dementia</text>
<text transform="rotate(-90)" x="-456" y="57.5" font-size="25.5" font-weight="bold">% of A&#223;<tspan dy="-9" font-size="16">++</tspan><tspan dy="9"> monocytes</tspan></text>
<line x1="88.40" y1="668.40" x2="88.40" y2="948.10" stroke="#000" stroke-width="5.40"/>
<line x1="80.60" y1="945.40" x2="363.60" y2="945.40" stroke="#000" stroke-width="5.40"/>
<line x1="88.40" y1="945.40" x2="88.40" y2="954.90" stroke="#000" stroke-width="5.00"/>
<text x="82.58" y="978.20" font-size="21.00" font-weight="bold" textLength="11.68" lengthAdjust="spacingAndGlyphs">0</text>
<line x1="156.55" y1="945.40" x2="156.55" y2="954.90" stroke="#000" stroke-width="5.00"/>
<text x="150.34" y="978.20" font-size="21.00" font-weight="bold" textLength="11.68" lengthAdjust="spacingAndGlyphs">1</text>
<line x1="224.70" y1="945.40" x2="224.70" y2="954.90" stroke="#000" stroke-width="5.00"/>
<text x="218.92" y="978.20" font-size="21.00" font-weight="bold" textLength="11.68" lengthAdjust="spacingAndGlyphs">2</text>
<line x1="292.85" y1="945.40" x2="292.85" y2="954.90" stroke="#000" stroke-width="5.00"/>
<text x="287.15" y="978.20" font-size="21.00" font-weight="bold" textLength="11.68" lengthAdjust="spacingAndGlyphs">3</text>
<line x1="361.00" y1="945.40" x2="361.00" y2="954.90" stroke="#000" stroke-width="5.00"/>
<text x="355.06" y="978.20" font-size="21.00" font-weight="bold" textLength="11.68" lengthAdjust="spacingAndGlyphs">4</text>
<line x1="79.90" y1="945.40" x2="88.40" y2="945.40" stroke="#000" stroke-width="5.00"/>
<text x="64.28" y="952.92" font-size="21.00" font-weight="bold" textLength="11.68" lengthAdjust="spacingAndGlyphs">0</text>
<line x1="79.90" y1="890.26" x2="88.40" y2="890.26" stroke="#000" stroke-width="5.00"/>
<text x="64.01" y="897.78" font-size="21.00" font-weight="bold" textLength="11.68" lengthAdjust="spacingAndGlyphs">1</text>
<line x1="79.90" y1="835.12" x2="88.40" y2="835.12" stroke="#000" stroke-width="5.00"/>
<text x="64.26" y="842.64" font-size="21.00" font-weight="bold" textLength="11.68" lengthAdjust="spacingAndGlyphs">2</text>
<line x1="79.90" y1="779.98" x2="88.40" y2="779.98" stroke="#000" stroke-width="5.00"/>
<text x="64.18" y="787.50" font-size="21.00" font-weight="bold" textLength="11.68" lengthAdjust="spacingAndGlyphs">3</text>
<line x1="79.90" y1="724.84" x2="88.40" y2="724.84" stroke="#000" stroke-width="5.00"/>
<text x="63.53" y="732.36" font-size="21.00" font-weight="bold" textLength="11.68" lengthAdjust="spacingAndGlyphs">4</text>
<line x1="79.90" y1="669.70" x2="88.40" y2="669.70" stroke="#000" stroke-width="5.00"/>
<text x="64.01" y="677.22" font-size="21.00" font-weight="bold" textLength="11.68" lengthAdjust="spacingAndGlyphs">5</text>
<path d="M117.2 806.9a5.6 5.6 0 1 0 11.2 0a5.6 5.6 0 1 0 -11.2 0M117.2 813.5a5.6 5.6 0 1 0 11.2 0a5.6 5.6 0 1 0 -11.2 0M117.2 831.8a5.6 5.6 0 1 0 11.2 0a5.6 5.6 0 1 0 -11.2 0M117.2 864.2a5.6 5.6 0 1 0 11.2 0a5.6 5.6 0 1 0 -11.2 0M117.2 864.2a5.6 5.6 0 1 0 11.2 0a5.6 5.6 0 1 0 -11.2 0M117.2 864.2a5.6 5.6 0 1 0 11.2 0a5.6 5.6 0 1 0 -11.2 0M117.2 864.2a5.6 5.6 0 1 0 11.2 0a5.6 5.6 0 1 0 -11.2 0M117.2 864.2a5.6 5.6 0 1 0 11.2 0a5.6 5.6 0 1 0 -11.2 0M117.2 870.1a5.6 5.6 0 1 0 11.2 0a5.6 5.6 0 1 0 -11.2 0M117.2 875.9a5.6 5.6 0 1 0 11.2 0a5.6 5.6 0 1 0 -11.2 0M117.2 876.7a5.6 5.6 0 1 0 11.2 0a5.6 5.6 0 1 0 -11.2 0M117.2 884.2a5.6 5.6 0 1 0 11.2 0a5.6 5.6 0 1 0 -11.2 0M117.2 885.0a5.6 5.6 0 1 0 11.2 0a5.6 5.6 0 1 0 -11.2 0M117.2 894.2a5.6 5.6 0 1 0 11.2 0a5.6 5.6 0 1 0 -11.2 0M117.2 904.1a5.6 5.6 0 1 0 11.2 0a5.6 5.6 0 1 0 -11.2 0M117.2 910.8a5.6 5.6 0 1 0 11.2 0a5.6 5.6 0 1 0 -11.2 0M117.2 910.0a5.6 5.6 0 1 0 11.2 0a5.6 5.6 0 1 0 -11.2 0M117.2 908.3a5.6 5.6 0 1 0 11.2 0a5.6 5.6 0 1 0 -11.2 0M117.2 910.8a5.6 5.6 0 1 0 11.2 0a5.6 5.6 0 1 0 -11.2 0M117.2 915.8a5.6 5.6 0 1 0 11.2 0a5.6 5.6 0 1 0 -11.2 0M117.2 917.4a5.6 5.6 0 1 0 11.2 0a5.6 5.6 0 1 0 -11.2 0M117.2 915.8a5.6 5.6 0 1 0 11.2 0a5.6 5.6 0 1 0 -11.2 0M117.2 915.8a5.6 5.6 0 1 0 11.2 0a5.6 5.6 0 1 0 -11.2 0M117.2 917.4a5.6 5.6 0 1 0 11.2 0a5.6 5.6 0 1 0 -11.2 0M117.2 922.4a5.6 5.6 0 1 0 11.2 0a5.6 5.6 0 1 0 -11.2 0M117.2 922.4a5.6 5.6 0 1 0 11.2 0a5.6 5.6 0 1 0 -11.2 0M117.2 924.1a5.6 5.6 0 1 0 11.2 0a5.6 5.6 0 1 0 -11.2 0M117.2 924.1a5.6 5.6 0 1 0 11.2 0a5.6 5.6 0 1 0 -11.2 0M117.2 924.1a5.6 5.6 0 1 0 11.2 0a5.6 5.6 0 1 0 -11.2 0M117.2 925.7a5.6 5.6 0 1 0 11.2 0a5.6 5.6 0 1 0 -11.2 0M117.2 932.4a5.6 5.6 0 1 0 11.2 0a5.6 5.6 0 1 0 -11.2 0M117.2 932.4a5.6 5.6 0 1 0 11.2 0a5.6 5.6 0 1 0 -11.2 0M117.2 930.7a5.6 5.6 0 1 0 11.2 0a5.6 5.6 0 1 0 -11.2 0M117.2 934.1a5.6 5.6 0 1 0 11.2 0a5.6 5.6 0 1 0 -11.2 0M117.2 940.7a5.6 5.6 0 1 0 11.2 0a5.6 5.6 0 1 0 -11.2 0M117.2 942.4a5.6 5.6 0 1 0 11.2 0a5.6 5.6 0 1 0 -11.2 0M117.2 940.7a5.6 5.6 0 1 0 11.2 0a5.6 5.6 0 1 0 -11.2 0M117.2 942.4a5.6 5.6 0 1 0 11.2 0a5.6 5.6 0 1 0 -11.2 0M117.2 942.4a5.6 5.6 0 1 0 11.2 0a5.6 5.6 0 1 0 -11.2 0M117.2 944.0a5.6 5.6 0 1 0 11.2 0a5.6 5.6 0 1 0 -11.2 0M117.2 937.4a5.6 5.6 0 1 0 11.2 0a5.6 5.6 0 1 0 -11.2 0" fill="none" stroke="#381ef2" stroke-width="2.70"/>
<path d="M82.8 690.5a5.6 5.6 0 1 0 11.2 0a5.6 5.6 0 1 0 -11.2 0M82.8 700.5a5.6 5.6 0 1 0 11.2 0a5.6 5.6 0 1 0 -11.2 0M82.8 703.8a5.6 5.6 0 1 0 11.2 0a5.6 5.6 0 1 0 -11.2 0M82.8 705.5a5.6 5.6 0 1 0 11.2 0a5.6 5.6 0 1 0 -11.2 0M82.8 708.0a5.6 5.6 0 1 0 11.2 0a5.6 5.6 0 1 0 -11.2 0M82.8 739.6a5.6 5.6 0 1 0 11.2 0a5.6 5.6 0 1 0 -11.2 0M82.8 742.0a5.6 5.6 0 1 0 11.2 0a5.6 5.6 0 1 0 -11.2 0M82.8 744.5a5.6 5.6 0 1 0 11.2 0a5.6 5.6 0 1 0 -11.2 0M82.8 765.3a5.6 5.6 0 1 0 11.2 0a5.6 5.6 0 1 0 -11.2 0M82.8 802.7a5.6 5.6 0 1 0 11.2 0a5.6 5.6 0 1 0 -11.2 0M82.8 804.4a5.6 5.6 0 1 0 11.2 0a5.6 5.6 0 1 0 -11.2 0M82.8 806.9a5.6 5.6 0 1 0 11.2 0a5.6 5.6 0 1 0 -11.2 0M82.8 811.9a5.6 5.6 0 1 0 11.2 0a5.6 5.6 0 1 0 -11.2 0M82.8 814.4a5.6 5.6 0 1 0 11.2 0a5.6 5.6 0 1 0 -11.2 0M82.8 820.2a5.6 5.6 0 1 0 11.2 0a5.6 5.6 0 1 0 -11.2 0M82.8 823.5a5.6 5.6 0 1 0 11.2 0a5.6 5.6 0 1 0 -11.2 0M82.8 841.8a5.6 5.6 0 1 0 11.2 0a5.6 5.6 0 1 0 -11.2 0M82.8 846.8a5.6 5.6 0 1 0 11.2 0a5.6 5.6 0 1 0 -11.2 0M82.8 849.3a5.6 5.6 0 1 0 11.2 0a5.6 5.6 0 1 0 -11.2 0M82.8 852.6a5.6 5.6 0 1 0 11.2 0a5.6 5.6 0 1 0 -11.2 0M82.8 856.5a5.6 5.6 0 1 0 11.2 0a5.6 5.6 0 1 0 -11.2 0M82.8 855.0a5.6 5.6 0 1 0 11.2 0a5.6 5.6 0 1 0 -11.2 0M82.8 849.9a5.6 5.6 0 1 0 11.2 0a5.6 5.6 0 1 0 -11.2 0M82.8 856.3a5.6 5.6 0 1 0 11.2 0a5.6 5.6 0 1 0 -11.2 0M82.8 855.7a5.6 5.6 0 1 0 11.2 0a5.6 5.6 0 1 0 -11.2 0M82.8 869.5a5.6 5.6 0 1 0 11.2 0a5.6 5.6 0 1 0 -11.2 0M82.8 876.2a5.6 5.6 0 1 0 11.2 0a5.6 5.6 0 1 0 -11.2 0M82.8 870.8a5.6 5.6 0 1 0 11.2 0a5.6 5.6 0 1 0 -11.2 0M82.8 868.8a5.6 5.6 0 1 0 11.2 0a5.6 5.6 0 1 0 -11.2 0M82.8 866.1a5.6 5.6 0 1 0 11.2 0a5.6 5.6 0 1 0 -11.2 0M82.8 877.7a5.6 5.6 0 1 0 11.2 0a5.6 5.6 0 1 0 -11.2 0M82.8 874.2a5.6 5.6 0 1 0 11.2 0a5.6 5.6 0 1 0 -11.2 0M82.8 877.7a5.6 5.6 0 1 0 11.2 0a5.6 5.6 0 1 0 -11.2 0M82.8 865.8a5.6 5.6 0 1 0 11.2 0a5.6 5.6 0 1 0 -11.2 0M82.8 867.8a5.6 5.6 0 1 0 11.2 0a5.6 5.6 0 1 0 -11.2 0M82.8 878.5a5.6 5.6 0 1 0 11.2 0a5.6 5.6 0 1 0 -11.2 0M82.8 863.0a5.6 5.6 0 1 0 11.2 0a5.6 5.6 0 1 0 -11.2 0M82.8 863.3a5.6 5.6 0 1 0 11.2 0a5.6 5.6 0 1 0 -11.2 0M82.8 868.4a5.6 5.6 0 1 0 11.2 0a5.6 5.6 0 1 0 -11.2 0M82.8 869.0a5.6 5.6 0 1 0 11.2 0a5.6 5.6 0 1 0 -11.2 0M82.8 876.6a5.6 5.6 0 1 0 11.2 0a5.6 5.6 0 1 0 -11.2 0M82.8 892.8a5.6 5.6 0 1 0 11.2 0a5.6 5.6 0 1 0 -11.2 0M82.8 885.7a5.6 5.6 0 1 0 11.2 0a5.6 5.6 0 1 0 -11.2 0M82.8 892.2a5.6 5.6 0 1 0 11.2 0a5.6 5.6 0 1 0 -11.2 0M82.8 890.4a5.6 5.6 0 1 0 11.2 0a5.6 5.6 0 1 0 -11.2 0M82.8 889.7a5.6 5.6 0 1 0 11.2 0a5.6 5.6 0 1 0 -11.2 0M82.8 892.6a5.6 5.6 0 1 0 11.2 0a5.6 5.6 0 1 0 -11.2 0M82.8 886.6a5.6 5.6 0 1 0 11.2 0a5.6 5.6 0 1 0 -11.2 0M82.8 886.9a5.6 5.6 0 1 0 11.2 0a5.6 5.6 0 1 0 -11.2 0M82.8 881.4a5.6 5.6 0 1 0 11.2 0a5.6 5.6 0 1 0 -11.2 0M82.8 885.9a5.6 5.6 0 1 0 11.2 0a5.6 5.6 0 1 0 -11.2 0M82.8 884.2a5.6 5.6 0 1 0 11.2 0a5.6 5.6 0 1 0 -11.2 0M82.8 886.1a5.6 5.6 0 1 0 11.2 0a5.6 5.6 0 1 0 -11.2 0M82.8 896.7a5.6 5.6 0 1 0 11.2 0a5.6 5.6 0 1 0 -11.2 0M82.8 899.0a5.6 5.6 0 1 0 11.2 0a5.6 5.6 0 1 0 -11.2 0M82.8 901.0a5.6 5.6 0 1 0 11.2 0a5.6 5.6 0 1 0 -11.2 0M82.8 893.0a5.6 5.6 0 1 0 11.2 0a5.6 5.6 0 1 0 -11.2 0M82.8 893.1a5.6 5.6 0 1 0 11.2 0a5.6 5.6 0 1 0 -11.2 0M82.8 894.8a5.6 5.6 0 1 0 11.2 0a5.6 5.6 0 1 0 -11.2 0M82.8 908.9a5.6 5.6 0 1 0 11.2 0a5.6 5.6 0 1 0 -11.2 0M82.8 915.4a5.6 5.6 0 1 0 11.2 0a5.6 5.6 0 1 0 -11.2 0M82.8 916.8a5.6 5.6 0 1 0 11.2 0a5.6 5.6 0 1 0 -11.2 0M82.8 915.8a5.6 5.6 0 1 0 11.2 0a5.6 5.6 0 1 0 -11.2 0M82.8 919.4a5.6 5.6 0 1 0 11.2 0a5.6 5.6 0 1 0 -11.2 0M82.8 907.9a5.6 5.6 0 1 0 11.2 0a5.6 5.6 0 1 0 -11.2 0M82.8 914.0a5.6 5.6 0 1 0 11.2 0a5.6 5.6 0 1 0 -11.2 0M82.8 906.6a5.6 5.6 0 1 0 11.2 0a5.6 5.6 0 1 0 -11.2 0M82.8 914.2a5.6 5.6 0 1 0 11.2 0a5.6 5.6 0 1 0 -11.2 0M82.8 904.7a5.6 5.6 0 1 0 11.2 0a5.6 5.6 0 1 0 -11.2 0M82.8 906.6a5.6 5.6 0 1 0 11.2 0a5.6 5.6 0 1 0 -11.2 0M82.8 920.6a5.6 5.6 0 1 0 11.2 0a5.6 5.6 0 1 0 -11.2 0M82.8 931.5a5.6 5.6 0 1 0 11.2 0a5.6 5.6 0 1 0 -11.2 0M82.8 921.8a5.6 5.6 0 1 0 11.2 0a5.6 5.6 0 1 0 -11.2 0M82.8 927.9a5.6 5.6 0 1 0 11.2 0a5.6 5.6 0 1 0 -11.2 0M82.8 920.9a5.6 5.6 0 1 0 11.2 0a5.6 5.6 0 1 0 -11.2 0M82.8 928.9a5.6 5.6 0 1 0 11.2 0a5.6 5.6 0 1 0 -11.2 0M82.8 933.4a5.6 5.6 0 1 0 11.2 0a5.6 5.6 0 1 0 -11.2 0M82.8 925.7a5.6 5.6 0 1 0 11.2 0a5.6 5.6 0 1 0 -11.2 0M82.8 923.6a5.6 5.6 0 1 0 11.2 0a5.6 5.6 0 1 0 -11.2 0M82.8 942.4a5.6 5.6 0 1 0 11.2 0a5.6 5.6 0 1 0 -11.2 0M82.8 944.4a5.6 5.6 0 1 0 11.2 0a5.6 5.6 0 1 0 -11.2 0M82.8 941.7a5.6 5.6 0 1 0 11.2 0a5.6 5.6 0 1 0 -11.2 0M82.8 934.8a5.6 5.6 0 1 0 11.2 0a5.6 5.6 0 1 0 -11.2 0M82.8 937.0a5.6 5.6 0 1 0 11.2 0a5.6 5.6 0 1 0 -11.2 0M117.2 842.7a5.6 5.6 0 1 0 11.2 0a5.6 5.6 0 1 0 -11.2 0M117.2 875.2a5.6 5.6 0 1 0 11.2 0a5.6 5.6 0 1 0 -11.2 0M117.2 886.9a5.6 5.6 0 1 0 11.2 0a5.6 5.6 0 1 0 -11.2 0M117.2 894.7a5.6 5.6 0 1 0 11.2 0a5.6 5.6 0 1 0 -11.2 0M117.2 911.6a5.6 5.6 0 1 0 11.2 0a5.6 5.6 0 1 0 -11.2 0M117.2 920.7a5.6 5.6 0 1 0 11.2 0a5.6 5.6 0 1 0 -11.2 0M117.2 940.2a5.6 5.6 0 1 0 11.2 0a5.6 5.6 0 1 0 -11.2 0" fill="none" stroke="#48fb18" stroke-width="2.70"/>
<path d="M117.2 942.8a5.6 5.6 0 1 0 11.2 0a5.6 5.6 0 1 0 -11.2 0M150.4 860.4a5.6 5.6 0 1 0 11.2 0a5.6 5.6 0 1 0 -11.2 0M150.4 868.7a5.6 5.6 0 1 0 11.2 0a5.6 5.6 0 1 0 -11.2 0M150.4 870.8a5.6 5.6 0 1 0 11.2 0a5.6 5.6 0 1 0 -11.2 0M150.4 889.5a5.6 5.6 0 1 0 11.2 0a5.6 5.6 0 1 0 -11.2 0M150.4 918.6a5.6 5.6 0 1 0 11.2 0a5.6 5.6 0 1 0 -11.2 0M150.4 927.2a5.6 5.6 0 1 0 11.2 0a5.6 5.6 0 1 0 -11.2 0M150.4 932.4a5.6 5.6 0 1 0 11.2 0a5.6 5.6 0 1 0 -11.2 0M150.4 937.6a5.6 5.6 0 1 0 11.2 0a5.6 5.6 0 1 0 -11.2 0M150.4 941.5a5.6 5.6 0 1 0 11.2 0a5.6 5.6 0 1 0 -11.2 0M150.4 945.4a5.6 5.6 0 1 0 11.2 0a5.6 5.6 0 1 0 -11.2 0M219.4 877.3a5.6 5.6 0 1 0 11.2 0a5.6 5.6 0 1 0 -11.2 0M219.4 910.8a5.6 5.6 0 1 0 11.2 0a5.6 5.6 0 1 0 -11.2 0M219.4 919.4a5.6 5.6 0 1 0 11.2 0a5.6 5.6 0 1 0 -11.2 0M219.4 928.5a5.6 5.6 0 1 0 11.2 0a5.6 5.6 0 1 0 -11.2 0M219.4 933.7a5.6 5.6 0 1 0 11.2 0a5.6 5.6 0 1 0 -11.2 0M219.4 938.9a5.6 5.6 0 1 0 11.2 0a5.6 5.6 0 1 0 -11.2 0M219.4 942.8a5.6 5.6 0 1 0 11.2 0a5.6 5.6 0 1 0 -11.2 0M287.5 845.8a5.6 5.6 0 1 0 11.2 0a5.6 5.6 0 1 0 -11.2 0M287.5 857.0a5.6 5.6 0 1 0 11.2 0a5.6 5.6 0 1 0 -11.2 0M287.5 930.6a5.6 5.6 0 1 0 11.2 0a5.6 5.6 0 1 0 -11.2 0M287.5 942.8a5.6 5.6 0 1 0 11.2 0a5.6 5.6 0 1 0 -11.2 0" fill="none" stroke="#ef7dae" stroke-width="2.70"/>
<line x1="88.40" y1="886.40" x2="293.10" y2="939.40" stroke="#000" stroke-width="2.20"/>
<text x="95.94" y="622.90" font-size="23.50" font-weight="normal" textLength="229.01" lengthAdjust="spacingAndGlyphs" fill="#000">r= -0.3831, P&lt; 0.0001</text>
<text x="170.13" y="1018.20" font-size="22.50" font-weight="bold" textLength="108.90" lengthAdjust="spacingAndGlyphs" fill="#000">CDR score</text>
<text transform="rotate(-90)" x="-920.5" y="50" font-size="24" font-weight="bold">% of A&#223;<tspan dy="-9" font-size="16">++</tspan><tspan dy="9"> monocytes</tspan></text>
<line x1="84.60" y1="1219.20" x2="84.60" y2="1485.10" stroke="#000" stroke-width="5.40"/>
<line x1="72.80" y1="1482.40" x2="260.10" y2="1482.40" stroke="#000" stroke-width="5.40"/>
<line x1="118.60" y1="1482.40" x2="118.60" y2="1491.90" stroke="#000" stroke-width="5.00"/>
<line x1="170.60" y1="1482.40" x2="170.60" y2="1491.90" stroke="#000" stroke-width="5.00"/>
<line x1="222.60" y1="1482.40" x2="222.60" y2="1491.90" stroke="#000" stroke-width="5.00"/>
<line x1="72.10" y1="1482.40" x2="84.60" y2="1482.40" stroke="#000" stroke-width="5.00"/>
<text x="57.28" y="1489.92" font-size="21.00" font-weight="bold" textLength="11.68" lengthAdjust="spacingAndGlyphs">0</text>
<line x1="72.10" y1="1417.38" x2="84.60" y2="1417.38" stroke="#000" stroke-width="5.00"/>
<text x="33.92" y="1424.89" font-size="21.00" font-weight="bold" textLength="35.04" lengthAdjust="spacingAndGlyphs">200</text>
<line x1="72.10" y1="1352.35" x2="84.60" y2="1352.35" stroke="#000" stroke-width="5.00"/>
<text x="33.92" y="1359.87" font-size="21.00" font-weight="bold" textLength="35.04" lengthAdjust="spacingAndGlyphs">400</text>
<line x1="72.10" y1="1287.33" x2="84.60" y2="1287.33" stroke="#000" stroke-width="5.00"/>
<text x="33.92" y="1294.84" font-size="21.00" font-weight="bold" textLength="35.04" lengthAdjust="spacingAndGlyphs">600</text>
<line x1="72.10" y1="1222.30" x2="84.60" y2="1222.30" stroke="#000" stroke-width="5.00"/>
<text x="33.92" y="1229.82" font-size="21.00" font-weight="bold" textLength="35.04" lengthAdjust="spacingAndGlyphs">800</text>
<line x1="101.60" y1="1385.60" x2="135.60" y2="1385.60" stroke="#000" stroke-width="3.00"/>
<line x1="110.60" y1="1336.70" x2="126.60" y2="1336.70" stroke="#000" stroke-width="1.80"/>
<line x1="110.60" y1="1434.50" x2="126.60" y2="1434.50" stroke="#000" stroke-width="1.80"/>
<line x1="118.60" y1="1336.70" x2="118.60" y2="1434.50" stroke="#000" stroke-width="1.50"/>
<line x1="153.60" y1="1412.70" x2="187.60" y2="1412.70" stroke="#000" stroke-width="3.00"/>
<line x1="162.60" y1="1379.40" x2="178.60" y2="1379.40" stroke="#000" stroke-width="1.80"/>
<line x1="162.60" y1="1446.00" x2="178.60" y2="1446.00" stroke="#000" stroke-width="1.80"/>
<line x1="170.60" y1="1379.40" x2="170.60" y2="1446.00" stroke="#000" stroke-width="1.50"/>
<line x1="205.60" y1="1418.30" x2="239.60" y2="1418.30" stroke="#000" stroke-width="3.00"/>
<line x1="214.60" y1="1392.90" x2="230.60" y2="1392.90" stroke="#000" stroke-width="1.80"/>
<line x1="214.60" y1="1443.90" x2="230.60" y2="1443.90" stroke="#000" stroke-width="1.80"/>
<line x1="222.60" y1="1392.90" x2="222.60" y2="1443.90" stroke="#000" stroke-width="1.50"/>
<path d="M113.0 1453.0a5.6 5.6 0 1 0 11.2 0a5.6 5.6 0 1 0 -11.2 0M117.0 1452.9a5.6 5.6 0 1 0 11.2 0a5.6 5.6 0 1 0 -11.2 0M109.0 1452.8a5.6 5.6 0 1 0 11.2 0a5.6 5.6 0 1 0 -11.2 0M121.0 1452.5a5.6 5.6 0 1 0 11.2 0a5.6 5.6 0 1 0 -11.2 0M105.5 1450.8a5.6 5.6 0 1 0 11.2 0a5.6 5.6 0 1 0 -11.2 0M113.0 1448.4a5.6 5.6 0 1 0 11.2 0a5.6 5.6 0 1 0 -11.2 0M116.0 1445.6a5.6 5.6 0 1 0 11.2 0a5.6 5.6 0 1 0 -11.2 0M112.5 1443.4a5.6 5.6 0 1 0 11.2 0a5.6 5.6 0 1 0 -11.2 0M108.5 1442.9a5.6 5.6 0 1 0 11.2 0a5.6 5.6 0 1 0 -11.2 0M118.5 1442.2a5.6 5.6 0 1 0 11.2 0a5.6 5.6 0 1 0 -11.2 0M115.0 1440.1a5.6 5.6 0 1 0 11.2 0a5.6 5.6 0 1 0 -11.2 0M111.0 1439.4a5.6 5.6 0 1 0 11.2 0a5.6 5.6 0 1 0 -11.2 0M113.5 1436.2a5.6 5.6 0 1 0 11.2 0a5.6 5.6 0 1 0 -11.2 0M117.5 1436.1a5.6 5.6 0 1 0 11.2 0a5.6 5.6 0 1 0 -11.2 0M108.5 1436.0a5.6 5.6 0 1 0 11.2 0a5.6 5.6 0 1 0 -11.2 0M121.5 1435.7a5.6 5.6 0 1 0 11.2 0a5.6 5.6 0 1 0 -11.2 0M105.0 1433.9a5.6 5.6 0 1 0 11.2 0a5.6 5.6 0 1 0 -11.2 0M101.0 1433.9a5.6 5.6 0 1 0 11.2 0a5.6 5.6 0 1 0 -11.2 0M112.5 1432.3a5.6 5.6 0 1 0 11.2 0a5.6 5.6 0 1 0 -11.2 0M116.5 1431.3a5.6 5.6 0 1 0 11.2 0a5.6 5.6 0 1 0 -11.2 0M108.5 1431.0a5.6 5.6 0 1 0 11.2 0a5.6 5.6 0 1 0 -11.2 0M120.5 1429.5a5.6 5.6 0 1 0 11.2 0a5.6 5.6 0 1 0 -11.2 0M113.0 1427.5a5.6 5.6 0 1 0 11.2 0a5.6 5.6 0 1 0 -11.2 0M117.0 1426.1a5.6 5.6 0 1 0 11.2 0a5.6 5.6 0 1 0 -11.2 0M110.0 1424.8a5.6 5.6 0 1 0 11.2 0a5.6 5.6 0 1 0 -11.2 0M106.0 1424.4a5.6 5.6 0 1 0 11.2 0a5.6 5.6 0 1 0 -11.2 0M120.5 1423.8a5.6 5.6 0 1 0 11.2 0a5.6 5.6 0 1 0 -11.2 0M113.5 1422.4a5.6 5.6 0 1 0 11.2 0a5.6 5.6 0 1 0 -11.2 0M102.5 1422.3a5.6 5.6 0 1 0 11.2 0a5.6 5.6 0 1 0 -11.2 0M124.0 1421.3a5.6 5.6 0 1 0 11.2 0a5.6 5.6 0 1 0 -11.2 0M113.0 1418.4a5.6 5.6 0 1 0 11.2 0a5.6 5.6 0 1 0 -11.2 0M116.5 1416.1a5.6 5.6 0 1 0 11.2 0a5.6 5.6 0 1 0 -11.2 0M109.5 1415.9a5.6 5.6 0 1 0 11.2 0a5.6 5.6 0 1 0 -11.2 0M113.0 1412.9a5.6 5.6 0 1 0 11.2 0a5.6 5.6 0 1 0 -11.2 0M118.5 1412.6a5.6 5.6 0 1 0 11.2 0a5.6 5.6 0 1 0 -11.2 0M109.0 1411.8a5.6 5.6 0 1 0 11.2 0a5.6 5.6 0 1 0 -11.2 0M105.0 1411.5a5.6 5.6 0 1 0 11.2 0a5.6 5.6 0 1 0 -11.2 0M122.5 1411.4a5.6 5.6 0 1 0 11.2 0a5.6 5.6 0 1 0 -11.2 0M101.0 1411.2a5.6 5.6 0 1 0 11.2 0a5.6 5.6 0 1 0 -11.2 0M126.5 1410.8a5.6 5.6 0 1 0 11.2 0a5.6 5.6 0 1 0 -11.2 0M107.7 1410.7a5.6 5.6 0 1 0 11.2 0a5.6 5.6 0 1 0 -11.2 0M113.0 1408.8a5.6 5.6 0 1 0 11.2 0a5.6 5.6 0 1 0 -11.2 0M117.0 1408.6a5.6 5.6 0 1 0 11.2 0a5.6 5.6 0 1 0 -11.2 0M102.5 1408.3a5.6 5.6 0 1 0 11.2 0a5.6 5.6 0 1 0 -11.2 0M121.0 1407.5a5.6 5.6 0 1 0 11.2 0a5.6 5.6 0 1 0 -11.2 0M98.5 1407.4a5.6 5.6 0 1 0 11.2 0a5.6 5.6 0 1 0 -11.2 0M117.5 1407.3a5.6 5.6 0 1 0 11.2 0a5.6 5.6 0 1 0 -11.2 0M109.5 1406.3a5.6 5.6 0 1 0 11.2 0a5.6 5.6 0 1 0 -11.2 0M113.0 1400.8a5.6 5.6 0 1 0 11.2 0a5.6 5.6 0 1 0 -11.2 0M116.5 1398.4a5.6 5.6 0 1 0 11.2 0a5.6 5.6 0 1 0 -11.2 0M110.0 1397.9a5.6 5.6 0 1 0 11.2 0a5.6 5.6 0 1 0 -11.2 0M106.0 1396.7a5.6 5.6 0 1 0 11.2 0a5.6 5.6 0 1 0 -11.2 0M120.0 1396.0a5.6 5.6 0 1 0 11.2 0a5.6 5.6 0 1 0 -11.2 0M113.0 1394.1a5.6 5.6 0 1 0 11.2 0a5.6 5.6 0 1 0 -11.2 0M117.0 1392.8a5.6 5.6 0 1 0 11.2 0a5.6 5.6 0 1 0 -11.2 0M111.0 1390.6a5.6 5.6 0 1 0 11.2 0a5.6 5.6 0 1 0 -11.2 0M113.0 1387.0a5.6 5.6 0 1 0 11.2 0a5.6 5.6 0 1 0 -11.2 0M117.0 1387.0a5.6 5.6 0 1 0 11.2 0a5.6 5.6 0 1 0 -11.2 0M109.0 1385.8a5.6 5.6 0 1 0 11.2 0a5.6 5.6 0 1 0 -11.2 0M121.0 1385.3a5.6 5.6 0 1 0 11.2 0a5.6 5.6 0 1 0 -11.2 0M105.0 1384.1a5.6 5.6 0 1 0 11.2 0a5.6 5.6 0 1 0 -11.2 0M113.0 1380.0a5.6 5.6 0 1 0 11.2 0a5.6 5.6 0 1 0 -11.2 0M117.0 1379.3a5.6 5.6 0 1 0 11.2 0a5.6 5.6 0 1 0 -11.2 0M113.0 1370.3a5.6 5.6 0 1 0 11.2 0a5.6 5.6 0 1 0 -11.2 0M117.0 1368.7a5.6 5.6 0 1 0 11.2 0a5.6 5.6 0 1 0 -11.2 0M109.0 1368.7a5.6 5.6 0 1 0 11.2 0a5.6 5.6 0 1 0 -11.2 0M121.0 1368.0a5.6 5.6 0 1 0 11.2 0a5.6 5.6 0 1 0 -11.2 0M105.5 1366.4a5.6 5.6 0 1 0 11.2 0a5.6 5.6 0 1 0 -11.2 0M113.0 1366.1a5.6 5.6 0 1 0 11.2 0a5.6 5.6 0 1 0 -11.2 0M113.0 1361.7a5.6 5.6 0 1 0 11.2 0a5.6 5.6 0 1 0 -11.2 0M113.0 1355.5a5.6 5.6 0 1 0 11.2 0a5.6 5.6 0 1 0 -11.2 0M113.0 1349.2a5.6 5.6 0 1 0 11.2 0a5.6 5.6 0 1 0 -11.2 0M113.0 1337.8a5.6 5.6 0 1 0 11.2 0a5.6 5.6 0 1 0 -11.2 0M113.0 1331.5a5.6 5.6 0 1 0 11.2 0a5.6 5.6 0 1 0 -11.2 0M116.0 1328.4a5.6 5.6 0 1 0 11.2 0a5.6 5.6 0 1 0 -11.2 0M113.0 1324.3a5.6 5.6 0 1 0 11.2 0a5.6 5.6 0 1 0 -11.2 0M116.0 1321.1a5.6 5.6 0 1 0 11.2 0a5.6 5.6 0 1 0 -11.2 0M113.0 1307.6a5.6 5.6 0 1 0 11.2 0a5.6 5.6 0 1 0 -11.2 0M113.0 1294.1a5.6 5.6 0 1 0 11.2 0a5.6 5.6 0 1 0 -11.2 0M117.0 1293.0a5.6 5.6 0 1 0 11.2 0a5.6 5.6 0 1 0 -11.2 0M113.0 1284.7a5.6 5.6 0 1 0 11.2 0a5.6 5.6 0 1 0 -11.2 0M113.0 1274.3a5.6 5.6 0 1 0 11.2 0a5.6 5.6 0 1 0 -11.2 0M113.0 1255.6a5.6 5.6 0 1 0 11.2 0a5.6 5.6 0 1 0 -11.2 0M113.0 1247.3a5.6 5.6 0 1 0 11.2 0a5.6 5.6 0 1 0 -11.2 0" fill="none" stroke="#48fb18" stroke-width="2.70"/>
<path d="M165.0 1335.7a5.6 5.6 0 1 0 11.2 0a5.6 5.6 0 1 0 -11.2 0M160.9 1340.9a5.6 5.6 0 1 0 11.2 0a5.6 5.6 0 1 0 -11.2 0M169.2 1343.0a5.6 5.6 0 1 0 11.2 0a5.6 5.6 0 1 0 -11.2 0M171.3 1347.1a5.6 5.6 0 1 0 11.2 0a5.6 5.6 0 1 0 -11.2 0M165.0 1361.7a5.6 5.6 0 1 0 11.2 0a5.6 5.6 0 1 0 -11.2 0M165.0 1372.1a5.6 5.6 0 1 0 11.2 0a5.6 5.6 0 1 0 -11.2 0M160.9 1390.8a5.6 5.6 0 1 0 11.2 0a5.6 5.6 0 1 0 -11.2 0M167.1 1388.8a5.6 5.6 0 1 0 11.2 0a5.6 5.6 0 1 0 -11.2 0M169.2 1395.0a5.6 5.6 0 1 0 11.2 0a5.6 5.6 0 1 0 -11.2 0M162.9 1401.2a5.6 5.6 0 1 0 11.2 0a5.6 5.6 0 1 0 -11.2 0M170.2 1403.3a5.6 5.6 0 1 0 11.2 0a5.6 5.6 0 1 0 -11.2 0M165.0 1409.6a5.6 5.6 0 1 0 11.2 0a5.6 5.6 0 1 0 -11.2 0M158.8 1413.7a5.6 5.6 0 1 0 11.2 0a5.6 5.6 0 1 0 -11.2 0M171.3 1413.7a5.6 5.6 0 1 0 11.2 0a5.6 5.6 0 1 0 -11.2 0M175.4 1422.0a5.6 5.6 0 1 0 11.2 0a5.6 5.6 0 1 0 -11.2 0M152.5 1428.3a5.6 5.6 0 1 0 11.2 0a5.6 5.6 0 1 0 -11.2 0M160.9 1426.2a5.6 5.6 0 1 0 11.2 0a5.6 5.6 0 1 0 -11.2 0M169.2 1424.1a5.6 5.6 0 1 0 11.2 0a5.6 5.6 0 1 0 -11.2 0M177.5 1428.3a5.6 5.6 0 1 0 11.2 0a5.6 5.6 0 1 0 -11.2 0M154.6 1434.5a5.6 5.6 0 1 0 11.2 0a5.6 5.6 0 1 0 -11.2 0M162.9 1432.5a5.6 5.6 0 1 0 11.2 0a5.6 5.6 0 1 0 -11.2 0M171.3 1434.5a5.6 5.6 0 1 0 11.2 0a5.6 5.6 0 1 0 -11.2 0M177.5 1436.6a5.6 5.6 0 1 0 11.2 0a5.6 5.6 0 1 0 -11.2 0M152.5 1440.8a5.6 5.6 0 1 0 11.2 0a5.6 5.6 0 1 0 -11.2 0M160.9 1442.9a5.6 5.6 0 1 0 11.2 0a5.6 5.6 0 1 0 -11.2 0M169.2 1442.9a5.6 5.6 0 1 0 11.2 0a5.6 5.6 0 1 0 -11.2 0M158.8 1449.1a5.6 5.6 0 1 0 11.2 0a5.6 5.6 0 1 0 -11.2 0M167.1 1451.2a5.6 5.6 0 1 0 11.2 0a5.6 5.6 0 1 0 -11.2 0M173.3 1447.0a5.6 5.6 0 1 0 11.2 0a5.6 5.6 0 1 0 -11.2 0M165.0 1467.8a5.6 5.6 0 1 0 11.2 0a5.6 5.6 0 1 0 -11.2 0M156.7 1420.0a5.6 5.6 0 1 0 11.2 0a5.6 5.6 0 1 0 -11.2 0M173.3 1430.4a5.6 5.6 0 1 0 11.2 0a5.6 5.6 0 1 0 -11.2 0M165.0 1438.7a5.6 5.6 0 1 0 11.2 0a5.6 5.6 0 1 0 -11.2 0M160.9 1417.9a5.6 5.6 0 1 0 11.2 0a5.6 5.6 0 1 0 -11.2 0M169.2 1417.9a5.6 5.6 0 1 0 11.2 0a5.6 5.6 0 1 0 -11.2 0M154.6 1447.0a5.6 5.6 0 1 0 11.2 0a5.6 5.6 0 1 0 -11.2 0M175.4 1440.8a5.6 5.6 0 1 0 11.2 0a5.6 5.6 0 1 0 -11.2 0M162.9 1457.4a5.6 5.6 0 1 0 11.2 0a5.6 5.6 0 1 0 -11.2 0M171.3 1453.3a5.6 5.6 0 1 0 11.2 0a5.6 5.6 0 1 0 -11.2 0M160.9 1405.4a5.6 5.6 0 1 0 11.2 0a5.6 5.6 0 1 0 -11.2 0" fill="none" stroke="#381ef2" stroke-width="2.70"/>
<path d="M217.5 1348.8a5.6 5.6 0 1 0 11.2 0a5.6 5.6 0 1 0 -11.2 0M210.8 1380.4a5.6 5.6 0 1 0 11.2 0a5.6 5.6 0 1 0 -11.2 0M218.1 1381.5a5.6 5.6 0 1 0 11.2 0a5.6 5.6 0 1 0 -11.2 0M224.3 1381.5a5.6 5.6 0 1 0 11.2 0a5.6 5.6 0 1 0 -11.2 0M215.0 1390.8a5.6 5.6 0 1 0 11.2 0a5.6 5.6 0 1 0 -11.2 0M221.2 1388.8a5.6 5.6 0 1 0 11.2 0a5.6 5.6 0 1 0 -11.2 0M212.9 1397.1a5.6 5.6 0 1 0 11.2 0a5.6 5.6 0 1 0 -11.2 0M223.3 1397.1a5.6 5.6 0 1 0 11.2 0a5.6 5.6 0 1 0 -11.2 0M217.0 1403.3a5.6 5.6 0 1 0 11.2 0a5.6 5.6 0 1 0 -11.2 0M210.8 1407.5a5.6 5.6 0 1 0 11.2 0a5.6 5.6 0 1 0 -11.2 0M222.2 1407.5a5.6 5.6 0 1 0 11.2 0a5.6 5.6 0 1 0 -11.2 0M212.9 1417.9a5.6 5.6 0 1 0 11.2 0a5.6 5.6 0 1 0 -11.2 0M221.2 1417.9a5.6 5.6 0 1 0 11.2 0a5.6 5.6 0 1 0 -11.2 0M204.6 1426.2a5.6 5.6 0 1 0 11.2 0a5.6 5.6 0 1 0 -11.2 0M217.0 1426.2a5.6 5.6 0 1 0 11.2 0a5.6 5.6 0 1 0 -11.2 0M227.4 1426.2a5.6 5.6 0 1 0 11.2 0a5.6 5.6 0 1 0 -11.2 0M230.6 1432.5a5.6 5.6 0 1 0 11.2 0a5.6 5.6 0 1 0 -11.2 0M208.7 1432.5a5.6 5.6 0 1 0 11.2 0a5.6 5.6 0 1 0 -11.2 0M219.1 1434.5a5.6 5.6 0 1 0 11.2 0a5.6 5.6 0 1 0 -11.2 0M210.8 1440.8a5.6 5.6 0 1 0 11.2 0a5.6 5.6 0 1 0 -11.2 0M223.3 1440.8a5.6 5.6 0 1 0 11.2 0a5.6 5.6 0 1 0 -11.2 0M217.0 1447.0a5.6 5.6 0 1 0 11.2 0a5.6 5.6 0 1 0 -11.2 0M208.7 1453.3a5.6 5.6 0 1 0 11.2 0a5.6 5.6 0 1 0 -11.2 0M215.0 1455.3a5.6 5.6 0 1 0 11.2 0a5.6 5.6 0 1 0 -11.2 0M223.3 1455.3a5.6 5.6 0 1 0 11.2 0a5.6 5.6 0 1 0 -11.2 0M210.8 1459.5a5.6 5.6 0 1 0 11.2 0a5.6 5.6 0 1 0 -11.2 0M223.3 1461.6a5.6 5.6 0 1 0 11.2 0a5.6 5.6 0 1 0 -11.2 0M219.1 1449.1a5.6 5.6 0 1 0 11.2 0a5.6 5.6 0 1 0 -11.2 0M227.4 1444.9a5.6 5.6 0 1 0 11.2 0a5.6 5.6 0 1 0 -11.2 0M215.0 1413.7a5.6 5.6 0 1 0 11.2 0a5.6 5.6 0 1 0 -11.2 0M225.4 1413.7a5.6 5.6 0 1 0 11.2 0a5.6 5.6 0 1 0 -11.2 0M206.6 1422.0a5.6 5.6 0 1 0 11.2 0a5.6 5.6 0 1 0 -11.2 0M217.0 1420.0a5.6 5.6 0 1 0 11.2 0a5.6 5.6 0 1 0 -11.2 0M212.9 1430.4a5.6 5.6 0 1 0 11.2 0a5.6 5.6 0 1 0 -11.2 0M221.2 1426.2a5.6 5.6 0 1 0 11.2 0a5.6 5.6 0 1 0 -11.2 0M204.6 1436.6a5.6 5.6 0 1 0 11.2 0a5.6 5.6 0 1 0 -11.2 0M215.0 1442.9a5.6 5.6 0 1 0 11.2 0a5.6 5.6 0 1 0 -11.2 0M221.2 1451.2a5.6 5.6 0 1 0 11.2 0a5.6 5.6 0 1 0 -11.2 0M217.0 1459.5a5.6 5.6 0 1 0 11.2 0a5.6 5.6 0 1 0 -11.2 0M227.4 1434.5a5.6 5.6 0 1 0 11.2 0a5.6 5.6 0 1 0 -11.2 0" fill="none" stroke="#ef7dae" stroke-width="2.70"/>
<polyline points="119.00,1177.60 119.00,1162.00 223.70,1162.00 223.70,1332.60" fill="none" stroke="#000" stroke-width="2.30"/>
<polyline points="119.00,1232.30 119.00,1217.10 171.70,1217.10 171.70,1320.10" fill="none" stroke="#000" stroke-width="2.30"/>
<text x="110.73" y="1103.30" font-size="24.00" font-weight="bold" textLength="107.36" lengthAdjust="spacingAndGlyphs" fill="#000">P=0.0001</text>
<text x="137.55" y="1149.50" font-size="20.50" font-weight="normal" textLength="66.26" lengthAdjust="spacingAndGlyphs" fill="#000">0.0005</text>
<text x="111.55" y="1204.20" font-size="20.50" font-weight="normal" textLength="66.30" lengthAdjust="spacingAndGlyphs" fill="#000">0.0033</text>
<text transform="translate(128.00 1514.30) rotate(-45)" x="0" y="0" font-size="26" font-weight="bold" text-anchor="end">CU</text>
<text transform="translate(179.40 1514.20) rotate(-45)" x="0" y="0" font-size="26" font-weight="bold" text-anchor="end">MCI</text>
<text transform="translate(232.00 1512.50) rotate(-45)" x="0" y="0" font-size="26" font-weight="bold" text-anchor="end">AD-dementia</text>
<text transform="rotate(-90)" x="-1411.63" y="23.51" font-size="23.00" font-weight="bold" textLength="130.31" lengthAdjust="spacingAndGlyphs">W0-2 (MFI)</text>
<line x1="91.00" y1="1685.40" x2="91.00" y2="1943.70" stroke="#000" stroke-width="5.40"/>
<line x1="83.20" y1="1941.00" x2="340.70" y2="1941.00" stroke="#000" stroke-width="5.40"/>
<line x1="91.00" y1="1941.00" x2="91.00" y2="1950.50" stroke="#000" stroke-width="5.00"/>
<text x="85.99" y="1973.80" font-size="21.00" font-weight="bold" textLength="10.04" lengthAdjust="spacingAndGlyphs">0</text>
<line x1="152.65" y1="1941.00" x2="152.65" y2="1950.50" stroke="#000" stroke-width="5.00"/>
<text x="147.31" y="1973.80" font-size="21.00" font-weight="bold" textLength="10.04" lengthAdjust="spacingAndGlyphs">1</text>
<line x1="214.30" y1="1941.00" x2="214.30" y2="1950.50" stroke="#000" stroke-width="5.00"/>
<text x="209.33" y="1973.80" font-size="21.00" font-weight="bold" textLength="10.04" lengthAdjust="spacingAndGlyphs">2</text>
<line x1="275.95" y1="1941.00" x2="275.95" y2="1950.50" stroke="#000" stroke-width="5.00"/>
<text x="271.05" y="1973.80" font-size="21.00" font-weight="bold" textLength="10.04" lengthAdjust="spacingAndGlyphs">3</text>
<line x1="337.60" y1="1941.00" x2="337.60" y2="1950.50" stroke="#000" stroke-width="5.00"/>
<text x="332.49" y="1973.80" font-size="21.00" font-weight="bold" textLength="10.04" lengthAdjust="spacingAndGlyphs">4</text>
<line x1="82.50" y1="1941.00" x2="91.00" y2="1941.00" stroke="#000" stroke-width="5.00"/>
<text x="68.40" y="1948.52" font-size="21.00" font-weight="bold" textLength="10.04" lengthAdjust="spacingAndGlyphs">0</text>
<line x1="82.50" y1="1877.60" x2="91.00" y2="1877.60" stroke="#000" stroke-width="5.00"/>
<text x="48.31" y="1885.12" font-size="21.00" font-weight="bold" textLength="30.13" lengthAdjust="spacingAndGlyphs">200</text>
<line x1="82.50" y1="1814.20" x2="91.00" y2="1814.20" stroke="#000" stroke-width="5.00"/>
<text x="48.31" y="1821.72" font-size="21.00" font-weight="bold" textLength="30.13" lengthAdjust="spacingAndGlyphs">400</text>
<line x1="82.50" y1="1750.80" x2="91.00" y2="1750.80" stroke="#000" stroke-width="5.00"/>
<text x="48.31" y="1758.32" font-size="21.00" font-weight="bold" textLength="30.13" lengthAdjust="spacingAndGlyphs">600</text>
<line x1="82.50" y1="1687.40" x2="91.00" y2="1687.40" stroke="#000" stroke-width="5.00"/>
<text x="48.31" y="1694.92" font-size="21.00" font-weight="bold" textLength="30.13" lengthAdjust="spacingAndGlyphs">800</text>
<path d="M117.2 1798.0a5.6 5.6 0 1 0 11.2 0a5.6 5.6 0 1 0 -11.2 0M117.2 1803.0a5.6 5.6 0 1 0 11.2 0a5.6 5.6 0 1 0 -11.2 0M117.2 1805.1a5.6 5.6 0 1 0 11.2 0a5.6 5.6 0 1 0 -11.2 0M117.2 1809.1a5.6 5.6 0 1 0 11.2 0a5.6 5.6 0 1 0 -11.2 0M117.2 1823.3a5.6 5.6 0 1 0 11.2 0a5.6 5.6 0 1 0 -11.2 0M117.2 1833.5a5.6 5.6 0 1 0 11.2 0a5.6 5.6 0 1 0 -11.2 0M117.2 1851.7a5.6 5.6 0 1 0 11.2 0a5.6 5.6 0 1 0 -11.2 0M117.2 1849.7a5.6 5.6 0 1 0 11.2 0a5.6 5.6 0 1 0 -11.2 0M117.2 1855.8a5.6 5.6 0 1 0 11.2 0a5.6 5.6 0 1 0 -11.2 0M117.2 1861.9a5.6 5.6 0 1 0 11.2 0a5.6 5.6 0 1 0 -11.2 0M117.2 1863.9a5.6 5.6 0 1 0 11.2 0a5.6 5.6 0 1 0 -11.2 0M117.2 1870.0a5.6 5.6 0 1 0 11.2 0a5.6 5.6 0 1 0 -11.2 0M117.2 1874.0a5.6 5.6 0 1 0 11.2 0a5.6 5.6 0 1 0 -11.2 0M117.2 1874.0a5.6 5.6 0 1 0 11.2 0a5.6 5.6 0 1 0 -11.2 0M117.2 1882.2a5.6 5.6 0 1 0 11.2 0a5.6 5.6 0 1 0 -11.2 0M117.2 1888.2a5.6 5.6 0 1 0 11.2 0a5.6 5.6 0 1 0 -11.2 0M117.2 1886.2a5.6 5.6 0 1 0 11.2 0a5.6 5.6 0 1 0 -11.2 0M117.2 1884.2a5.6 5.6 0 1 0 11.2 0a5.6 5.6 0 1 0 -11.2 0M117.2 1888.2a5.6 5.6 0 1 0 11.2 0a5.6 5.6 0 1 0 -11.2 0M117.2 1894.3a5.6 5.6 0 1 0 11.2 0a5.6 5.6 0 1 0 -11.2 0M117.2 1892.3a5.6 5.6 0 1 0 11.2 0a5.6 5.6 0 1 0 -11.2 0M117.2 1894.3a5.6 5.6 0 1 0 11.2 0a5.6 5.6 0 1 0 -11.2 0M117.2 1896.4a5.6 5.6 0 1 0 11.2 0a5.6 5.6 0 1 0 -11.2 0M117.2 1900.4a5.6 5.6 0 1 0 11.2 0a5.6 5.6 0 1 0 -11.2 0M117.2 1902.4a5.6 5.6 0 1 0 11.2 0a5.6 5.6 0 1 0 -11.2 0M117.2 1902.4a5.6 5.6 0 1 0 11.2 0a5.6 5.6 0 1 0 -11.2 0M117.2 1908.5a5.6 5.6 0 1 0 11.2 0a5.6 5.6 0 1 0 -11.2 0M117.2 1910.6a5.6 5.6 0 1 0 11.2 0a5.6 5.6 0 1 0 -11.2 0M117.2 1906.5a5.6 5.6 0 1 0 11.2 0a5.6 5.6 0 1 0 -11.2 0M117.2 1926.8a5.6 5.6 0 1 0 11.2 0a5.6 5.6 0 1 0 -11.2 0M117.2 1880.1a5.6 5.6 0 1 0 11.2 0a5.6 5.6 0 1 0 -11.2 0M117.2 1890.3a5.6 5.6 0 1 0 11.2 0a5.6 5.6 0 1 0 -11.2 0M117.2 1898.4a5.6 5.6 0 1 0 11.2 0a5.6 5.6 0 1 0 -11.2 0M117.2 1878.1a5.6 5.6 0 1 0 11.2 0a5.6 5.6 0 1 0 -11.2 0M117.2 1878.1a5.6 5.6 0 1 0 11.2 0a5.6 5.6 0 1 0 -11.2 0M117.2 1906.5a5.6 5.6 0 1 0 11.2 0a5.6 5.6 0 1 0 -11.2 0M117.2 1900.4a5.6 5.6 0 1 0 11.2 0a5.6 5.6 0 1 0 -11.2 0M117.2 1916.6a5.6 5.6 0 1 0 11.2 0a5.6 5.6 0 1 0 -11.2 0M117.2 1912.6a5.6 5.6 0 1 0 11.2 0a5.6 5.6 0 1 0 -11.2 0M117.2 1865.9a5.6 5.6 0 1 0 11.2 0a5.6 5.6 0 1 0 -11.2 0" fill="none" stroke="#381ef2" stroke-width="2.70"/>
<path d="M85.4 1711.7a5.6 5.6 0 1 0 11.2 0a5.6 5.6 0 1 0 -11.2 0M85.4 1719.9a5.6 5.6 0 1 0 11.2 0a5.6 5.6 0 1 0 -11.2 0M85.4 1738.1a5.6 5.6 0 1 0 11.2 0a5.6 5.6 0 1 0 -11.2 0M85.4 1748.3a5.6 5.6 0 1 0 11.2 0a5.6 5.6 0 1 0 -11.2 0M85.4 1756.4a5.6 5.6 0 1 0 11.2 0a5.6 5.6 0 1 0 -11.2 0M85.4 1757.4a5.6 5.6 0 1 0 11.2 0a5.6 5.6 0 1 0 -11.2 0M85.4 1770.6a5.6 5.6 0 1 0 11.2 0a5.6 5.6 0 1 0 -11.2 0M85.4 1783.8a5.6 5.6 0 1 0 11.2 0a5.6 5.6 0 1 0 -11.2 0M85.4 1786.8a5.6 5.6 0 1 0 11.2 0a5.6 5.6 0 1 0 -11.2 0M85.4 1790.9a5.6 5.6 0 1 0 11.2 0a5.6 5.6 0 1 0 -11.2 0M85.4 1793.9a5.6 5.6 0 1 0 11.2 0a5.6 5.6 0 1 0 -11.2 0M85.4 1800.0a5.6 5.6 0 1 0 11.2 0a5.6 5.6 0 1 0 -11.2 0M85.4 1811.1a5.6 5.6 0 1 0 11.2 0a5.6 5.6 0 1 0 -11.2 0M85.4 1817.2a5.6 5.6 0 1 0 11.2 0a5.6 5.6 0 1 0 -11.2 0M85.4 1823.3a5.6 5.6 0 1 0 11.2 0a5.6 5.6 0 1 0 -11.2 0M85.4 1831.7a5.6 5.6 0 1 0 11.2 0a5.6 5.6 0 1 0 -11.2 0M85.4 1830.2a5.6 5.6 0 1 0 11.2 0a5.6 5.6 0 1 0 -11.2 0M85.4 1829.5a5.6 5.6 0 1 0 11.2 0a5.6 5.6 0 1 0 -11.2 0M85.4 1827.6a5.6 5.6 0 1 0 11.2 0a5.6 5.6 0 1 0 -11.2 0M85.4 1830.2a5.6 5.6 0 1 0 11.2 0a5.6 5.6 0 1 0 -11.2 0M85.4 1827.9a5.6 5.6 0 1 0 11.2 0a5.6 5.6 0 1 0 -11.2 0M85.4 1855.0a5.6 5.6 0 1 0 11.2 0a5.6 5.6 0 1 0 -11.2 0M85.4 1848.0a5.6 5.6 0 1 0 11.2 0a5.6 5.6 0 1 0 -11.2 0M85.4 1840.5a5.6 5.6 0 1 0 11.2 0a5.6 5.6 0 1 0 -11.2 0M85.4 1845.1a5.6 5.6 0 1 0 11.2 0a5.6 5.6 0 1 0 -11.2 0M85.4 1841.1a5.6 5.6 0 1 0 11.2 0a5.6 5.6 0 1 0 -11.2 0M85.4 1853.6a5.6 5.6 0 1 0 11.2 0a5.6 5.6 0 1 0 -11.2 0M85.4 1848.0a5.6 5.6 0 1 0 11.2 0a5.6 5.6 0 1 0 -11.2 0M85.4 1851.5a5.6 5.6 0 1 0 11.2 0a5.6 5.6 0 1 0 -11.2 0M85.4 1846.8a5.6 5.6 0 1 0 11.2 0a5.6 5.6 0 1 0 -11.2 0M85.4 1846.3a5.6 5.6 0 1 0 11.2 0a5.6 5.6 0 1 0 -11.2 0M85.4 1871.1a5.6 5.6 0 1 0 11.2 0a5.6 5.6 0 1 0 -11.2 0M85.4 1867.8a5.6 5.6 0 1 0 11.2 0a5.6 5.6 0 1 0 -11.2 0M85.4 1866.8a5.6 5.6 0 1 0 11.2 0a5.6 5.6 0 1 0 -11.2 0M85.4 1856.7a5.6 5.6 0 1 0 11.2 0a5.6 5.6 0 1 0 -11.2 0M85.4 1859.1a5.6 5.6 0 1 0 11.2 0a5.6 5.6 0 1 0 -11.2 0M85.4 1868.7a5.6 5.6 0 1 0 11.2 0a5.6 5.6 0 1 0 -11.2 0M85.4 1858.6a5.6 5.6 0 1 0 11.2 0a5.6 5.6 0 1 0 -11.2 0M85.4 1869.1a5.6 5.6 0 1 0 11.2 0a5.6 5.6 0 1 0 -11.2 0M85.4 1861.5a5.6 5.6 0 1 0 11.2 0a5.6 5.6 0 1 0 -11.2 0M85.4 1869.3a5.6 5.6 0 1 0 11.2 0a5.6 5.6 0 1 0 -11.2 0M85.4 1871.2a5.6 5.6 0 1 0 11.2 0a5.6 5.6 0 1 0 -11.2 0M85.4 1857.4a5.6 5.6 0 1 0 11.2 0a5.6 5.6 0 1 0 -11.2 0M85.4 1867.9a5.6 5.6 0 1 0 11.2 0a5.6 5.6 0 1 0 -11.2 0M85.4 1867.8a5.6 5.6 0 1 0 11.2 0a5.6 5.6 0 1 0 -11.2 0M85.4 1871.5a5.6 5.6 0 1 0 11.2 0a5.6 5.6 0 1 0 -11.2 0M85.4 1873.3a5.6 5.6 0 1 0 11.2 0a5.6 5.6 0 1 0 -11.2 0M85.4 1882.5a5.6 5.6 0 1 0 11.2 0a5.6 5.6 0 1 0 -11.2 0M85.4 1871.9a5.6 5.6 0 1 0 11.2 0a5.6 5.6 0 1 0 -11.2 0M85.4 1878.6a5.6 5.6 0 1 0 11.2 0a5.6 5.6 0 1 0 -11.2 0M85.4 1876.4a5.6 5.6 0 1 0 11.2 0a5.6 5.6 0 1 0 -11.2 0M85.4 1883.9a5.6 5.6 0 1 0 11.2 0a5.6 5.6 0 1 0 -11.2 0M85.4 1872.2a5.6 5.6 0 1 0 11.2 0a5.6 5.6 0 1 0 -11.2 0M85.4 1876.2a5.6 5.6 0 1 0 11.2 0a5.6 5.6 0 1 0 -11.2 0M85.4 1871.8a5.6 5.6 0 1 0 11.2 0a5.6 5.6 0 1 0 -11.2 0M85.4 1872.9a5.6 5.6 0 1 0 11.2 0a5.6 5.6 0 1 0 -11.2 0M85.4 1882.4a5.6 5.6 0 1 0 11.2 0a5.6 5.6 0 1 0 -11.2 0M85.4 1881.4a5.6 5.6 0 1 0 11.2 0a5.6 5.6 0 1 0 -11.2 0M85.4 1884.5a5.6 5.6 0 1 0 11.2 0a5.6 5.6 0 1 0 -11.2 0M85.4 1884.8a5.6 5.6 0 1 0 11.2 0a5.6 5.6 0 1 0 -11.2 0M85.4 1886.1a5.6 5.6 0 1 0 11.2 0a5.6 5.6 0 1 0 -11.2 0M85.4 1896.0a5.6 5.6 0 1 0 11.2 0a5.6 5.6 0 1 0 -11.2 0M85.4 1892.1a5.6 5.6 0 1 0 11.2 0a5.6 5.6 0 1 0 -11.2 0M85.4 1899.7a5.6 5.6 0 1 0 11.2 0a5.6 5.6 0 1 0 -11.2 0M85.4 1891.2a5.6 5.6 0 1 0 11.2 0a5.6 5.6 0 1 0 -11.2 0M85.4 1895.5a5.6 5.6 0 1 0 11.2 0a5.6 5.6 0 1 0 -11.2 0M85.4 1895.9a5.6 5.6 0 1 0 11.2 0a5.6 5.6 0 1 0 -11.2 0M85.4 1889.4a5.6 5.6 0 1 0 11.2 0a5.6 5.6 0 1 0 -11.2 0M85.4 1893.7a5.6 5.6 0 1 0 11.2 0a5.6 5.6 0 1 0 -11.2 0M85.4 1895.8a5.6 5.6 0 1 0 11.2 0a5.6 5.6 0 1 0 -11.2 0M85.4 1893.7a5.6 5.6 0 1 0 11.2 0a5.6 5.6 0 1 0 -11.2 0M85.4 1890.9a5.6 5.6 0 1 0 11.2 0a5.6 5.6 0 1 0 -11.2 0M85.4 1899.1a5.6 5.6 0 1 0 11.2 0a5.6 5.6 0 1 0 -11.2 0M85.4 1887.4a5.6 5.6 0 1 0 11.2 0a5.6 5.6 0 1 0 -11.2 0M85.4 1912.2a5.6 5.6 0 1 0 11.2 0a5.6 5.6 0 1 0 -11.2 0M85.4 1903.0a5.6 5.6 0 1 0 11.2 0a5.6 5.6 0 1 0 -11.2 0M85.4 1901.8a5.6 5.6 0 1 0 11.2 0a5.6 5.6 0 1 0 -11.2 0M85.4 1912.2a5.6 5.6 0 1 0 11.2 0a5.6 5.6 0 1 0 -11.2 0M85.4 1902.5a5.6 5.6 0 1 0 11.2 0a5.6 5.6 0 1 0 -11.2 0M85.4 1907.8a5.6 5.6 0 1 0 11.2 0a5.6 5.6 0 1 0 -11.2 0M85.4 1905.1a5.6 5.6 0 1 0 11.2 0a5.6 5.6 0 1 0 -11.2 0M85.4 1912.4a5.6 5.6 0 1 0 11.2 0a5.6 5.6 0 1 0 -11.2 0M85.4 1911.9a5.6 5.6 0 1 0 11.2 0a5.6 5.6 0 1 0 -11.2 0M85.4 1910.2a5.6 5.6 0 1 0 11.2 0a5.6 5.6 0 1 0 -11.2 0M117.2 1812.8a5.6 5.6 0 1 0 11.2 0a5.6 5.6 0 1 0 -11.2 0M117.2 1833.6a5.6 5.6 0 1 0 11.2 0a5.6 5.6 0 1 0 -11.2 0M117.2 1846.1a5.6 5.6 0 1 0 11.2 0a5.6 5.6 0 1 0 -11.2 0M117.2 1862.2a5.6 5.6 0 1 0 11.2 0a5.6 5.6 0 1 0 -11.2 0M117.2 1863.0a5.6 5.6 0 1 0 11.2 0a5.6 5.6 0 1 0 -11.2 0M117.2 1889.0a5.6 5.6 0 1 0 11.2 0a5.6 5.6 0 1 0 -11.2 0" fill="none" stroke="#48fb18" stroke-width="2.70"/>
<path d="M117.2 1916.3a5.6 5.6 0 1 0 11.2 0a5.6 5.6 0 1 0 -11.2 0M147.8 1792.8a5.6 5.6 0 1 0 11.2 0a5.6 5.6 0 1 0 -11.2 0M147.8 1840.9a5.6 5.6 0 1 0 11.2 0a5.6 5.6 0 1 0 -11.2 0M147.8 1843.5a5.6 5.6 0 1 0 11.2 0a5.6 5.6 0 1 0 -11.2 0M147.8 1868.2a5.6 5.6 0 1 0 11.2 0a5.6 5.6 0 1 0 -11.2 0M147.8 1870.8a5.6 5.6 0 1 0 11.2 0a5.6 5.6 0 1 0 -11.2 0M147.8 1878.6a5.6 5.6 0 1 0 11.2 0a5.6 5.6 0 1 0 -11.2 0M147.8 1891.6a5.6 5.6 0 1 0 11.2 0a5.6 5.6 0 1 0 -11.2 0M147.8 1896.8a5.6 5.6 0 1 0 11.2 0a5.6 5.6 0 1 0 -11.2 0M147.8 1899.4a5.6 5.6 0 1 0 11.2 0a5.6 5.6 0 1 0 -11.2 0M147.8 1909.8a5.6 5.6 0 1 0 11.2 0a5.6 5.6 0 1 0 -11.2 0M147.8 1913.7a5.6 5.6 0 1 0 11.2 0a5.6 5.6 0 1 0 -11.2 0M209.0 1875.5a5.6 5.6 0 1 0 11.2 0a5.6 5.6 0 1 0 -11.2 0M209.0 1886.4a5.6 5.6 0 1 0 11.2 0a5.6 5.6 0 1 0 -11.2 0M209.0 1890.3a5.6 5.6 0 1 0 11.2 0a5.6 5.6 0 1 0 -11.2 0M209.0 1892.9a5.6 5.6 0 1 0 11.2 0a5.6 5.6 0 1 0 -11.2 0M209.0 1903.3a5.6 5.6 0 1 0 11.2 0a5.6 5.6 0 1 0 -11.2 0M209.0 1913.7a5.6 5.6 0 1 0 11.2 0a5.6 5.6 0 1 0 -11.2 0M270.6 1801.4a5.6 5.6 0 1 0 11.2 0a5.6 5.6 0 1 0 -11.2 0M270.6 1842.7a5.6 5.6 0 1 0 11.2 0a5.6 5.6 0 1 0 -11.2 0M270.6 1872.9a5.6 5.6 0 1 0 11.2 0a5.6 5.6 0 1 0 -11.2 0M270.6 1882.5a5.6 5.6 0 1 0 11.2 0a5.6 5.6 0 1 0 -11.2 0M270.6 1894.2a5.6 5.6 0 1 0 11.2 0a5.6 5.6 0 1 0 -11.2 0" fill="none" stroke="#ef7dae" stroke-width="2.70"/>
<line x1="91.00" y1="1857.30" x2="276.20" y2="1893.40" stroke="#000" stroke-width="2.20"/>
<text x="98.19" y="1644.50" font-size="23.50" font-weight="normal" textLength="207.05" lengthAdjust="spacingAndGlyphs" fill="#000">r= -0.3028, P= 0.0003</text>
<text x="165.21" y="2007.30" font-size="22.50" font-weight="bold" textLength="98.65" lengthAdjust="spacingAndGlyphs" fill="#000">CDR score</text>
<text transform="rotate(-90)" x="-1869.52" y="36.51" font-size="23.00" font-weight="bold" textLength="112.93" lengthAdjust="spacingAndGlyphs">W0-2 (MFI)</text>
<text x="10.30" y="147.00" font-size="58.00" font-weight="bold" fill="#000">a</text>
<text x="320.88" y="146.30" font-size="58.00" font-weight="bold" fill="#000">b</text>
<text x="672.73" y="147.00" font-size="58.00" font-weight="bold" fill="#000">c</text>
<text x="1044.62" y="162.70" font-size="58.00" font-weight="bold" fill="#000">d</text>
<text x="10.73" y="642.40" font-size="58.00" font-weight="bold" fill="#000">e</text>
<text x="402.81" y="641.10" font-size="58.00" font-weight="bold" fill="#000">f</text>
<text x="753.62" y="641.00" font-size="58.00" font-weight="bold" fill="#000">g</text>
<text x="1104.15" y="646.30" font-size="58.00" font-weight="bold" fill="#000">h</text>
<text x="18.85" y="1185.90" font-size="58.00" font-weight="bold" fill="#000">i</text>
<text x="305.21" y="1188.00" font-size="58.00" font-weight="bold" fill="#000">j</text>
<text x="655.45" y="1186.80" font-size="58.00" font-weight="bold" fill="#000">k</text>
<text x="1042.75" y="1186.30" font-size="58.00" font-weight="bold" fill="#000">l</text>
<text x="-0.72" y="1657.50" font-size="58.00" font-weight="bold" fill="#000">m</text>
<text x="370.48" y="1657.20" font-size="58.00" font-weight="bold" fill="#000">n</text>
<text x="722.93" y="1655.90" font-size="58.00" font-weight="bold" fill="#000">o</text>
<text x="1087.38" y="1655.90" font-size="58.00" font-weight="bold" fill="#000">p</text>
<text x="1.02" y="2127.20" font-size="58.00" font-weight="bold" fill="#000">q</text>
<text x="469.98" y="2128.10" font-size="58.00" font-weight="bold" fill="#000">r</text>
<ellipse cx="1374.6" cy="19.4" rx="9.3" ry="11.8" fill="none" stroke="#62d987" stroke-width="6.6"/>
<text x="1396.29" y="36.70" font-size="39.00" font-weight="normal" textLength="183.46" lengthAdjust="spacingAndGlyphs" fill="#000">CN (n=84)</text>
<ellipse cx="1376.7" cy="70.0" rx="9.3" ry="11.8" fill="none" stroke="#6b5ae8" stroke-width="6.6"/>
<text x="1395.74" y="83.90" font-size="39.00" font-weight="normal" textLength="199.72" lengthAdjust="spacingAndGlyphs" fill="#000">MCI (n=41)</text>
<ellipse cx="1376.7" cy="116.7" rx="9.3" ry="11.8" fill="none" stroke="#efb2c8" stroke-width="6.6"/>
<text x="1397.42" y="130.00" font-size="39.00" font-weight="normal" textLength="180.62" lengthAdjust="spacingAndGlyphs" fill="#000">AD (n=40)</text>
<line x1="90.00" y1="2173.90" x2="419.00" y2="2173.90" stroke="#b0b0b0" stroke-width="1.30" stroke-dasharray="4 4"/>
<line x1="90.00" y1="2222.50" x2="419.00" y2="2222.50" stroke="#b0b0b0" stroke-width="1.30" stroke-dasharray="4 4"/>
<line x1="90.00" y1="2271.70" x2="419.00" y2="2271.70" stroke="#b0b0b0" stroke-width="1.30" stroke-dasharray="4 4"/>
<line x1="90.00" y1="2320.30" x2="419.00" y2="2320.30" stroke="#b0b0b0" stroke-width="1.30" stroke-dasharray="4 4"/>
<line x1="90.00" y1="2369.50" x2="419.00" y2="2369.50" stroke="#b0b0b0" stroke-width="1.30" stroke-dasharray="4 4"/>
<line x1="90.00" y1="2418.20" x2="419.00" y2="2418.20" stroke="#b0b0b0" stroke-width="1.30" stroke-dasharray="4 4"/>
<line x1="88.10" y1="2166.40" x2="88.10" y2="2426.90" stroke="#707070" stroke-width="1.60"/>
<line x1="87.30" y1="2426.20" x2="420.50" y2="2426.20" stroke="#707070" stroke-width="1.60"/>
<text x="57.06" y="2182.70" font-size="17.50" font-weight="normal" stroke="#000" stroke-width="0.45">1.0</text>
<text x="57.13" y="2231.30" font-size="17.50" font-weight="normal" stroke="#000" stroke-width="0.45">0.8</text>
<text x="57.14" y="2280.50" font-size="17.50" font-weight="normal" stroke="#000" stroke-width="0.45">0.6</text>
<text x="56.89" y="2329.10" font-size="17.50" font-weight="normal" stroke="#000" stroke-width="0.45">0.4</text>
<text x="57.25" y="2378.30" font-size="17.50" font-weight="normal" stroke="#000" stroke-width="0.45">0.2</text>
<text x="57.06" y="2427.00" font-size="17.50" font-weight="normal" stroke="#000" stroke-width="0.45">0.0</text>
<text x="85.48" y="2449.60" font-size="17.00" font-weight="normal" stroke="#000" stroke-width="0.45">0.0</text>
<text x="147.88" y="2449.60" font-size="17.00" font-weight="normal" stroke="#000" stroke-width="0.45">0.2</text>
<text x="210.40" y="2449.60" font-size="17.00" font-weight="normal" stroke="#000" stroke-width="0.45">0.4</text>
<text x="272.83" y="2449.60" font-size="17.00" font-weight="normal" stroke="#000" stroke-width="0.45">0.6</text>
<text x="335.22" y="2449.60" font-size="17.00" font-weight="normal" stroke="#000" stroke-width="0.45">0.8</text>
<text x="397.87" y="2449.60" font-size="17.00" font-weight="normal" stroke="#000" stroke-width="0.45">1.0</text>
<text x="201.79" y="2141.00" font-size="20.00" font-weight="bold" textLength="104.38" lengthAdjust="spacingAndGlyphs" fill="#000">ROC Curve</text>
<text x="178.72" y="2490.60" font-size="23.00" font-weight="bold" textLength="151.81" lengthAdjust="spacingAndGlyphs" fill="#000">1 - Specificity</text>
<text transform="rotate(-90)" x="-2353.87" y="37.91" font-size="23.00" font-weight="bold" textLength="116.60" lengthAdjust="spacingAndGlyphs">Sensitivity</text>
<line x1="97.30" y1="2418.20" x2="410.00" y2="2173.90" stroke="#3fe0d0" stroke-width="1.60"/>
<polyline points="97.27,2418.17 97.27,2365.54 105.28,2365.54 105.28,2328.92 119.58,2328.92 119.58,2324.63 142.18,2324.63 142.18,2316.04 149.33,2316.04 149.33,2296.02 164.50,2296.02 164.50,2263.69 172.22,2263.69 172.22,2251.10 179.66,2251.10 179.66,2247.38 187.38,2247.38 187.38,2226.79 194.54,2226.79 194.54,2210.19 201.69,2206.47 216.85,2206.47 216.85,2193.89 246.03,2193.89 246.03,2190.17 283.22,2190.17 283.22,2185.88 298.96,2185.88 298.96,2181.87 313.83,2181.87 313.83,2177.87 380.49,2177.87 380.49,2173.86 409.96,2173.86" fill="none" stroke="#5bb8ec" stroke-width="1.70"/>
<polyline points="97.27,2418.17 97.27,2365.54 105.28,2365.54 105.28,2259.69 126.73,2259.69 126.73,2255.39 142.18,2255.39 142.18,2243.09 157.35,2243.09 157.35,2239.09 179.66,2239.09 179.66,2226.79 187.38,2226.79 187.38,2222.49 194.54,2222.49 194.54,2214.48 201.69,2214.48 201.69,2210.48 209.70,2210.48 209.70,2202.18 231.15,2202.18 231.15,2198.18 238.88,2198.18 238.88,2190.17 268.92,2190.17 268.92,2181.87 291.23,2181.87 291.23,2177.87 298.96,2177.87 298.96,2173.86 409.96,2173.86" fill="none" stroke="#a3306e" stroke-width="1.90"/>
<line x1="545.00" y1="2174.40" x2="873.00" y2="2174.40" stroke="#b0b0b0" stroke-width="1.30" stroke-dasharray="4 4"/>
<line x1="545.00" y1="2233.10" x2="873.00" y2="2233.10" stroke="#b0b0b0" stroke-width="1.30" stroke-dasharray="4 4"/>
<line x1="545.00" y1="2291.70" x2="873.00" y2="2291.70" stroke="#b0b0b0" stroke-width="1.30" stroke-dasharray="4 4"/>
<line x1="545.00" y1="2351.00" x2="873.00" y2="2351.00" stroke="#b0b0b0" stroke-width="1.30" stroke-dasharray="4 4"/>
<line x1="545.00" y1="2409.60" x2="873.00" y2="2409.60" stroke="#b0b0b0" stroke-width="1.30" stroke-dasharray="4 4"/>
<line x1="543.00" y1="2166.40" x2="543.00" y2="2425.50" stroke="#707070" stroke-width="1.60"/>
<line x1="542.20" y1="2424.80" x2="873.40" y2="2424.80" stroke="#707070" stroke-width="1.60"/>
<text x="510.76" y="2183.20" font-size="17.50" font-weight="normal" stroke="#000" stroke-width="0.45">1.0</text>
<text x="510.90" y="2241.90" font-size="17.50" font-weight="normal" stroke="#000" stroke-width="0.45">0.9</text>
<text x="510.83" y="2300.50" font-size="17.50" font-weight="normal" stroke="#000" stroke-width="0.45">0.8</text>
<text x="510.95" y="2359.80" font-size="17.50" font-weight="normal" stroke="#000" stroke-width="0.45">0.7</text>
<text x="510.84" y="2418.40" font-size="17.50" font-weight="normal" stroke="#000" stroke-width="0.45">0.6</text>
<text x="540.28" y="2449.00" font-size="17.00" font-weight="normal" stroke="#000" stroke-width="0.45">0.0</text>
<text x="602.78" y="2449.00" font-size="17.00" font-weight="normal" stroke="#000" stroke-width="0.45">0.2</text>
<text x="665.00" y="2449.00" font-size="17.00" font-weight="normal" stroke="#000" stroke-width="0.45">0.4</text>
<text x="727.23" y="2449.00" font-size="17.00" font-weight="normal" stroke="#000" stroke-width="0.45">0.6</text>
<text x="789.22" y="2449.00" font-size="17.00" font-weight="normal" stroke="#000" stroke-width="0.45">0.8</text>
<text x="850.67" y="2449.00" font-size="17.00" font-weight="normal" stroke="#000" stroke-width="0.45">1.0</text>
<text x="598.27" y="2141.50" font-size="20.00" font-weight="bold" textLength="217.22" lengthAdjust="spacingAndGlyphs" fill="#000">Precision-Recall Curve</text>
<text x="673.63" y="2488.30" font-size="23.00" font-weight="bold" textLength="69.24" lengthAdjust="spacingAndGlyphs" fill="#000">Recall</text>
<text transform="rotate(-90)" x="-2347.58" y="493.11" font-size="23.00" font-weight="bold" textLength="106.04" lengthAdjust="spacingAndGlyphs">Precision</text>
<polyline points="661.71,2200.18 666.00,2244.52 666.58,2200.18 671.15,2296.02 671.73,2243.09 676.88,2291.73 681.74,2301.74 682.60,2288.01 687.46,2298.88 702.62,2288.87 707.49,2309.46 708.35,2286.00 713.21,2306.60 743.25,2296.88 748.97,2295.16 749.54,2287.44 754.69,2294.59 764.70,2290.30 770.42,2304.60 771.28,2296.02 775.29,2303.17 791.31,2295.45 796.17,2301.17 797.03,2292.30 816.20,2293.16 820.49,2310.32 823.35,2301.74 824.78,2313.18 829.07,2308.89 833.36,2308.89 837.65,2327.49 838.23,2308.89 841.95,2354.66 842.80,2338.93 846.81,2357.53 851.96,2363.25 853.39,2371.83 854.82,2361.82 858.25,2404.73 859.11,2368.97 862.83,2411.88" fill="none" stroke="#5bb8ec" stroke-width="1.70"/>
<polyline points="552.14,2174.43 615.08,2174.43 619.66,2215.91 620.23,2174.43 625.38,2213.63 631.56,2211.03 637.74,2208.60 643.92,2206.32 650.10,2204.19 656.28,2202.22 662.46,2200.40 668.64,2198.73 674.82,2197.21 681.00,2195.84 687.17,2194.60 693.35,2193.51 699.53,2192.55 705.71,2191.72 711.89,2191.03 718.07,2190.46 724.25,2190.01 730.43,2189.68 736.61,2189.46 742.79,2189.34 748.97,2189.31 754.12,2228.79 754.69,2188.74 759.55,2250.24 759.84,2228.22 764.70,2248.81 770.42,2247.38 775.29,2265.98 776.15,2245.95 780.44,2291.73 781.01,2264.55 786.16,2288.87 791.31,2287.44 796.17,2298.88 797.03,2286.00 801.89,2292.30 806.19,2294.59 811.91,2301.74 813.34,2296.02 817.06,2307.46 820.49,2301.74 823.35,2311.75 827.64,2323.20 828.50,2304.60 830.50,2320.33 833.36,2324.63 838.23,2338.93 841.95,2346.08 842.80,2323.77 846.24,2348.94 850.53,2354.66 853.39,2341.79 856.25,2356.09 859.11,2354.66 860.54,2373.26 862.83,2416.17 863.40,2357.53" fill="none" stroke="#a3306e" stroke-width="1.90"/>
<text x="1028.07" y="2118.80" font-size="31.00" font-weight="bold" textLength="325.76" lengthAdjust="spacingAndGlyphs" fill="#000">Source of the Curves</text>
<line x1="924.90" y1="2166.30" x2="971.00" y2="2166.30" stroke="#6cc2f0" stroke-width="4.50"/>
<text x="993.72" y="2178.60" font-size="32.00" font-weight="bold" textLength="293.15" lengthAdjust="spacingAndGlyphs" fill="#000">Base model: Demo</text>
<line x1="924.90" y1="2213.90" x2="971.00" y2="2213.90" stroke="#b24c82" stroke-width="4.50"/>
<text x="993.72" y="2226.50" font-size="32.00" font-weight="bold" textLength="525.31" lengthAdjust="spacingAndGlyphs" fill="#000">New model: Demo + 4 Biomarkers</text>
<line x1="924.90" y1="2263.60" x2="971.00" y2="2263.60" stroke="#72e3da" stroke-width="4.50"/>
<text x="996.51" y="2276.30" font-size="32.00" font-weight="bold" textLength="235.01" lengthAdjust="spacingAndGlyphs" fill="#000">Reference Line</text>
</svg></body></html>
